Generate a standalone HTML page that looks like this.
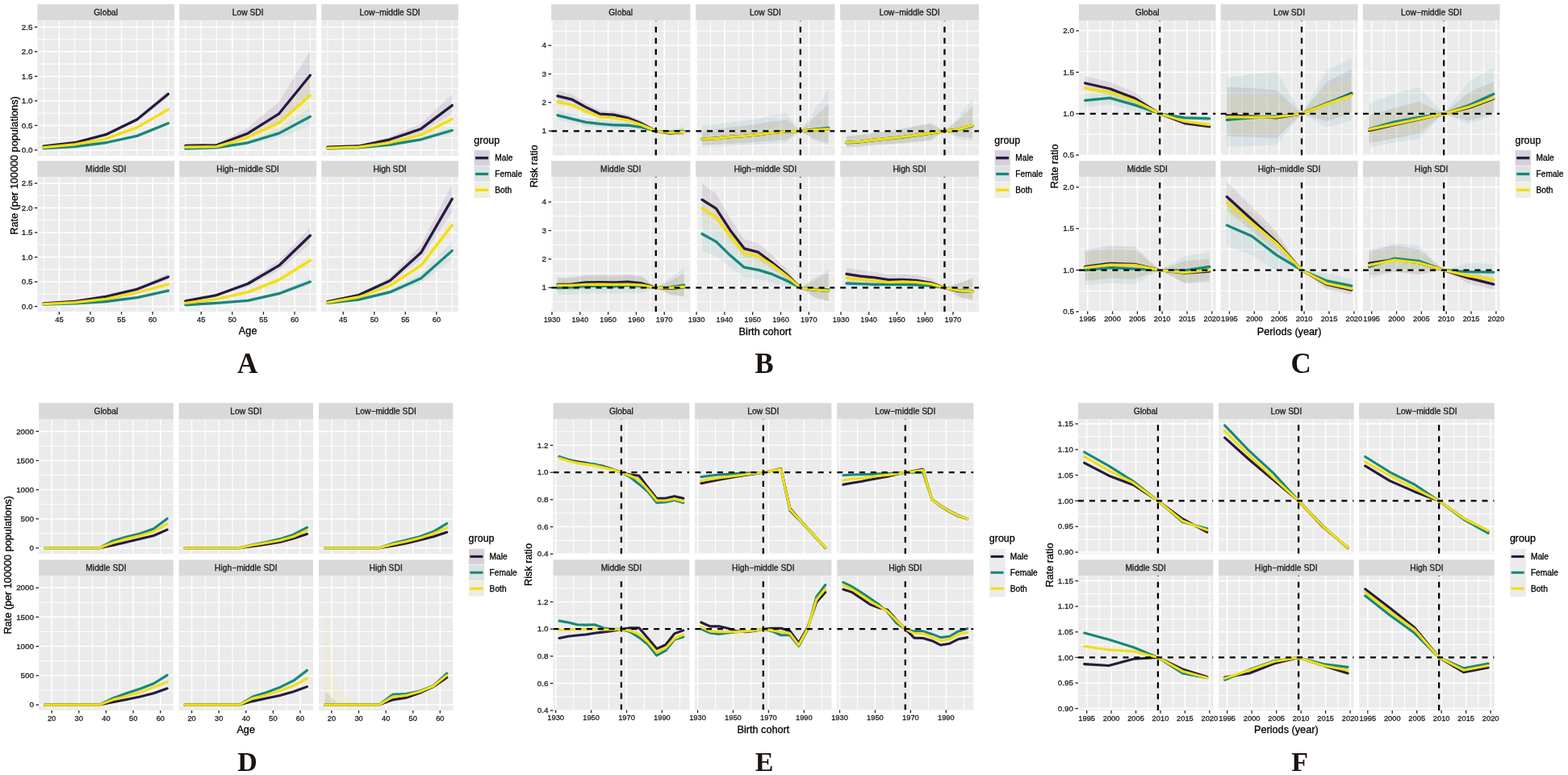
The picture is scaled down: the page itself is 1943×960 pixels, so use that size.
<!DOCTYPE html>
<html><head><meta charset="utf-8"><title>Age-period-cohort effects</title>
<style>html,body{margin:0;padding:0;background:#fff;}svg{display:block;}text{stroke-width:0.3px;}</style></head>
<body>
<svg width="1943" height="960" viewBox="0 0 1943 960" font-family="'Liberation Sans', Arial, Helvetica, sans-serif">
<rect width="1943" height="960" fill="#fff"/>
<rect x="46.4" y="5.2" width="169.7" height="20.3" fill="#d9d9d9"/>
<text x="131.25" y="19.15" font-size="10.3" fill="#1a1a1a" stroke="#1a1a1a" text-anchor="middle">Global</text>
<rect x="46.4" y="25.5" width="169.7" height="167.4" fill="#ebebeb"/>
<svg x="46.4" y="25.5" width="169.7" height="167.4" viewBox="46.4 25.5 169.7 167.4" overflow="hidden">
<line x1="46.4" x2="216.1" y1="170.66" y2="170.66" stroke="#fff" stroke-width="1.0"/>
<line x1="46.4" x2="216.1" y1="140.18" y2="140.18" stroke="#fff" stroke-width="1.0"/>
<line x1="46.4" x2="216.1" y1="109.7" y2="109.7" stroke="#fff" stroke-width="1.0"/>
<line x1="46.4" x2="216.1" y1="79.22" y2="79.22" stroke="#fff" stroke-width="1.0"/>
<line x1="46.4" x2="216.1" y1="48.74" y2="48.74" stroke="#fff" stroke-width="1.0"/>
<line x1="54.11" x2="54.11" y1="25.5" y2="192.9" stroke="#fff" stroke-width="1.0"/>
<line x1="92.68" x2="92.68" y1="25.5" y2="192.9" stroke="#fff" stroke-width="1.0"/>
<line x1="131.25" x2="131.25" y1="25.5" y2="192.9" stroke="#fff" stroke-width="1.0"/>
<line x1="169.82" x2="169.82" y1="25.5" y2="192.9" stroke="#fff" stroke-width="1.0"/>
<line x1="208.39" x2="208.39" y1="25.5" y2="192.9" stroke="#fff" stroke-width="1.0"/>
<line x1="46.4" x2="216.1" y1="185.9" y2="185.9" stroke="#fff" stroke-width="1.5"/>
<line x1="46.4" x2="216.1" y1="155.42" y2="155.42" stroke="#fff" stroke-width="1.5"/>
<line x1="46.4" x2="216.1" y1="124.94" y2="124.94" stroke="#fff" stroke-width="1.5"/>
<line x1="46.4" x2="216.1" y1="94.46" y2="94.46" stroke="#fff" stroke-width="1.5"/>
<line x1="46.4" x2="216.1" y1="63.98" y2="63.98" stroke="#fff" stroke-width="1.5"/>
<line x1="46.4" x2="216.1" y1="33.5" y2="33.5" stroke="#fff" stroke-width="1.5"/>
<line x1="73.4" x2="73.4" y1="25.5" y2="192.9" stroke="#fff" stroke-width="1.5"/>
<line x1="111.97" x2="111.97" y1="25.5" y2="192.9" stroke="#fff" stroke-width="1.5"/>
<line x1="150.53" x2="150.53" y1="25.5" y2="192.9" stroke="#fff" stroke-width="1.5"/>
<line x1="189.1" x2="189.1" y1="25.5" y2="192.9" stroke="#fff" stroke-width="1.5"/>
<polygon points="54.11,180.73 92.68,176.21 131.25,165.55 169.82,145.84 208.39,112.24 208.39,120.58 169.82,150.37 131.25,167.85 92.68,177.3 54.11,181.32" fill="#440154" fill-opacity="0.09"/>
<polygon points="54.11,183.64 92.68,181.38 131.25,176.21 169.82,167.35 208.39,150.68 208.39,154.67 169.82,169.45 131.25,177.3 92.68,181.89 54.11,183.89" fill="#21908c" fill-opacity="0.09"/>
<polygon points="54.11,182.41 92.68,178.47 131.25,171.04 169.82,156.18 208.39,132.59 208.39,138.63 169.82,159.54 131.25,172.72 92.68,179.31 54.11,182.81" fill="#fde725" fill-opacity="0.09"/>
<polyline points="54.11,181.02 92.68,176.76 131.25,166.7 169.82,148.1 208.39,116.41" fill="none" stroke="#251b40" stroke-width="3.3" stroke-linejoin="round" stroke-linecap="round"/>
<polyline points="54.11,183.77 92.68,181.63 131.25,176.76 169.82,168.4 208.39,152.68" fill="none" stroke="#17877b" stroke-width="3.3" stroke-linejoin="round" stroke-linecap="round"/>
<polyline points="54.11,182.61 92.68,178.89 131.25,171.88 169.82,157.86 208.39,135.61" fill="none" stroke="#f3de10" stroke-width="3.3" stroke-linejoin="round" stroke-linecap="round"/>
</svg>
<line x1="42.8" x2="46.4" y1="185.9" y2="185.9" stroke="#222" stroke-width="1.3"/>
<text transform="translate(40.4,189.07) scale(1,1)" font-size="9.9" fill="#1e1e1e" stroke="#1e1e1e" text-anchor="end">0.0</text>
<line x1="42.8" x2="46.4" y1="155.42" y2="155.42" stroke="#222" stroke-width="1.3"/>
<text transform="translate(40.4,158.59) scale(1,1)" font-size="9.9" fill="#1e1e1e" stroke="#1e1e1e" text-anchor="end">0.5</text>
<line x1="42.8" x2="46.4" y1="124.94" y2="124.94" stroke="#222" stroke-width="1.3"/>
<text transform="translate(40.4,128.11) scale(1,1)" font-size="9.9" fill="#1e1e1e" stroke="#1e1e1e" text-anchor="end">1.0</text>
<line x1="42.8" x2="46.4" y1="94.46" y2="94.46" stroke="#222" stroke-width="1.3"/>
<text transform="translate(40.4,97.63) scale(1,1)" font-size="9.9" fill="#1e1e1e" stroke="#1e1e1e" text-anchor="end">1.5</text>
<line x1="42.8" x2="46.4" y1="63.98" y2="63.98" stroke="#222" stroke-width="1.3"/>
<text transform="translate(40.4,67.15) scale(1,1)" font-size="9.9" fill="#1e1e1e" stroke="#1e1e1e" text-anchor="end">2.0</text>
<line x1="42.8" x2="46.4" y1="33.5" y2="33.5" stroke="#222" stroke-width="1.3"/>
<text transform="translate(40.4,36.67) scale(1,1)" font-size="9.9" fill="#1e1e1e" stroke="#1e1e1e" text-anchor="end">2.5</text>
<rect x="222.2" y="5.2" width="169.9" height="20.3" fill="#d9d9d9"/>
<text x="307.15" y="19.15" font-size="10.3" fill="#1a1a1a" stroke="#1a1a1a" text-anchor="middle">Low SDI</text>
<rect x="222.2" y="25.5" width="169.9" height="167.4" fill="#ebebeb"/>
<svg x="222.2" y="25.5" width="169.9" height="167.4" viewBox="222.2 25.5 169.9 167.4" overflow="hidden">
<line x1="222.2" x2="392.1" y1="170.66" y2="170.66" stroke="#fff" stroke-width="1.0"/>
<line x1="222.2" x2="392.1" y1="140.18" y2="140.18" stroke="#fff" stroke-width="1.0"/>
<line x1="222.2" x2="392.1" y1="109.7" y2="109.7" stroke="#fff" stroke-width="1.0"/>
<line x1="222.2" x2="392.1" y1="79.22" y2="79.22" stroke="#fff" stroke-width="1.0"/>
<line x1="222.2" x2="392.1" y1="48.74" y2="48.74" stroke="#fff" stroke-width="1.0"/>
<line x1="229.92" x2="229.92" y1="25.5" y2="192.9" stroke="#fff" stroke-width="1.0"/>
<line x1="268.54" x2="268.54" y1="25.5" y2="192.9" stroke="#fff" stroke-width="1.0"/>
<line x1="307.15" x2="307.15" y1="25.5" y2="192.9" stroke="#fff" stroke-width="1.0"/>
<line x1="345.76" x2="345.76" y1="25.5" y2="192.9" stroke="#fff" stroke-width="1.0"/>
<line x1="384.38" x2="384.38" y1="25.5" y2="192.9" stroke="#fff" stroke-width="1.0"/>
<line x1="222.2" x2="392.1" y1="185.9" y2="185.9" stroke="#fff" stroke-width="1.5"/>
<line x1="222.2" x2="392.1" y1="155.42" y2="155.42" stroke="#fff" stroke-width="1.5"/>
<line x1="222.2" x2="392.1" y1="124.94" y2="124.94" stroke="#fff" stroke-width="1.5"/>
<line x1="222.2" x2="392.1" y1="94.46" y2="94.46" stroke="#fff" stroke-width="1.5"/>
<line x1="222.2" x2="392.1" y1="63.98" y2="63.98" stroke="#fff" stroke-width="1.5"/>
<line x1="222.2" x2="392.1" y1="33.5" y2="33.5" stroke="#fff" stroke-width="1.5"/>
<line x1="249.23" x2="249.23" y1="25.5" y2="192.9" stroke="#fff" stroke-width="1.5"/>
<line x1="287.84" x2="287.84" y1="25.5" y2="192.9" stroke="#fff" stroke-width="1.5"/>
<line x1="326.46" x2="326.46" y1="25.5" y2="192.9" stroke="#fff" stroke-width="1.5"/>
<line x1="365.07" x2="365.07" y1="25.5" y2="192.9" stroke="#fff" stroke-width="1.5"/>
<polygon points="229.92,178.6 268.54,177.79 307.15,158.33 345.76,125.9 384.38,62.66 384.38,116.41 345.76,152.07 307.15,170.36 268.54,181.33 229.92,181.79" fill="#440154" fill-opacity="0.09"/>
<polygon points="229.92,183.56 268.54,182 307.15,174.2 345.76,159.37 384.38,132.84 384.38,156.05 345.76,170.98 307.15,179.32 268.54,183.71 229.92,184.58" fill="#21908c" fill-opacity="0.09"/>
<polygon points="229.92,181.18 268.54,180.4 307.15,165.45 345.76,142.65 384.38,98.61 384.38,135.83 345.76,161.09 307.15,174.17 268.54,182.74 229.92,183.19" fill="#fde725" fill-opacity="0.09"/>
<polyline points="229.92,180.41 268.54,179.8 307.15,165.17 345.76,140.79 384.38,93.24" fill="none" stroke="#251b40" stroke-width="3.3" stroke-linejoin="round" stroke-linecap="round"/>
<polyline points="229.92,184.07 268.54,182.85 307.15,176.76 345.76,165.17 384.38,144.45" fill="none" stroke="#17877b" stroke-width="3.3" stroke-linejoin="round" stroke-linecap="round"/>
<polyline points="229.92,182.24 268.54,181.63 307.15,170.05 345.76,152.37 384.38,118.23" fill="none" stroke="#f3de10" stroke-width="3.3" stroke-linejoin="round" stroke-linecap="round"/>
</svg>
<rect x="398.3" y="5.2" width="169.6" height="20.3" fill="#d9d9d9"/>
<text x="483.1" y="19.15" font-size="10.3" fill="#1a1a1a" stroke="#1a1a1a" text-anchor="middle">Low&#8722;middle SDI</text>
<rect x="398.3" y="25.5" width="169.6" height="167.4" fill="#ebebeb"/>
<svg x="398.3" y="25.5" width="169.6" height="167.4" viewBox="398.3 25.5 169.6 167.4" overflow="hidden">
<line x1="398.3" x2="567.9" y1="170.66" y2="170.66" stroke="#fff" stroke-width="1.0"/>
<line x1="398.3" x2="567.9" y1="140.18" y2="140.18" stroke="#fff" stroke-width="1.0"/>
<line x1="398.3" x2="567.9" y1="109.7" y2="109.7" stroke="#fff" stroke-width="1.0"/>
<line x1="398.3" x2="567.9" y1="79.22" y2="79.22" stroke="#fff" stroke-width="1.0"/>
<line x1="398.3" x2="567.9" y1="48.74" y2="48.74" stroke="#fff" stroke-width="1.0"/>
<line x1="406.01" x2="406.01" y1="25.5" y2="192.9" stroke="#fff" stroke-width="1.0"/>
<line x1="444.55" x2="444.55" y1="25.5" y2="192.9" stroke="#fff" stroke-width="1.0"/>
<line x1="483.1" x2="483.1" y1="25.5" y2="192.9" stroke="#fff" stroke-width="1.0"/>
<line x1="521.65" x2="521.65" y1="25.5" y2="192.9" stroke="#fff" stroke-width="1.0"/>
<line x1="560.19" x2="560.19" y1="25.5" y2="192.9" stroke="#fff" stroke-width="1.0"/>
<line x1="398.3" x2="567.9" y1="185.9" y2="185.9" stroke="#fff" stroke-width="1.5"/>
<line x1="398.3" x2="567.9" y1="155.42" y2="155.42" stroke="#fff" stroke-width="1.5"/>
<line x1="398.3" x2="567.9" y1="124.94" y2="124.94" stroke="#fff" stroke-width="1.5"/>
<line x1="398.3" x2="567.9" y1="94.46" y2="94.46" stroke="#fff" stroke-width="1.5"/>
<line x1="398.3" x2="567.9" y1="63.98" y2="63.98" stroke="#fff" stroke-width="1.5"/>
<line x1="398.3" x2="567.9" y1="33.5" y2="33.5" stroke="#fff" stroke-width="1.5"/>
<line x1="425.28" x2="425.28" y1="25.5" y2="192.9" stroke="#fff" stroke-width="1.5"/>
<line x1="463.83" x2="463.83" y1="25.5" y2="192.9" stroke="#fff" stroke-width="1.5"/>
<line x1="502.37" x2="502.37" y1="25.5" y2="192.9" stroke="#fff" stroke-width="1.5"/>
<line x1="540.92" x2="540.92" y1="25.5" y2="192.9" stroke="#fff" stroke-width="1.5"/>
<polygon points="406.01,181.33 444.55,179.8 483.1,169.52 521.65,153.13 560.19,116.79 560.19,140.56 521.65,164.41 483.1,175.15 444.55,181.9 406.01,182.9" fill="#440154" fill-opacity="0.09"/>
<polygon points="406.01,183.71 444.55,182.24 483.1,178.07 521.65,170.17 560.19,156.64 560.19,165.91 521.65,175.15 483.1,180.55 444.55,183.4 406.01,184.4" fill="#21908c" fill-opacity="0.09"/>
<polygon points="406.01,182.97 444.55,181.51 483.1,174.93 521.65,163.22 560.19,139.81 560.19,154.41 521.65,170.4 483.1,178.4 444.55,182.9 406.01,183.9" fill="#fde725" fill-opacity="0.09"/>
<polyline points="406.01,182.24 444.55,181.02 483.1,172.79 521.65,159.69 560.19,130.61" fill="none" stroke="#251b40" stroke-width="3.3" stroke-linejoin="round" stroke-linecap="round"/>
<polyline points="406.01,184.07 444.55,182.85 483.1,179.38 521.65,172.79 560.19,161.52" fill="none" stroke="#17877b" stroke-width="3.3" stroke-linejoin="round" stroke-linecap="round"/>
<polyline points="406.01,183.46 444.55,182.24 483.1,176.76 521.65,167 560.19,147.5" fill="none" stroke="#f3de10" stroke-width="3.3" stroke-linejoin="round" stroke-linecap="round"/>
</svg>
<rect x="46.4" y="199.2" width="169.7" height="20.1" fill="#d9d9d9"/>
<text x="131.25" y="213.05" font-size="10.3" fill="#1a1a1a" stroke="#1a1a1a" text-anchor="middle">Middle SDI</text>
<rect x="46.4" y="219.3" width="169.7" height="166.8" fill="#ebebeb"/>
<svg x="46.4" y="219.3" width="169.7" height="166.8" viewBox="46.4 219.3 169.7 166.8" overflow="hidden">
<line x1="46.4" x2="216.1" y1="364.34" y2="364.34" stroke="#fff" stroke-width="1.0"/>
<line x1="46.4" x2="216.1" y1="333.82" y2="333.82" stroke="#fff" stroke-width="1.0"/>
<line x1="46.4" x2="216.1" y1="303.3" y2="303.3" stroke="#fff" stroke-width="1.0"/>
<line x1="46.4" x2="216.1" y1="272.78" y2="272.78" stroke="#fff" stroke-width="1.0"/>
<line x1="46.4" x2="216.1" y1="242.26" y2="242.26" stroke="#fff" stroke-width="1.0"/>
<line x1="54.11" x2="54.11" y1="219.3" y2="386.1" stroke="#fff" stroke-width="1.0"/>
<line x1="92.68" x2="92.68" y1="219.3" y2="386.1" stroke="#fff" stroke-width="1.0"/>
<line x1="131.25" x2="131.25" y1="219.3" y2="386.1" stroke="#fff" stroke-width="1.0"/>
<line x1="169.82" x2="169.82" y1="219.3" y2="386.1" stroke="#fff" stroke-width="1.0"/>
<line x1="208.39" x2="208.39" y1="219.3" y2="386.1" stroke="#fff" stroke-width="1.0"/>
<line x1="46.4" x2="216.1" y1="379.6" y2="379.6" stroke="#fff" stroke-width="1.5"/>
<line x1="46.4" x2="216.1" y1="349.08" y2="349.08" stroke="#fff" stroke-width="1.5"/>
<line x1="46.4" x2="216.1" y1="318.56" y2="318.56" stroke="#fff" stroke-width="1.5"/>
<line x1="46.4" x2="216.1" y1="288.04" y2="288.04" stroke="#fff" stroke-width="1.5"/>
<line x1="46.4" x2="216.1" y1="257.52" y2="257.52" stroke="#fff" stroke-width="1.5"/>
<line x1="46.4" x2="216.1" y1="227" y2="227" stroke="#fff" stroke-width="1.5"/>
<line x1="73.4" x2="73.4" y1="219.3" y2="386.1" stroke="#fff" stroke-width="1.5"/>
<line x1="111.97" x2="111.97" y1="219.3" y2="386.1" stroke="#fff" stroke-width="1.5"/>
<line x1="150.53" x2="150.53" y1="219.3" y2="386.1" stroke="#fff" stroke-width="1.5"/>
<line x1="189.1" x2="189.1" y1="219.3" y2="386.1" stroke="#fff" stroke-width="1.5"/>
<polygon points="54.11,375.5 92.68,372.76 131.25,365.93 169.82,355.67 208.39,338.58 208.39,346.64 169.82,360.37 131.25,368.61 92.68,374.11 54.11,376.3" fill="#440154" fill-opacity="0.09"/>
<polygon points="54.11,376.91 92.68,375.57 131.25,372.89 169.82,367.51 208.39,358.11 208.39,362.02 169.82,369.71 131.25,374.11 92.68,376.3 54.11,377.4" fill="#21908c" fill-opacity="0.09"/>
<polygon points="54.11,376.24 92.68,374.23 131.25,369.53 169.82,360.8 208.39,349.39 208.39,354.88 169.82,364.22 131.25,371.36 92.68,375.21 54.11,376.85" fill="#fde725" fill-opacity="0.09"/>
<polyline points="54.11,375.94 92.68,373.5 131.25,367.39 169.82,358.24 208.39,342.98" fill="none" stroke="#251b40" stroke-width="3.3" stroke-linejoin="round" stroke-linecap="round"/>
<polyline points="54.11,377.16 92.68,375.94 131.25,373.5 169.82,368.61 208.39,360.07" fill="none" stroke="#17877b" stroke-width="3.3" stroke-linejoin="round" stroke-linecap="round"/>
<polyline points="54.11,376.55 92.68,374.72 131.25,370.44 169.82,362.51 208.39,352.13" fill="none" stroke="#f3de10" stroke-width="3.3" stroke-linejoin="round" stroke-linecap="round"/>
</svg>
<line x1="42.8" x2="46.4" y1="379.6" y2="379.6" stroke="#222" stroke-width="1.3"/>
<text transform="translate(40.4,382.77) scale(1,1)" font-size="9.9" fill="#1e1e1e" stroke="#1e1e1e" text-anchor="end">0.0</text>
<line x1="42.8" x2="46.4" y1="349.08" y2="349.08" stroke="#222" stroke-width="1.3"/>
<text transform="translate(40.4,352.25) scale(1,1)" font-size="9.9" fill="#1e1e1e" stroke="#1e1e1e" text-anchor="end">0.5</text>
<line x1="42.8" x2="46.4" y1="318.56" y2="318.56" stroke="#222" stroke-width="1.3"/>
<text transform="translate(40.4,321.73) scale(1,1)" font-size="9.9" fill="#1e1e1e" stroke="#1e1e1e" text-anchor="end">1.0</text>
<line x1="42.8" x2="46.4" y1="288.04" y2="288.04" stroke="#222" stroke-width="1.3"/>
<text transform="translate(40.4,291.21) scale(1,1)" font-size="9.9" fill="#1e1e1e" stroke="#1e1e1e" text-anchor="end">1.5</text>
<line x1="42.8" x2="46.4" y1="257.52" y2="257.52" stroke="#222" stroke-width="1.3"/>
<text transform="translate(40.4,260.69) scale(1,1)" font-size="9.9" fill="#1e1e1e" stroke="#1e1e1e" text-anchor="end">2.0</text>
<line x1="42.8" x2="46.4" y1="227" y2="227" stroke="#222" stroke-width="1.3"/>
<text transform="translate(40.4,230.17) scale(1,1)" font-size="9.9" fill="#1e1e1e" stroke="#1e1e1e" text-anchor="end">2.5</text>
<line x1="73.4" x2="73.4" y1="386.1" y2="389.7" stroke="#222" stroke-width="1.3"/>
<text transform="translate(73.4,398.9) scale(1,1)" font-size="9.3" fill="#1e1e1e" stroke="#1e1e1e" text-anchor="middle">45</text>
<line x1="111.97" x2="111.97" y1="386.1" y2="389.7" stroke="#222" stroke-width="1.3"/>
<text transform="translate(111.97,398.9) scale(1,1)" font-size="9.3" fill="#1e1e1e" stroke="#1e1e1e" text-anchor="middle">50</text>
<line x1="150.53" x2="150.53" y1="386.1" y2="389.7" stroke="#222" stroke-width="1.3"/>
<text transform="translate(150.53,398.9) scale(1,1)" font-size="9.3" fill="#1e1e1e" stroke="#1e1e1e" text-anchor="middle">55</text>
<line x1="189.1" x2="189.1" y1="386.1" y2="389.7" stroke="#222" stroke-width="1.3"/>
<text transform="translate(189.1,398.9) scale(1,1)" font-size="9.3" fill="#1e1e1e" stroke="#1e1e1e" text-anchor="middle">60</text>
<rect x="222.2" y="199.2" width="169.9" height="20.1" fill="#d9d9d9"/>
<text x="307.15" y="213.05" font-size="10.3" fill="#1a1a1a" stroke="#1a1a1a" text-anchor="middle">High&#8722;middle SDI</text>
<rect x="222.2" y="219.3" width="169.9" height="166.8" fill="#ebebeb"/>
<svg x="222.2" y="219.3" width="169.9" height="166.8" viewBox="222.2 219.3 169.9 166.8" overflow="hidden">
<line x1="222.2" x2="392.1" y1="364.34" y2="364.34" stroke="#fff" stroke-width="1.0"/>
<line x1="222.2" x2="392.1" y1="333.82" y2="333.82" stroke="#fff" stroke-width="1.0"/>
<line x1="222.2" x2="392.1" y1="303.3" y2="303.3" stroke="#fff" stroke-width="1.0"/>
<line x1="222.2" x2="392.1" y1="272.78" y2="272.78" stroke="#fff" stroke-width="1.0"/>
<line x1="222.2" x2="392.1" y1="242.26" y2="242.26" stroke="#fff" stroke-width="1.0"/>
<line x1="229.92" x2="229.92" y1="219.3" y2="386.1" stroke="#fff" stroke-width="1.0"/>
<line x1="268.54" x2="268.54" y1="219.3" y2="386.1" stroke="#fff" stroke-width="1.0"/>
<line x1="307.15" x2="307.15" y1="219.3" y2="386.1" stroke="#fff" stroke-width="1.0"/>
<line x1="345.76" x2="345.76" y1="219.3" y2="386.1" stroke="#fff" stroke-width="1.0"/>
<line x1="384.38" x2="384.38" y1="219.3" y2="386.1" stroke="#fff" stroke-width="1.0"/>
<line x1="222.2" x2="392.1" y1="379.6" y2="379.6" stroke="#fff" stroke-width="1.5"/>
<line x1="222.2" x2="392.1" y1="349.08" y2="349.08" stroke="#fff" stroke-width="1.5"/>
<line x1="222.2" x2="392.1" y1="318.56" y2="318.56" stroke="#fff" stroke-width="1.5"/>
<line x1="222.2" x2="392.1" y1="288.04" y2="288.04" stroke="#fff" stroke-width="1.5"/>
<line x1="222.2" x2="392.1" y1="257.52" y2="257.52" stroke="#fff" stroke-width="1.5"/>
<line x1="222.2" x2="392.1" y1="227" y2="227" stroke="#fff" stroke-width="1.5"/>
<line x1="249.23" x2="249.23" y1="219.3" y2="386.1" stroke="#fff" stroke-width="1.5"/>
<line x1="287.84" x2="287.84" y1="219.3" y2="386.1" stroke="#fff" stroke-width="1.5"/>
<line x1="326.46" x2="326.46" y1="219.3" y2="386.1" stroke="#fff" stroke-width="1.5"/>
<line x1="365.07" x2="365.07" y1="219.3" y2="386.1" stroke="#fff" stroke-width="1.5"/>
<polygon points="229.92,372.08 268.54,363.88 307.15,348.15 345.76,322.86 384.38,281.15 384.38,302.25 345.76,335.02 307.15,354.89 268.54,367.25 229.92,373.69" fill="#440154" fill-opacity="0.09"/>
<polygon points="229.92,377.49 268.54,374.69 307.15,371.18 345.76,361.35 384.38,344.5 384.38,352.74 345.76,365.63 307.15,373.15 268.54,375.84 229.92,377.99" fill="#21908c" fill-opacity="0.09"/>
<polygon points="229.92,374.9 268.54,369.53 307.15,360.13 345.76,343.34 384.38,316.82 384.38,328.23 345.76,349.93 307.15,363.67 268.54,371.36 229.92,375.75" fill="#fde725" fill-opacity="0.09"/>
<polyline points="229.92,372.89 268.54,365.56 307.15,351.52 345.76,328.94 384.38,291.7" fill="none" stroke="#251b40" stroke-width="3.3" stroke-linejoin="round" stroke-linecap="round"/>
<polyline points="229.92,377.77 268.54,375.33 307.15,372.28 345.76,363.73 384.38,349.08" fill="none" stroke="#17877b" stroke-width="3.3" stroke-linejoin="round" stroke-linecap="round"/>
<polyline points="229.92,375.33 268.54,370.44 307.15,361.9 345.76,346.64 384.38,322.53" fill="none" stroke="#f3de10" stroke-width="3.3" stroke-linejoin="round" stroke-linecap="round"/>
</svg>
<line x1="249.23" x2="249.23" y1="386.1" y2="389.7" stroke="#222" stroke-width="1.3"/>
<text transform="translate(249.23,398.9) scale(1,1)" font-size="9.3" fill="#1e1e1e" stroke="#1e1e1e" text-anchor="middle">45</text>
<line x1="287.84" x2="287.84" y1="386.1" y2="389.7" stroke="#222" stroke-width="1.3"/>
<text transform="translate(287.84,398.9) scale(1,1)" font-size="9.3" fill="#1e1e1e" stroke="#1e1e1e" text-anchor="middle">50</text>
<line x1="326.46" x2="326.46" y1="386.1" y2="389.7" stroke="#222" stroke-width="1.3"/>
<text transform="translate(326.46,398.9) scale(1,1)" font-size="9.3" fill="#1e1e1e" stroke="#1e1e1e" text-anchor="middle">55</text>
<line x1="365.07" x2="365.07" y1="386.1" y2="389.7" stroke="#222" stroke-width="1.3"/>
<text transform="translate(365.07,398.9) scale(1,1)" font-size="9.3" fill="#1e1e1e" stroke="#1e1e1e" text-anchor="middle">60</text>
<rect x="398.3" y="199.2" width="169.6" height="20.1" fill="#d9d9d9"/>
<text x="483.1" y="213.05" font-size="10.3" fill="#1a1a1a" stroke="#1a1a1a" text-anchor="middle">High SDI</text>
<rect x="398.3" y="219.3" width="169.6" height="166.8" fill="#ebebeb"/>
<svg x="398.3" y="219.3" width="169.6" height="166.8" viewBox="398.3 219.3 169.6 166.8" overflow="hidden">
<line x1="398.3" x2="567.9" y1="364.34" y2="364.34" stroke="#fff" stroke-width="1.0"/>
<line x1="398.3" x2="567.9" y1="333.82" y2="333.82" stroke="#fff" stroke-width="1.0"/>
<line x1="398.3" x2="567.9" y1="303.3" y2="303.3" stroke="#fff" stroke-width="1.0"/>
<line x1="398.3" x2="567.9" y1="272.78" y2="272.78" stroke="#fff" stroke-width="1.0"/>
<line x1="398.3" x2="567.9" y1="242.26" y2="242.26" stroke="#fff" stroke-width="1.0"/>
<line x1="406.01" x2="406.01" y1="219.3" y2="386.1" stroke="#fff" stroke-width="1.0"/>
<line x1="444.55" x2="444.55" y1="219.3" y2="386.1" stroke="#fff" stroke-width="1.0"/>
<line x1="483.1" x2="483.1" y1="219.3" y2="386.1" stroke="#fff" stroke-width="1.0"/>
<line x1="521.65" x2="521.65" y1="219.3" y2="386.1" stroke="#fff" stroke-width="1.0"/>
<line x1="560.19" x2="560.19" y1="219.3" y2="386.1" stroke="#fff" stroke-width="1.0"/>
<line x1="398.3" x2="567.9" y1="379.6" y2="379.6" stroke="#fff" stroke-width="1.5"/>
<line x1="398.3" x2="567.9" y1="349.08" y2="349.08" stroke="#fff" stroke-width="1.5"/>
<line x1="398.3" x2="567.9" y1="318.56" y2="318.56" stroke="#fff" stroke-width="1.5"/>
<line x1="398.3" x2="567.9" y1="288.04" y2="288.04" stroke="#fff" stroke-width="1.5"/>
<line x1="398.3" x2="567.9" y1="257.52" y2="257.52" stroke="#fff" stroke-width="1.5"/>
<line x1="398.3" x2="567.9" y1="227" y2="227" stroke="#fff" stroke-width="1.5"/>
<line x1="425.28" x2="425.28" y1="219.3" y2="386.1" stroke="#fff" stroke-width="1.5"/>
<line x1="463.83" x2="463.83" y1="219.3" y2="386.1" stroke="#fff" stroke-width="1.5"/>
<line x1="502.37" x2="502.37" y1="219.3" y2="386.1" stroke="#fff" stroke-width="1.5"/>
<line x1="540.92" x2="540.92" y1="219.3" y2="386.1" stroke="#fff" stroke-width="1.5"/>
<polygon points="406.01,372.64 444.55,363.6 483.1,343.42 521.65,303.75 560.19,227.9 560.19,262.5 521.65,321.05 483.1,351.67 444.55,367.25 406.01,374.23" fill="#440154" fill-opacity="0.09"/>
<polygon points="406.01,374.6 444.55,369.6 483.1,358.89 521.65,338.89 560.19,298.9 560.19,321.66 521.65,350.37 483.1,364.73 444.55,372.42 406.01,376.01" fill="#21908c" fill-opacity="0.09"/>
<polygon points="406.01,374.23 444.55,366.84 483.1,351.4 521.65,323.87 560.19,268.81 560.19,288.96 521.65,334 483.1,356.53 444.55,369.16 406.01,375.21" fill="#fde725" fill-opacity="0.09"/>
<polyline points="406.01,373.5 444.55,365.56 483.1,347.86 521.65,313.07 560.19,246.53" fill="none" stroke="#251b40" stroke-width="3.3" stroke-linejoin="round" stroke-linecap="round"/>
<polyline points="406.01,375.33 444.55,371.05 483.1,361.9 521.65,344.81 560.19,310.62" fill="none" stroke="#17877b" stroke-width="3.3" stroke-linejoin="round" stroke-linecap="round"/>
<polyline points="406.01,374.72 444.55,368 483.1,353.96 521.65,328.94 560.19,278.88" fill="none" stroke="#f3de10" stroke-width="3.3" stroke-linejoin="round" stroke-linecap="round"/>
</svg>
<line x1="425.28" x2="425.28" y1="386.1" y2="389.7" stroke="#222" stroke-width="1.3"/>
<text transform="translate(425.28,398.9) scale(1,1)" font-size="9.3" fill="#1e1e1e" stroke="#1e1e1e" text-anchor="middle">45</text>
<line x1="463.83" x2="463.83" y1="386.1" y2="389.7" stroke="#222" stroke-width="1.3"/>
<text transform="translate(463.83,398.9) scale(1,1)" font-size="9.3" fill="#1e1e1e" stroke="#1e1e1e" text-anchor="middle">50</text>
<line x1="502.37" x2="502.37" y1="386.1" y2="389.7" stroke="#222" stroke-width="1.3"/>
<text transform="translate(502.37,398.9) scale(1,1)" font-size="9.3" fill="#1e1e1e" stroke="#1e1e1e" text-anchor="middle">55</text>
<line x1="540.92" x2="540.92" y1="386.1" y2="389.7" stroke="#222" stroke-width="1.3"/>
<text transform="translate(540.92,398.9) scale(1,1)" font-size="9.3" fill="#1e1e1e" stroke="#1e1e1e" text-anchor="middle">60</text>
<text x="307.15" y="414.4" font-size="12.7" fill="#000" stroke="#000" text-anchor="middle">Age</text>
<text transform="translate(21.8,205) rotate(-90)" font-size="12.7" fill="#000" stroke="#000" text-anchor="middle">Rate (per 100000 populations)</text>
<text x="587.3" y="177.5" font-size="12.5" fill="#000" stroke="#000">group</text>
<rect x="587.6" y="186.1" width="19.2" height="19.2" fill="#d6d0d8"/>
<line x1="589.1" x2="605.1" y1="195.7" y2="195.7" stroke="#251b40" stroke-width="3.3"/>
<text x="613.3" y="199.4" font-size="10.2" fill="#000" stroke="#000">Male</text>
<rect x="587.6" y="205.95" width="19.2" height="19.2" fill="#dce2e2"/>
<line x1="589.1" x2="605.1" y1="215.55" y2="215.55" stroke="#17877b" stroke-width="3.3"/>
<text x="613.3" y="219.25" font-size="10.2" fill="#000" stroke="#000">Female</text>
<rect x="587.6" y="225.8" width="19.2" height="19.2" fill="#efeddf"/>
<line x1="589.1" x2="605.1" y1="235.4" y2="235.4" stroke="#f3de10" stroke-width="3.3"/>
<text x="613.3" y="239.1" font-size="10.2" fill="#000" stroke="#000">Both</text>
<text x="306.6" y="462.2" font-size="35" font-weight="bold" fill="#1a1410" stroke="#1a1410" style="stroke:none" text-anchor="middle" font-family="'Liberation Serif', 'Times New Roman', serif">A</text>
<rect x="683.1" y="5.2" width="172.3" height="20.2" fill="#d9d9d9"/>
<text x="769.25" y="19.1" font-size="10.3" fill="#1a1a1a" stroke="#1a1a1a" text-anchor="middle">Global</text>
<rect x="683.1" y="25.4" width="172.3" height="167.1" fill="#ebebeb"/>
<svg x="683.1" y="25.4" width="172.3" height="167.1" viewBox="683.1 25.4 172.3 167.1" overflow="hidden">
<line x1="683.1" x2="855.4" y1="179.98" y2="179.98" stroke="#fff" stroke-width="1.0"/>
<line x1="683.1" x2="855.4" y1="144.62" y2="144.62" stroke="#fff" stroke-width="1.0"/>
<line x1="683.1" x2="855.4" y1="109.28" y2="109.28" stroke="#fff" stroke-width="1.0"/>
<line x1="683.1" x2="855.4" y1="73.92" y2="73.92" stroke="#fff" stroke-width="1.0"/>
<line x1="683.1" x2="855.4" y1="38.57" y2="38.57" stroke="#fff" stroke-width="1.0"/>
<line x1="701.37" x2="701.37" y1="25.4" y2="192.5" stroke="#fff" stroke-width="1.0"/>
<line x1="736.18" x2="736.18" y1="25.4" y2="192.5" stroke="#fff" stroke-width="1.0"/>
<line x1="770.99" x2="770.99" y1="25.4" y2="192.5" stroke="#fff" stroke-width="1.0"/>
<line x1="805.8" x2="805.8" y1="25.4" y2="192.5" stroke="#fff" stroke-width="1.0"/>
<line x1="840.61" x2="840.61" y1="25.4" y2="192.5" stroke="#fff" stroke-width="1.0"/>
<line x1="683.1" x2="855.4" y1="162.3" y2="162.3" stroke="#fff" stroke-width="1.5"/>
<line x1="683.1" x2="855.4" y1="126.95" y2="126.95" stroke="#fff" stroke-width="1.5"/>
<line x1="683.1" x2="855.4" y1="91.6" y2="91.6" stroke="#fff" stroke-width="1.5"/>
<line x1="683.1" x2="855.4" y1="56.25" y2="56.25" stroke="#fff" stroke-width="1.5"/>
<line x1="683.97" x2="683.97" y1="25.4" y2="192.5" stroke="#fff" stroke-width="1.5"/>
<line x1="718.78" x2="718.78" y1="25.4" y2="192.5" stroke="#fff" stroke-width="1.5"/>
<line x1="753.59" x2="753.59" y1="25.4" y2="192.5" stroke="#fff" stroke-width="1.5"/>
<line x1="788.39" x2="788.39" y1="25.4" y2="192.5" stroke="#fff" stroke-width="1.5"/>
<line x1="823.2" x2="823.2" y1="25.4" y2="192.5" stroke="#fff" stroke-width="1.5"/>
<polygon points="690.93,112.25 708.34,116.85 725.74,127.19 743.14,136.38 760.55,137.53 777.95,141.74 795.36,149.4 812.76,162.3 830.16,162.7 847.57,158.99 847.57,167.24 830.16,167.39 812.76,162.3 795.36,156.53 777.95,150.01 760.55,146.42 743.14,145.44 725.74,137.61 708.34,128.8 690.93,124.88" fill="#440154" fill-opacity="0.09"/>
<polygon points="690.93,136.49 708.34,141.22 725.74,145.96 743.14,148.32 760.55,149.9 777.95,150.3 795.36,153.06 812.76,162.3 830.16,160.13 847.57,156.99 847.57,167.53 830.16,166.31 812.76,162.3 795.36,161.87 777.95,159.65 760.55,159.33 743.14,158.07 725.74,156.17 708.34,152.37 690.93,148.57" fill="#21908c" fill-opacity="0.09"/>
<polygon points="690.93,121.44 708.34,124.86 725.74,133.58 743.14,140.78 760.55,142.3 777.95,145.33 795.36,151.78 812.76,162.3 830.16,161.94 847.57,158.99 847.57,167.24 830.16,166.73 812.76,162.3 795.36,157.77 777.95,152.17 760.55,149.53 743.14,148.21 725.74,141.95 708.34,134.37 690.93,131.4" fill="#fde725" fill-opacity="0.09"/>
<polyline points="690.93,118.82 708.34,123.06 725.74,132.61 743.14,141.09 760.55,142.15 777.95,146.04 795.36,153.11 812.76,162.3 830.16,165.13 847.57,163.36" fill="none" stroke="#251b40" stroke-width="3.3" stroke-linejoin="round" stroke-linecap="round"/>
<polyline points="690.93,142.86 708.34,147.1 725.74,151.34 743.14,153.46 760.55,154.88 777.95,155.23 795.36,157.7 812.76,162.3 830.16,163.36 847.57,162.65" fill="none" stroke="#17877b" stroke-width="3.3" stroke-linejoin="round" stroke-linecap="round"/>
<polyline points="690.93,126.6 708.34,129.78 725.74,137.91 743.14,144.62 760.55,146.04 777.95,148.87 795.36,154.88 812.76,162.3 830.16,164.42 847.57,163.36" fill="none" stroke="#f3de10" stroke-width="3.3" stroke-linejoin="round" stroke-linecap="round"/>
<line x1="683.1" x2="855.4" y1="162.3" y2="162.3" stroke="#000" stroke-width="2.3" stroke-dasharray="7.1 6.75"/>
<line x1="812.76" x2="812.76" y1="192.5" y2="25.4" stroke="#000" stroke-width="2.3" stroke-dasharray="7.1 6.75"/>
</svg>
<line x1="679.5" x2="683.1" y1="162.3" y2="162.3" stroke="#222" stroke-width="1.3"/>
<text transform="translate(677.1,165.47) scale(1,1)" font-size="9.9" fill="#1e1e1e" stroke="#1e1e1e" text-anchor="end">1</text>
<line x1="679.5" x2="683.1" y1="126.95" y2="126.95" stroke="#222" stroke-width="1.3"/>
<text transform="translate(677.1,130.12) scale(1,1)" font-size="9.9" fill="#1e1e1e" stroke="#1e1e1e" text-anchor="end">2</text>
<line x1="679.5" x2="683.1" y1="91.6" y2="91.6" stroke="#222" stroke-width="1.3"/>
<text transform="translate(677.1,94.77) scale(1,1)" font-size="9.9" fill="#1e1e1e" stroke="#1e1e1e" text-anchor="end">3</text>
<line x1="679.5" x2="683.1" y1="56.25" y2="56.25" stroke="#222" stroke-width="1.3"/>
<text transform="translate(677.1,59.42) scale(1,1)" font-size="9.9" fill="#1e1e1e" stroke="#1e1e1e" text-anchor="end">4</text>
<rect x="862.2" y="5.2" width="172.3" height="20.2" fill="#d9d9d9"/>
<text x="948.35" y="19.1" font-size="10.3" fill="#1a1a1a" stroke="#1a1a1a" text-anchor="middle">Low SDI</text>
<rect x="862.2" y="25.4" width="172.3" height="167.1" fill="#ebebeb"/>
<svg x="862.2" y="25.4" width="172.3" height="167.1" viewBox="862.2 25.4 172.3 167.1" overflow="hidden">
<line x1="862.2" x2="1034.5" y1="179.98" y2="179.98" stroke="#fff" stroke-width="1.0"/>
<line x1="862.2" x2="1034.5" y1="144.62" y2="144.62" stroke="#fff" stroke-width="1.0"/>
<line x1="862.2" x2="1034.5" y1="109.28" y2="109.28" stroke="#fff" stroke-width="1.0"/>
<line x1="862.2" x2="1034.5" y1="73.92" y2="73.92" stroke="#fff" stroke-width="1.0"/>
<line x1="862.2" x2="1034.5" y1="38.57" y2="38.57" stroke="#fff" stroke-width="1.0"/>
<line x1="880.47" x2="880.47" y1="25.4" y2="192.5" stroke="#fff" stroke-width="1.0"/>
<line x1="915.28" x2="915.28" y1="25.4" y2="192.5" stroke="#fff" stroke-width="1.0"/>
<line x1="950.09" x2="950.09" y1="25.4" y2="192.5" stroke="#fff" stroke-width="1.0"/>
<line x1="984.9" x2="984.9" y1="25.4" y2="192.5" stroke="#fff" stroke-width="1.0"/>
<line x1="1019.71" x2="1019.71" y1="25.4" y2="192.5" stroke="#fff" stroke-width="1.0"/>
<line x1="862.2" x2="1034.5" y1="162.3" y2="162.3" stroke="#fff" stroke-width="1.5"/>
<line x1="862.2" x2="1034.5" y1="126.95" y2="126.95" stroke="#fff" stroke-width="1.5"/>
<line x1="862.2" x2="1034.5" y1="91.6" y2="91.6" stroke="#fff" stroke-width="1.5"/>
<line x1="862.2" x2="1034.5" y1="56.25" y2="56.25" stroke="#fff" stroke-width="1.5"/>
<line x1="863.07" x2="863.07" y1="25.4" y2="192.5" stroke="#fff" stroke-width="1.5"/>
<line x1="897.88" x2="897.88" y1="25.4" y2="192.5" stroke="#fff" stroke-width="1.5"/>
<line x1="932.69" x2="932.69" y1="25.4" y2="192.5" stroke="#fff" stroke-width="1.5"/>
<line x1="967.49" x2="967.49" y1="25.4" y2="192.5" stroke="#fff" stroke-width="1.5"/>
<line x1="1002.3" x2="1002.3" y1="25.4" y2="192.5" stroke="#fff" stroke-width="1.5"/>
<polygon points="870.03,161.53 887.44,160.03 904.84,157.52 922.24,156.01 939.65,153.51 957.05,150.5 974.46,147.99 991.86,162.3 1009.26,144.96 1026.67,129.37 1026.67,177.09 1009.26,172 991.86,162.3 974.46,172.99 957.05,174.23 939.65,175.73 922.24,176.97 904.84,177.72 887.44,178.97 870.03,179.71" fill="#440154" fill-opacity="0.09"/>
<polygon points="870.03,156.27 887.44,154.52 904.84,151.61 922.24,149.28 939.65,146.94 957.05,142.86 974.46,139.95 991.86,162.3 1009.26,137.09 1026.67,110.32 1026.67,180.02 1009.26,174.46 991.86,162.3 974.46,176.42 957.05,177.5 939.65,179 922.24,179.85 904.84,180.71 887.44,181.78 870.03,182.43" fill="#21908c" fill-opacity="0.09"/>
<polygon points="870.03,163.29 887.44,162.34 904.84,159.48 922.24,158.04 939.65,155.66 957.05,152.8 974.46,150.41 991.86,162.3 1009.26,148.02 1026.67,135.29 1026.67,174.71 1009.26,170.41 991.86,162.3 974.46,171.72 957.05,173.03 939.65,174.6 922.24,175.91 904.84,176.7 887.44,178.27 870.03,178.79" fill="#fde725" fill-opacity="0.09"/>
<polyline points="870.03,172.2 887.44,171.14 904.84,169.37 922.24,168.31 939.65,166.54 957.05,164.42 974.46,162.65 991.86,162.3 1009.26,160.89 1026.67,160.18" fill="none" stroke="#251b40" stroke-width="3.3" stroke-linejoin="round" stroke-linecap="round"/>
<polyline points="870.03,172.55 887.44,171.49 904.84,169.72 922.24,168.31 939.65,166.9 957.05,164.42 974.46,162.65 991.86,162.3 1009.26,160.18 1026.67,158.41" fill="none" stroke="#17877b" stroke-width="3.3" stroke-linejoin="round" stroke-linecap="round"/>
<polyline points="870.03,172.2 887.44,171.49 904.84,169.37 922.24,168.31 939.65,166.54 957.05,164.42 974.46,162.65 991.86,162.3 1009.26,160.89 1026.67,159.83" fill="none" stroke="#f3de10" stroke-width="3.3" stroke-linejoin="round" stroke-linecap="round"/>
<line x1="862.2" x2="1034.5" y1="162.3" y2="162.3" stroke="#000" stroke-width="2.3" stroke-dasharray="7.1 6.75"/>
<line x1="991.86" x2="991.86" y1="192.5" y2="25.4" stroke="#000" stroke-width="2.3" stroke-dasharray="7.1 6.75"/>
</svg>
<rect x="1041.1" y="5.2" width="171.9" height="20.2" fill="#d9d9d9"/>
<text x="1127.05" y="19.1" font-size="10.3" fill="#1a1a1a" stroke="#1a1a1a" text-anchor="middle">Low&#8722;middle SDI</text>
<rect x="1041.1" y="25.4" width="171.9" height="167.1" fill="#ebebeb"/>
<svg x="1041.1" y="25.4" width="171.9" height="167.1" viewBox="1041.1 25.4 171.9 167.1" overflow="hidden">
<line x1="1041.1" x2="1213" y1="179.98" y2="179.98" stroke="#fff" stroke-width="1.0"/>
<line x1="1041.1" x2="1213" y1="144.62" y2="144.62" stroke="#fff" stroke-width="1.0"/>
<line x1="1041.1" x2="1213" y1="109.28" y2="109.28" stroke="#fff" stroke-width="1.0"/>
<line x1="1041.1" x2="1213" y1="73.92" y2="73.92" stroke="#fff" stroke-width="1.0"/>
<line x1="1041.1" x2="1213" y1="38.57" y2="38.57" stroke="#fff" stroke-width="1.0"/>
<line x1="1059.33" x2="1059.33" y1="25.4" y2="192.5" stroke="#fff" stroke-width="1.0"/>
<line x1="1094.06" x2="1094.06" y1="25.4" y2="192.5" stroke="#fff" stroke-width="1.0"/>
<line x1="1128.79" x2="1128.79" y1="25.4" y2="192.5" stroke="#fff" stroke-width="1.0"/>
<line x1="1163.51" x2="1163.51" y1="25.4" y2="192.5" stroke="#fff" stroke-width="1.0"/>
<line x1="1198.24" x2="1198.24" y1="25.4" y2="192.5" stroke="#fff" stroke-width="1.0"/>
<line x1="1041.1" x2="1213" y1="162.3" y2="162.3" stroke="#fff" stroke-width="1.5"/>
<line x1="1041.1" x2="1213" y1="126.95" y2="126.95" stroke="#fff" stroke-width="1.5"/>
<line x1="1041.1" x2="1213" y1="91.6" y2="91.6" stroke="#fff" stroke-width="1.5"/>
<line x1="1041.1" x2="1213" y1="56.25" y2="56.25" stroke="#fff" stroke-width="1.5"/>
<line x1="1041.97" x2="1041.97" y1="25.4" y2="192.5" stroke="#fff" stroke-width="1.5"/>
<line x1="1076.7" x2="1076.7" y1="25.4" y2="192.5" stroke="#fff" stroke-width="1.5"/>
<line x1="1111.42" x2="1111.42" y1="25.4" y2="192.5" stroke="#fff" stroke-width="1.5"/>
<line x1="1146.15" x2="1146.15" y1="25.4" y2="192.5" stroke="#fff" stroke-width="1.5"/>
<line x1="1180.88" x2="1180.88" y1="25.4" y2="192.5" stroke="#fff" stroke-width="1.5"/>
<polygon points="1048.91,169.02 1066.28,167.59 1083.64,164.72 1101,162.34 1118.37,159.95 1135.73,156.61 1153.1,153.27 1170.46,162.3 1187.82,148.56 1205.19,131.68 1205.19,170.83 1187.82,169.05 1170.46,162.3 1153.1,173.3 1135.73,175.13 1118.37,176.96 1101,178.27 1083.64,179.58 1066.28,181.15 1048.91,181.94" fill="#440154" fill-opacity="0.09"/>
<polygon points="1048.91,168.35 1066.28,166.86 1083.64,163.88 1101,161.39 1118.37,158.91 1135.73,155.43 1153.1,151.96 1170.46,162.3 1187.82,144.45 1205.19,121.64 1205.19,174.76 1187.82,171.75 1170.46,162.3 1153.1,174.5 1135.73,176.26 1118.37,178.02 1101,179.28 1083.64,180.54 1066.28,182.05 1048.91,182.8" fill="#21908c" fill-opacity="0.09"/>
<polygon points="1048.91,169.59 1066.28,168.18 1083.64,165.38 1101,163.04 1118.37,160.7 1135.73,157.43 1153.1,154.15 1170.46,162.3 1187.82,149.44 1205.19,133.09 1205.19,169.78 1187.82,168.53 1170.46,162.3 1153.1,172.8 1135.73,174.67 1118.37,176.54 1101,177.88 1083.64,179.22 1066.28,180.82 1048.91,181.62" fill="#fde725" fill-opacity="0.09"/>
<polyline points="1048.91,176.44 1066.28,175.38 1083.64,173.26 1101,171.49 1118.37,169.72 1135.73,167.25 1153.1,164.77 1170.46,162.3 1187.82,160.18 1205.19,155.58" fill="none" stroke="#251b40" stroke-width="3.3" stroke-linejoin="round" stroke-linecap="round"/>
<polyline points="1048.91,176.79 1066.28,175.73 1083.64,173.61 1101,171.84 1118.37,170.08 1135.73,167.6 1153.1,165.13 1170.46,162.3 1187.82,160.53 1205.19,155.94" fill="none" stroke="#17877b" stroke-width="3.3" stroke-linejoin="round" stroke-linecap="round"/>
<polyline points="1048.91,176.44 1066.28,175.38 1083.64,173.26 1101,171.49 1118.37,169.72 1135.73,167.25 1153.1,164.77 1170.46,162.3 1187.82,160.18 1205.19,155.23" fill="none" stroke="#f3de10" stroke-width="3.3" stroke-linejoin="round" stroke-linecap="round"/>
<line x1="1041.1" x2="1213" y1="162.3" y2="162.3" stroke="#000" stroke-width="2.3" stroke-dasharray="7.1 6.75"/>
<line x1="1170.46" x2="1170.46" y1="192.5" y2="25.4" stroke="#000" stroke-width="2.3" stroke-dasharray="7.1 6.75"/>
</svg>
<rect x="683.1" y="199.2" width="172.3" height="20.1" fill="#d9d9d9"/>
<text x="769.25" y="213.05" font-size="10.3" fill="#1a1a1a" stroke="#1a1a1a" text-anchor="middle">Middle SDI</text>
<rect x="683.1" y="219.3" width="172.3" height="167" fill="#ebebeb"/>
<svg x="683.1" y="219.3" width="172.3" height="167" viewBox="683.1 219.3 172.3 167" overflow="hidden">
<line x1="683.1" x2="855.4" y1="373.98" y2="373.98" stroke="#fff" stroke-width="1.0"/>
<line x1="683.1" x2="855.4" y1="338.62" y2="338.62" stroke="#fff" stroke-width="1.0"/>
<line x1="683.1" x2="855.4" y1="303.25" y2="303.25" stroke="#fff" stroke-width="1.0"/>
<line x1="683.1" x2="855.4" y1="267.88" y2="267.88" stroke="#fff" stroke-width="1.0"/>
<line x1="683.1" x2="855.4" y1="232.52" y2="232.52" stroke="#fff" stroke-width="1.0"/>
<line x1="701.37" x2="701.37" y1="219.3" y2="386.3" stroke="#fff" stroke-width="1.0"/>
<line x1="736.18" x2="736.18" y1="219.3" y2="386.3" stroke="#fff" stroke-width="1.0"/>
<line x1="770.99" x2="770.99" y1="219.3" y2="386.3" stroke="#fff" stroke-width="1.0"/>
<line x1="805.8" x2="805.8" y1="219.3" y2="386.3" stroke="#fff" stroke-width="1.0"/>
<line x1="840.61" x2="840.61" y1="219.3" y2="386.3" stroke="#fff" stroke-width="1.0"/>
<line x1="683.1" x2="855.4" y1="356.3" y2="356.3" stroke="#fff" stroke-width="1.5"/>
<line x1="683.1" x2="855.4" y1="320.93" y2="320.93" stroke="#fff" stroke-width="1.5"/>
<line x1="683.1" x2="855.4" y1="285.57" y2="285.57" stroke="#fff" stroke-width="1.5"/>
<line x1="683.1" x2="855.4" y1="250.2" y2="250.2" stroke="#fff" stroke-width="1.5"/>
<line x1="683.97" x2="683.97" y1="219.3" y2="386.3" stroke="#fff" stroke-width="1.5"/>
<line x1="718.78" x2="718.78" y1="219.3" y2="386.3" stroke="#fff" stroke-width="1.5"/>
<line x1="753.59" x2="753.59" y1="219.3" y2="386.3" stroke="#fff" stroke-width="1.5"/>
<line x1="788.39" x2="788.39" y1="219.3" y2="386.3" stroke="#fff" stroke-width="1.5"/>
<line x1="823.2" x2="823.2" y1="219.3" y2="386.3" stroke="#fff" stroke-width="1.5"/>
<polygon points="690.93,343.72 708.34,343.29 725.74,340.69 743.14,340.26 760.55,340.69 777.95,339.83 795.36,341.99 812.76,356.3 830.16,348.06 847.57,338.38 847.57,367.72 830.16,364.68 812.76,356.3 795.36,358.37 777.95,356.92 760.55,357.5 743.14,357.21 725.74,357.5 708.34,359.24 690.93,359.53" fill="#440154" fill-opacity="0.09"/>
<polygon points="690.93,345.34 708.34,344.4 725.74,342.53 743.14,342.06 760.55,343 777.95,341.13 795.36,342.53 812.76,356.3 830.16,344.87 847.57,331.21 847.57,367.09 830.16,364.4 812.76,356.3 795.36,363.6 777.95,362.8 760.55,363.87 743.14,363.33 725.74,363.6 708.34,364.67 690.93,365.2" fill="#21908c" fill-opacity="0.09"/>
<polygon points="690.93,345.01 708.34,345.01 725.74,343.72 743.14,343.29 760.55,343.72 777.95,343.29 795.36,344.58 812.76,356.3 830.16,347.69 847.57,338.4 847.57,366.76 830.16,363.79 812.76,356.3 795.36,360.1 777.95,359.24 760.55,359.53 743.14,359.24 725.74,359.53 708.34,360.39 690.93,360.39" fill="#fde725" fill-opacity="0.09"/>
<polyline points="690.93,352.41 708.34,352.06 725.74,349.93 743.14,349.58 760.55,349.93 777.95,349.23 795.36,351 812.76,356.3 830.16,357.36 847.57,355.95" fill="none" stroke="#251b40" stroke-width="3.3" stroke-linejoin="round" stroke-linecap="round"/>
<polyline points="690.93,356.65 708.34,355.95 725.74,354.53 743.14,354.18 760.55,354.89 777.95,353.47 795.36,354.53 812.76,356.3 830.16,355.95 847.57,353.12" fill="none" stroke="#17877b" stroke-width="3.3" stroke-linejoin="round" stroke-linecap="round"/>
<polyline points="690.93,353.47 708.34,353.47 725.74,352.41 743.14,352.06 760.55,352.41 777.95,352.06 795.36,353.12 812.76,356.3 830.16,356.65 847.57,355.24" fill="none" stroke="#f3de10" stroke-width="3.3" stroke-linejoin="round" stroke-linecap="round"/>
<line x1="683.1" x2="855.4" y1="356.3" y2="356.3" stroke="#000" stroke-width="2.3" stroke-dasharray="7.1 6.75"/>
<line x1="812.76" x2="812.76" y1="386.3" y2="219.3" stroke="#000" stroke-width="2.3" stroke-dasharray="7.1 6.75"/>
</svg>
<line x1="679.5" x2="683.1" y1="356.3" y2="356.3" stroke="#222" stroke-width="1.3"/>
<text transform="translate(677.1,359.47) scale(1,1)" font-size="9.9" fill="#1e1e1e" stroke="#1e1e1e" text-anchor="end">1</text>
<line x1="679.5" x2="683.1" y1="320.93" y2="320.93" stroke="#222" stroke-width="1.3"/>
<text transform="translate(677.1,324.1) scale(1,1)" font-size="9.9" fill="#1e1e1e" stroke="#1e1e1e" text-anchor="end">2</text>
<line x1="679.5" x2="683.1" y1="285.57" y2="285.57" stroke="#222" stroke-width="1.3"/>
<text transform="translate(677.1,288.73) scale(1,1)" font-size="9.9" fill="#1e1e1e" stroke="#1e1e1e" text-anchor="end">3</text>
<line x1="679.5" x2="683.1" y1="250.2" y2="250.2" stroke="#222" stroke-width="1.3"/>
<text transform="translate(677.1,253.37) scale(1,1)" font-size="9.9" fill="#1e1e1e" stroke="#1e1e1e" text-anchor="end">4</text>
<line x1="683.97" x2="683.97" y1="386.3" y2="389.9" stroke="#222" stroke-width="1.3"/>
<text transform="translate(683.97,399.1) scale(1,1)" font-size="9.3" fill="#1e1e1e" stroke="#1e1e1e" text-anchor="middle">1930</text>
<line x1="718.78" x2="718.78" y1="386.3" y2="389.9" stroke="#222" stroke-width="1.3"/>
<text transform="translate(718.78,399.1) scale(1,1)" font-size="9.3" fill="#1e1e1e" stroke="#1e1e1e" text-anchor="middle">1940</text>
<line x1="753.59" x2="753.59" y1="386.3" y2="389.9" stroke="#222" stroke-width="1.3"/>
<text transform="translate(753.59,399.1) scale(1,1)" font-size="9.3" fill="#1e1e1e" stroke="#1e1e1e" text-anchor="middle">1950</text>
<line x1="788.39" x2="788.39" y1="386.3" y2="389.9" stroke="#222" stroke-width="1.3"/>
<text transform="translate(788.39,399.1) scale(1,1)" font-size="9.3" fill="#1e1e1e" stroke="#1e1e1e" text-anchor="middle">1960</text>
<line x1="823.2" x2="823.2" y1="386.3" y2="389.9" stroke="#222" stroke-width="1.3"/>
<text transform="translate(823.2,399.1) scale(1,1)" font-size="9.3" fill="#1e1e1e" stroke="#1e1e1e" text-anchor="middle">1970</text>
<rect x="862.2" y="199.2" width="172.3" height="20.1" fill="#d9d9d9"/>
<text x="948.35" y="213.05" font-size="10.3" fill="#1a1a1a" stroke="#1a1a1a" text-anchor="middle">High&#8722;middle SDI</text>
<rect x="862.2" y="219.3" width="172.3" height="167" fill="#ebebeb"/>
<svg x="862.2" y="219.3" width="172.3" height="167" viewBox="862.2 219.3 172.3 167" overflow="hidden">
<line x1="862.2" x2="1034.5" y1="373.98" y2="373.98" stroke="#fff" stroke-width="1.0"/>
<line x1="862.2" x2="1034.5" y1="338.62" y2="338.62" stroke="#fff" stroke-width="1.0"/>
<line x1="862.2" x2="1034.5" y1="303.25" y2="303.25" stroke="#fff" stroke-width="1.0"/>
<line x1="862.2" x2="1034.5" y1="267.88" y2="267.88" stroke="#fff" stroke-width="1.0"/>
<line x1="862.2" x2="1034.5" y1="232.52" y2="232.52" stroke="#fff" stroke-width="1.0"/>
<line x1="880.47" x2="880.47" y1="219.3" y2="386.3" stroke="#fff" stroke-width="1.0"/>
<line x1="915.28" x2="915.28" y1="219.3" y2="386.3" stroke="#fff" stroke-width="1.0"/>
<line x1="950.09" x2="950.09" y1="219.3" y2="386.3" stroke="#fff" stroke-width="1.0"/>
<line x1="984.9" x2="984.9" y1="219.3" y2="386.3" stroke="#fff" stroke-width="1.0"/>
<line x1="1019.71" x2="1019.71" y1="219.3" y2="386.3" stroke="#fff" stroke-width="1.0"/>
<line x1="862.2" x2="1034.5" y1="356.3" y2="356.3" stroke="#fff" stroke-width="1.5"/>
<line x1="862.2" x2="1034.5" y1="320.93" y2="320.93" stroke="#fff" stroke-width="1.5"/>
<line x1="862.2" x2="1034.5" y1="285.57" y2="285.57" stroke="#fff" stroke-width="1.5"/>
<line x1="862.2" x2="1034.5" y1="250.2" y2="250.2" stroke="#fff" stroke-width="1.5"/>
<line x1="863.07" x2="863.07" y1="219.3" y2="386.3" stroke="#fff" stroke-width="1.5"/>
<line x1="897.88" x2="897.88" y1="219.3" y2="386.3" stroke="#fff" stroke-width="1.5"/>
<line x1="932.69" x2="932.69" y1="219.3" y2="386.3" stroke="#fff" stroke-width="1.5"/>
<line x1="967.49" x2="967.49" y1="219.3" y2="386.3" stroke="#fff" stroke-width="1.5"/>
<line x1="1002.3" x2="1002.3" y1="219.3" y2="386.3" stroke="#fff" stroke-width="1.5"/>
<polygon points="870.03,227.34 887.44,239.82 904.84,270.43 922.24,296.21 939.65,301.45 957.05,316.35 974.46,332.46 991.86,356.3 1009.26,346.41 1026.67,337.11 1026.67,373.51 1009.26,368.27 991.86,356.3 974.46,346.02 957.05,333.59 939.65,322.1 922.24,318.07 904.84,298.19 887.44,274.59 870.03,264.96" fill="#440154" fill-opacity="0.09"/>
<polygon points="870.03,264.75 887.44,276.65 904.84,297.8 922.24,316.31 939.65,320.27 957.05,326.88 974.46,336.58 991.86,356.3 1009.26,344.37 1026.67,333.51 1026.67,373.07 1009.26,367.8 991.86,356.3 974.46,356.19 957.05,349.94 939.65,345.69 922.24,343.13 904.84,331.21 887.44,317.59 870.03,309.93" fill="#21908c" fill-opacity="0.09"/>
<polygon points="870.03,241.33 887.44,252.9 904.84,279.22 922.24,303.54 939.65,307.53 957.05,320.29 974.46,335.04 991.86,356.3 1009.26,347.27 1026.67,339.77 1026.67,372.58 1009.26,367.3 991.86,356.3 974.46,347.12 957.05,335.52 939.65,325.48 922.24,322.34 904.84,303.21 887.44,282.51 870.03,273.41" fill="#fde725" fill-opacity="0.09"/>
<polyline points="870.03,247.37 887.44,258.33 904.84,285.21 922.24,307.85 939.65,312.45 957.05,325.53 974.46,339.68 991.86,356.3 1009.26,359.13 1026.67,360.19" fill="none" stroke="#251b40" stroke-width="3.3" stroke-linejoin="round" stroke-linecap="round"/>
<polyline points="870.03,289.81 887.44,299.36 904.84,316.34 922.24,331.19 939.65,334.37 957.05,339.68 974.46,347.46 991.86,356.3 1009.26,358.07 1026.67,358.78" fill="none" stroke="#17877b" stroke-width="3.3" stroke-linejoin="round" stroke-linecap="round"/>
<polyline points="870.03,258.33 887.44,268.59 904.84,291.93 922.24,313.51 939.65,317.04 957.05,328.36 974.46,341.45 991.86,356.3 1009.26,358.78 1026.67,360.19" fill="none" stroke="#f3de10" stroke-width="3.3" stroke-linejoin="round" stroke-linecap="round"/>
<line x1="862.2" x2="1034.5" y1="356.3" y2="356.3" stroke="#000" stroke-width="2.3" stroke-dasharray="7.1 6.75"/>
<line x1="991.86" x2="991.86" y1="386.3" y2="219.3" stroke="#000" stroke-width="2.3" stroke-dasharray="7.1 6.75"/>
</svg>
<line x1="863.07" x2="863.07" y1="386.3" y2="389.9" stroke="#222" stroke-width="1.3"/>
<text transform="translate(863.07,399.1) scale(1,1)" font-size="9.3" fill="#1e1e1e" stroke="#1e1e1e" text-anchor="middle">1930</text>
<line x1="897.88" x2="897.88" y1="386.3" y2="389.9" stroke="#222" stroke-width="1.3"/>
<text transform="translate(897.88,399.1) scale(1,1)" font-size="9.3" fill="#1e1e1e" stroke="#1e1e1e" text-anchor="middle">1940</text>
<line x1="932.69" x2="932.69" y1="386.3" y2="389.9" stroke="#222" stroke-width="1.3"/>
<text transform="translate(932.69,399.1) scale(1,1)" font-size="9.3" fill="#1e1e1e" stroke="#1e1e1e" text-anchor="middle">1950</text>
<line x1="967.49" x2="967.49" y1="386.3" y2="389.9" stroke="#222" stroke-width="1.3"/>
<text transform="translate(967.49,399.1) scale(1,1)" font-size="9.3" fill="#1e1e1e" stroke="#1e1e1e" text-anchor="middle">1960</text>
<line x1="1002.3" x2="1002.3" y1="386.3" y2="389.9" stroke="#222" stroke-width="1.3"/>
<text transform="translate(1002.3,399.1) scale(1,1)" font-size="9.3" fill="#1e1e1e" stroke="#1e1e1e" text-anchor="middle">1970</text>
<rect x="1041.1" y="199.2" width="171.9" height="20.1" fill="#d9d9d9"/>
<text x="1127.05" y="213.05" font-size="10.3" fill="#1a1a1a" stroke="#1a1a1a" text-anchor="middle">High SDI</text>
<rect x="1041.1" y="219.3" width="171.9" height="167" fill="#ebebeb"/>
<svg x="1041.1" y="219.3" width="171.9" height="167" viewBox="1041.1 219.3 171.9 167" overflow="hidden">
<line x1="1041.1" x2="1213" y1="373.98" y2="373.98" stroke="#fff" stroke-width="1.0"/>
<line x1="1041.1" x2="1213" y1="338.62" y2="338.62" stroke="#fff" stroke-width="1.0"/>
<line x1="1041.1" x2="1213" y1="303.25" y2="303.25" stroke="#fff" stroke-width="1.0"/>
<line x1="1041.1" x2="1213" y1="267.88" y2="267.88" stroke="#fff" stroke-width="1.0"/>
<line x1="1041.1" x2="1213" y1="232.52" y2="232.52" stroke="#fff" stroke-width="1.0"/>
<line x1="1059.33" x2="1059.33" y1="219.3" y2="386.3" stroke="#fff" stroke-width="1.0"/>
<line x1="1094.06" x2="1094.06" y1="219.3" y2="386.3" stroke="#fff" stroke-width="1.0"/>
<line x1="1128.79" x2="1128.79" y1="219.3" y2="386.3" stroke="#fff" stroke-width="1.0"/>
<line x1="1163.51" x2="1163.51" y1="219.3" y2="386.3" stroke="#fff" stroke-width="1.0"/>
<line x1="1198.24" x2="1198.24" y1="219.3" y2="386.3" stroke="#fff" stroke-width="1.0"/>
<line x1="1041.1" x2="1213" y1="356.3" y2="356.3" stroke="#fff" stroke-width="1.5"/>
<line x1="1041.1" x2="1213" y1="320.93" y2="320.93" stroke="#fff" stroke-width="1.5"/>
<line x1="1041.1" x2="1213" y1="285.57" y2="285.57" stroke="#fff" stroke-width="1.5"/>
<line x1="1041.1" x2="1213" y1="250.2" y2="250.2" stroke="#fff" stroke-width="1.5"/>
<line x1="1041.97" x2="1041.97" y1="219.3" y2="386.3" stroke="#fff" stroke-width="1.5"/>
<line x1="1076.7" x2="1076.7" y1="219.3" y2="386.3" stroke="#fff" stroke-width="1.5"/>
<line x1="1111.42" x2="1111.42" y1="219.3" y2="386.3" stroke="#fff" stroke-width="1.5"/>
<line x1="1146.15" x2="1146.15" y1="219.3" y2="386.3" stroke="#fff" stroke-width="1.5"/>
<line x1="1180.88" x2="1180.88" y1="219.3" y2="386.3" stroke="#fff" stroke-width="1.5"/>
<polygon points="1048.91,331.46 1066.28,334.71 1083.64,336.75 1101,340 1118.37,339.59 1135.73,340.81 1153.1,344.07 1170.46,356.3 1187.82,351.14 1205.19,344.44 1205.19,372.08 1187.82,367.77 1170.46,356.3 1153.1,355.69 1135.73,353.23 1118.37,352.31 1101,352.62 1083.64,350.16 1066.28,348.62 1048.91,346.16" fill="#440154" fill-opacity="0.09"/>
<polygon points="1048.91,346.72 1066.28,347.5 1083.64,348.28 1101,348.28 1118.37,348.28 1135.73,348.67 1153.1,350.24 1170.46,356.3 1187.82,350.51 1205.19,345.3 1205.19,371.25 1187.82,366.5 1170.46,356.3 1153.1,357.75 1135.73,356.47 1118.37,356.15 1101,356.15 1083.64,356.15 1066.28,355.51 1048.91,354.87" fill="#21908c" fill-opacity="0.09"/>
<polygon points="1048.91,339.29 1066.28,341.64 1083.64,342.42 1101,345.15 1118.37,344.37 1135.73,345.15 1153.1,347.5 1170.46,356.3 1187.82,351.2 1205.19,346.29 1205.19,371.28 1187.82,366.63 1170.46,356.3 1153.1,355.51 1135.73,353.59 1118.37,352.95 1101,353.59 1083.64,351.35 1066.28,350.71 1048.91,348.79" fill="#fde725" fill-opacity="0.09"/>
<polyline points="1048.91,339.32 1066.28,342.15 1083.64,343.92 1101,346.75 1118.37,346.4 1135.73,347.46 1153.1,350.29 1170.46,356.3 1187.82,360.54 1205.19,361.25" fill="none" stroke="#251b40" stroke-width="3.3" stroke-linejoin="round" stroke-linecap="round"/>
<polyline points="1048.91,351 1066.28,351.7 1083.64,352.41 1101,352.41 1118.37,352.41 1135.73,352.76 1153.1,354.18 1170.46,356.3 1187.82,359.48 1205.19,360.9" fill="none" stroke="#17877b" stroke-width="3.3" stroke-linejoin="round" stroke-linecap="round"/>
<polyline points="1048.91,344.28 1066.28,346.4 1083.64,347.1 1101,349.58 1118.37,348.87 1135.73,349.58 1153.1,351.7 1170.46,356.3 1187.82,359.84 1205.19,361.25" fill="none" stroke="#f3de10" stroke-width="3.3" stroke-linejoin="round" stroke-linecap="round"/>
<line x1="1041.1" x2="1213" y1="356.3" y2="356.3" stroke="#000" stroke-width="2.3" stroke-dasharray="7.1 6.75"/>
<line x1="1170.46" x2="1170.46" y1="386.3" y2="219.3" stroke="#000" stroke-width="2.3" stroke-dasharray="7.1 6.75"/>
</svg>
<line x1="1041.97" x2="1041.97" y1="386.3" y2="389.9" stroke="#222" stroke-width="1.3"/>
<text transform="translate(1041.97,399.1) scale(1,1)" font-size="9.3" fill="#1e1e1e" stroke="#1e1e1e" text-anchor="middle">1930</text>
<line x1="1076.7" x2="1076.7" y1="386.3" y2="389.9" stroke="#222" stroke-width="1.3"/>
<text transform="translate(1076.7,399.1) scale(1,1)" font-size="9.3" fill="#1e1e1e" stroke="#1e1e1e" text-anchor="middle">1940</text>
<line x1="1111.42" x2="1111.42" y1="386.3" y2="389.9" stroke="#222" stroke-width="1.3"/>
<text transform="translate(1111.42,399.1) scale(1,1)" font-size="9.3" fill="#1e1e1e" stroke="#1e1e1e" text-anchor="middle">1950</text>
<line x1="1146.15" x2="1146.15" y1="386.3" y2="389.9" stroke="#222" stroke-width="1.3"/>
<text transform="translate(1146.15,399.1) scale(1,1)" font-size="9.3" fill="#1e1e1e" stroke="#1e1e1e" text-anchor="middle">1960</text>
<line x1="1180.88" x2="1180.88" y1="386.3" y2="389.9" stroke="#222" stroke-width="1.3"/>
<text transform="translate(1180.88,399.1) scale(1,1)" font-size="9.3" fill="#1e1e1e" stroke="#1e1e1e" text-anchor="middle">1970</text>
<text x="948.05" y="414.6" font-size="12.7" fill="#000" stroke="#000" text-anchor="middle">Birth cohort</text>
<text transform="translate(665.6,205.9) rotate(-90)" font-size="12.7" fill="#000" stroke="#000" text-anchor="middle">Risk ratio</text>
<text x="1232.3" y="177.5" font-size="12.5" fill="#000" stroke="#000">group</text>
<rect x="1232.6" y="186.1" width="19.2" height="19.2" fill="#d6d0d8"/>
<line x1="1234.1" x2="1250.1" y1="195.7" y2="195.7" stroke="#251b40" stroke-width="3.3"/>
<text x="1258.3" y="199.4" font-size="10.2" fill="#000" stroke="#000">Male</text>
<rect x="1232.6" y="205.95" width="19.2" height="19.2" fill="#dce2e2"/>
<line x1="1234.1" x2="1250.1" y1="215.55" y2="215.55" stroke="#17877b" stroke-width="3.3"/>
<text x="1258.3" y="219.25" font-size="10.2" fill="#000" stroke="#000">Female</text>
<rect x="1232.6" y="225.8" width="19.2" height="19.2" fill="#efeddf"/>
<line x1="1234.1" x2="1250.1" y1="235.4" y2="235.4" stroke="#f3de10" stroke-width="3.3"/>
<text x="1258.3" y="239.1" font-size="10.2" fill="#000" stroke="#000">Both</text>
<text x="947" y="462.2" font-size="35" font-weight="bold" fill="#1a1410" stroke="#1a1410" style="stroke:none" text-anchor="middle" font-family="'Liberation Serif', 'Times New Roman', serif">B</text>
<rect x="1336.9" y="5.2" width="169.6" height="20.4" fill="#d9d9d9"/>
<text x="1421.7" y="19.2" font-size="10.3" fill="#1a1a1a" stroke="#1a1a1a" text-anchor="middle">Global</text>
<rect x="1336.9" y="25.6" width="169.6" height="166.9" fill="#ebebeb"/>
<svg x="1336.9" y="25.6" width="169.6" height="166.9" viewBox="1336.9 25.6 169.6 166.9" overflow="hidden">
<line x1="1336.9" x2="1506.5" y1="166.48" y2="166.48" stroke="#fff" stroke-width="1.0"/>
<line x1="1336.9" x2="1506.5" y1="115.12" y2="115.12" stroke="#fff" stroke-width="1.0"/>
<line x1="1336.9" x2="1506.5" y1="63.78" y2="63.78" stroke="#fff" stroke-width="1.0"/>
<line x1="1363.11" x2="1363.11" y1="25.6" y2="192.5" stroke="#fff" stroke-width="1.0"/>
<line x1="1393.95" x2="1393.95" y1="25.6" y2="192.5" stroke="#fff" stroke-width="1.0"/>
<line x1="1424.78" x2="1424.78" y1="25.6" y2="192.5" stroke="#fff" stroke-width="1.0"/>
<line x1="1455.62" x2="1455.62" y1="25.6" y2="192.5" stroke="#fff" stroke-width="1.0"/>
<line x1="1486.46" x2="1486.46" y1="25.6" y2="192.5" stroke="#fff" stroke-width="1.0"/>
<line x1="1336.9" x2="1506.5" y1="192.15" y2="192.15" stroke="#fff" stroke-width="1.5"/>
<line x1="1336.9" x2="1506.5" y1="140.8" y2="140.8" stroke="#fff" stroke-width="1.5"/>
<line x1="1336.9" x2="1506.5" y1="89.45" y2="89.45" stroke="#fff" stroke-width="1.5"/>
<line x1="1336.9" x2="1506.5" y1="38.1" y2="38.1" stroke="#fff" stroke-width="1.5"/>
<line x1="1347.69" x2="1347.69" y1="25.6" y2="192.5" stroke="#fff" stroke-width="1.5"/>
<line x1="1378.53" x2="1378.53" y1="25.6" y2="192.5" stroke="#fff" stroke-width="1.5"/>
<line x1="1409.37" x2="1409.37" y1="25.6" y2="192.5" stroke="#fff" stroke-width="1.5"/>
<line x1="1440.2" x2="1440.2" y1="25.6" y2="192.5" stroke="#fff" stroke-width="1.5"/>
<line x1="1471.04" x2="1471.04" y1="25.6" y2="192.5" stroke="#fff" stroke-width="1.5"/>
<line x1="1501.87" x2="1501.87" y1="25.6" y2="192.5" stroke="#fff" stroke-width="1.5"/>
<polygon points="1344.61,94.32 1375.45,101.73 1406.28,114.28 1437.12,140.8 1467.95,149.74 1498.79,154.08 1498.79,159.28 1467.95,155.2 1437.12,140.8 1406.28,128.89 1375.45,117.77 1344.61,111.19" fill="#440154" fill-opacity="0.09"/>
<polygon points="1344.61,115.73 1375.45,112.43 1406.28,121.9 1437.12,140.8 1467.95,142.96 1498.79,144.02 1498.79,149.82 1467.95,148.82 1437.12,140.8 1406.28,137.78 1375.45,129.55 1344.61,132.42" fill="#21908c" fill-opacity="0.09"/>
<polygon points="1344.61,102.39 1375.45,107.46 1406.28,118.91 1437.12,140.8 1467.95,147.62 1498.79,151.96 1498.79,157.29 1467.95,153.2 1437.12,140.8 1406.28,130.76 1375.45,120.41 1344.61,115.82" fill="#fde725" fill-opacity="0.09"/>
<polyline points="1344.61,103.01 1375.45,109.99 1406.28,121.8 1437.12,140.8 1467.95,152.51 1498.79,156.72" fill="none" stroke="#251b40" stroke-width="3.3" stroke-linejoin="round" stroke-linecap="round"/>
<polyline points="1344.61,124.37 1375.45,121.29 1406.28,130.12 1437.12,140.8 1467.95,145.94 1498.79,146.96" fill="none" stroke="#17877b" stroke-width="3.3" stroke-linejoin="round" stroke-linecap="round"/>
<polyline points="1344.61,109.27 1375.45,114.1 1406.28,124.98 1437.12,140.8 1467.95,150.45 1498.79,154.66" fill="none" stroke="#f3de10" stroke-width="3.3" stroke-linejoin="round" stroke-linecap="round"/>
<line x1="1336.9" x2="1506.5" y1="140.8" y2="140.8" stroke="#000" stroke-width="2.3" stroke-dasharray="7.1 6.75"/>
<line x1="1437.12" x2="1437.12" y1="192.5" y2="25.6" stroke="#000" stroke-width="2.3" stroke-dasharray="7.1 6.75"/>
</svg>
<line x1="1333.3" x2="1336.9" y1="192.15" y2="192.15" stroke="#222" stroke-width="1.3"/>
<text transform="translate(1330.9,195.32) scale(1,1)" font-size="9.9" fill="#1e1e1e" stroke="#1e1e1e" text-anchor="end">0.5</text>
<line x1="1333.3" x2="1336.9" y1="140.8" y2="140.8" stroke="#222" stroke-width="1.3"/>
<text transform="translate(1330.9,143.97) scale(1,1)" font-size="9.9" fill="#1e1e1e" stroke="#1e1e1e" text-anchor="end">1.0</text>
<line x1="1333.3" x2="1336.9" y1="89.45" y2="89.45" stroke="#222" stroke-width="1.3"/>
<text transform="translate(1330.9,92.62) scale(1,1)" font-size="9.9" fill="#1e1e1e" stroke="#1e1e1e" text-anchor="end">1.5</text>
<line x1="1333.3" x2="1336.9" y1="38.1" y2="38.1" stroke="#222" stroke-width="1.3"/>
<text transform="translate(1330.9,41.27) scale(1,1)" font-size="9.9" fill="#1e1e1e" stroke="#1e1e1e" text-anchor="end">2.0</text>
<rect x="1512.6" y="5.2" width="169.9" height="20.4" fill="#d9d9d9"/>
<text x="1597.55" y="19.2" font-size="10.3" fill="#1a1a1a" stroke="#1a1a1a" text-anchor="middle">Low SDI</text>
<rect x="1512.6" y="25.6" width="169.9" height="166.9" fill="#ebebeb"/>
<svg x="1512.6" y="25.6" width="169.9" height="166.9" viewBox="1512.6 25.6 169.9 166.9" overflow="hidden">
<line x1="1512.6" x2="1682.5" y1="166.48" y2="166.48" stroke="#fff" stroke-width="1.0"/>
<line x1="1512.6" x2="1682.5" y1="115.12" y2="115.12" stroke="#fff" stroke-width="1.0"/>
<line x1="1512.6" x2="1682.5" y1="63.78" y2="63.78" stroke="#fff" stroke-width="1.0"/>
<line x1="1538.86" x2="1538.86" y1="25.6" y2="192.5" stroke="#fff" stroke-width="1.0"/>
<line x1="1569.75" x2="1569.75" y1="25.6" y2="192.5" stroke="#fff" stroke-width="1.0"/>
<line x1="1600.64" x2="1600.64" y1="25.6" y2="192.5" stroke="#fff" stroke-width="1.0"/>
<line x1="1631.53" x2="1631.53" y1="25.6" y2="192.5" stroke="#fff" stroke-width="1.0"/>
<line x1="1662.42" x2="1662.42" y1="25.6" y2="192.5" stroke="#fff" stroke-width="1.0"/>
<line x1="1512.6" x2="1682.5" y1="192.15" y2="192.15" stroke="#fff" stroke-width="1.5"/>
<line x1="1512.6" x2="1682.5" y1="140.8" y2="140.8" stroke="#fff" stroke-width="1.5"/>
<line x1="1512.6" x2="1682.5" y1="89.45" y2="89.45" stroke="#fff" stroke-width="1.5"/>
<line x1="1512.6" x2="1682.5" y1="38.1" y2="38.1" stroke="#fff" stroke-width="1.5"/>
<line x1="1523.41" x2="1523.41" y1="25.6" y2="192.5" stroke="#fff" stroke-width="1.5"/>
<line x1="1554.3" x2="1554.3" y1="25.6" y2="192.5" stroke="#fff" stroke-width="1.5"/>
<line x1="1585.19" x2="1585.19" y1="25.6" y2="192.5" stroke="#fff" stroke-width="1.5"/>
<line x1="1616.08" x2="1616.08" y1="25.6" y2="192.5" stroke="#fff" stroke-width="1.5"/>
<line x1="1646.98" x2="1646.98" y1="25.6" y2="192.5" stroke="#fff" stroke-width="1.5"/>
<line x1="1677.87" x2="1677.87" y1="25.6" y2="192.5" stroke="#fff" stroke-width="1.5"/>
<polygon points="1520.32,107.64 1551.21,109.31 1582.1,111.8 1613,140.8 1643.89,101.6 1674.78,85.63 1674.78,139.77 1643.89,150.26 1613,140.8 1582.1,171.22 1551.21,169.85 1520.32,168.94" fill="#440154" fill-opacity="0.09"/>
<polygon points="1520.32,96 1551.21,92.01 1582.1,88.82 1613,140.8 1643.89,87.26 1674.78,72.15 1674.78,149.46 1643.89,157.76 1613,140.8 1582.1,179.34 1551.21,180.66 1520.32,182.32" fill="#21908c" fill-opacity="0.09"/>
<polygon points="1520.32,116.91 1551.21,117.17 1582.1,116.91 1613,140.8 1643.89,107.77 1674.78,94.99 1674.78,137.79 1643.89,146.89 1613,140.8 1582.1,166.72 1551.21,166.88 1520.32,166.72" fill="#fde725" fill-opacity="0.09"/>
<polyline points="1520.32,142.85 1551.21,144.09 1582.1,145.94 1613,140.8 1643.89,128.48 1674.78,115.54" fill="none" stroke="#251b40" stroke-width="3.3" stroke-linejoin="round" stroke-linecap="round"/>
<polyline points="1520.32,148.5 1551.21,145.94 1582.1,143.88 1613,140.8 1643.89,127.76 1674.78,116.56" fill="none" stroke="#17877b" stroke-width="3.3" stroke-linejoin="round" stroke-linecap="round"/>
<polyline points="1520.32,144.91 1551.21,145.11 1582.1,144.91 1613,140.8 1643.89,128.99 1674.78,118.21" fill="none" stroke="#f3de10" stroke-width="3.3" stroke-linejoin="round" stroke-linecap="round"/>
<line x1="1512.6" x2="1682.5" y1="140.8" y2="140.8" stroke="#000" stroke-width="2.3" stroke-dasharray="7.1 6.75"/>
<line x1="1613" x2="1613" y1="192.5" y2="25.6" stroke="#000" stroke-width="2.3" stroke-dasharray="7.1 6.75"/>
</svg>
<rect x="1688.9" y="5.2" width="169.6" height="20.4" fill="#d9d9d9"/>
<text x="1773.7" y="19.2" font-size="10.3" fill="#1a1a1a" stroke="#1a1a1a" text-anchor="middle">Low&#8722;middle SDI</text>
<rect x="1688.9" y="25.6" width="169.6" height="166.9" fill="#ebebeb"/>
<svg x="1688.9" y="25.6" width="169.6" height="166.9" viewBox="1688.9 25.6 169.6 166.9" overflow="hidden">
<line x1="1688.9" x2="1858.5" y1="166.48" y2="166.48" stroke="#fff" stroke-width="1.0"/>
<line x1="1688.9" x2="1858.5" y1="115.12" y2="115.12" stroke="#fff" stroke-width="1.0"/>
<line x1="1688.9" x2="1858.5" y1="63.78" y2="63.78" stroke="#fff" stroke-width="1.0"/>
<line x1="1715.11" x2="1715.11" y1="25.6" y2="192.5" stroke="#fff" stroke-width="1.0"/>
<line x1="1745.95" x2="1745.95" y1="25.6" y2="192.5" stroke="#fff" stroke-width="1.0"/>
<line x1="1776.78" x2="1776.78" y1="25.6" y2="192.5" stroke="#fff" stroke-width="1.0"/>
<line x1="1807.62" x2="1807.62" y1="25.6" y2="192.5" stroke="#fff" stroke-width="1.0"/>
<line x1="1838.46" x2="1838.46" y1="25.6" y2="192.5" stroke="#fff" stroke-width="1.0"/>
<line x1="1688.9" x2="1858.5" y1="192.15" y2="192.15" stroke="#fff" stroke-width="1.5"/>
<line x1="1688.9" x2="1858.5" y1="140.8" y2="140.8" stroke="#fff" stroke-width="1.5"/>
<line x1="1688.9" x2="1858.5" y1="89.45" y2="89.45" stroke="#fff" stroke-width="1.5"/>
<line x1="1688.9" x2="1858.5" y1="38.1" y2="38.1" stroke="#fff" stroke-width="1.5"/>
<line x1="1699.69" x2="1699.69" y1="25.6" y2="192.5" stroke="#fff" stroke-width="1.5"/>
<line x1="1730.53" x2="1730.53" y1="25.6" y2="192.5" stroke="#fff" stroke-width="1.5"/>
<line x1="1761.37" x2="1761.37" y1="25.6" y2="192.5" stroke="#fff" stroke-width="1.5"/>
<line x1="1792.2" x2="1792.2" y1="25.6" y2="192.5" stroke="#fff" stroke-width="1.5"/>
<line x1="1823.04" x2="1823.04" y1="25.6" y2="192.5" stroke="#fff" stroke-width="1.5"/>
<line x1="1853.87" x2="1853.87" y1="25.6" y2="192.5" stroke="#fff" stroke-width="1.5"/>
<polygon points="1696.61,142.52 1727.45,133.91 1758.28,125.67 1789.12,140.8 1819.95,114.54 1850.79,101.29 1850.79,140.23 1819.95,149.86 1789.12,140.8 1758.28,166.08 1727.45,171.49 1696.61,177.15" fill="#440154" fill-opacity="0.09"/>
<polygon points="1696.61,128.23 1727.45,116.21 1758.28,108.29 1789.12,140.8 1819.95,101.32 1850.79,83.74 1850.79,142.64 1819.95,153.74 1789.12,140.8 1758.28,172.21 1727.45,176.38 1696.61,182.72" fill="#21908c" fill-opacity="0.09"/>
<polygon points="1696.61,142.91 1727.45,135.21 1758.28,127.26 1789.12,140.8 1819.95,117.19 1850.79,104.32 1850.79,136.19 1819.95,146.11 1789.12,140.8 1758.28,164.01 1727.45,169.44 1696.61,174.71" fill="#fde725" fill-opacity="0.09"/>
<polyline points="1696.61,161.65 1727.45,154.66 1758.28,147.99 1789.12,140.8 1819.95,133.61 1850.79,122.31" fill="none" stroke="#251b40" stroke-width="3.3" stroke-linejoin="round" stroke-linecap="round"/>
<polyline points="1696.61,159.8 1727.45,151.07 1758.28,145.32 1789.12,140.8 1819.95,130.53 1850.79,116.56" fill="none" stroke="#17877b" stroke-width="3.3" stroke-linejoin="round" stroke-linecap="round"/>
<polyline points="1696.61,160.31 1727.45,153.95 1758.28,147.37 1789.12,140.8 1819.95,132.58 1850.79,121.29" fill="none" stroke="#f3de10" stroke-width="3.3" stroke-linejoin="round" stroke-linecap="round"/>
<line x1="1688.9" x2="1858.5" y1="140.8" y2="140.8" stroke="#000" stroke-width="2.3" stroke-dasharray="7.1 6.75"/>
<line x1="1789.12" x2="1789.12" y1="192.5" y2="25.6" stroke="#000" stroke-width="2.3" stroke-dasharray="7.1 6.75"/>
</svg>
<rect x="1336.9" y="199.2" width="169.6" height="20.1" fill="#d9d9d9"/>
<text x="1421.7" y="213.05" font-size="10.3" fill="#1a1a1a" stroke="#1a1a1a" text-anchor="middle">Middle SDI</text>
<rect x="1336.9" y="219.3" width="169.6" height="166.2" fill="#ebebeb"/>
<svg x="1336.9" y="219.3" width="169.6" height="166.2" viewBox="1336.9 219.3 169.6 166.2" overflow="hidden">
<line x1="1336.9" x2="1506.5" y1="360.3" y2="360.3" stroke="#fff" stroke-width="1.0"/>
<line x1="1336.9" x2="1506.5" y1="308.9" y2="308.9" stroke="#fff" stroke-width="1.0"/>
<line x1="1336.9" x2="1506.5" y1="257.5" y2="257.5" stroke="#fff" stroke-width="1.0"/>
<line x1="1363.11" x2="1363.11" y1="219.3" y2="385.5" stroke="#fff" stroke-width="1.0"/>
<line x1="1393.95" x2="1393.95" y1="219.3" y2="385.5" stroke="#fff" stroke-width="1.0"/>
<line x1="1424.78" x2="1424.78" y1="219.3" y2="385.5" stroke="#fff" stroke-width="1.0"/>
<line x1="1455.62" x2="1455.62" y1="219.3" y2="385.5" stroke="#fff" stroke-width="1.0"/>
<line x1="1486.46" x2="1486.46" y1="219.3" y2="385.5" stroke="#fff" stroke-width="1.0"/>
<line x1="1336.9" x2="1506.5" y1="386" y2="386" stroke="#fff" stroke-width="1.5"/>
<line x1="1336.9" x2="1506.5" y1="334.6" y2="334.6" stroke="#fff" stroke-width="1.5"/>
<line x1="1336.9" x2="1506.5" y1="283.2" y2="283.2" stroke="#fff" stroke-width="1.5"/>
<line x1="1336.9" x2="1506.5" y1="231.8" y2="231.8" stroke="#fff" stroke-width="1.5"/>
<line x1="1347.69" x2="1347.69" y1="219.3" y2="385.5" stroke="#fff" stroke-width="1.5"/>
<line x1="1378.53" x2="1378.53" y1="219.3" y2="385.5" stroke="#fff" stroke-width="1.5"/>
<line x1="1409.37" x2="1409.37" y1="219.3" y2="385.5" stroke="#fff" stroke-width="1.5"/>
<line x1="1440.2" x2="1440.2" y1="219.3" y2="385.5" stroke="#fff" stroke-width="1.5"/>
<line x1="1471.04" x2="1471.04" y1="219.3" y2="385.5" stroke="#fff" stroke-width="1.5"/>
<line x1="1501.87" x2="1501.87" y1="219.3" y2="385.5" stroke="#fff" stroke-width="1.5"/>
<polygon points="1344.61,309.4 1375.45,304.48 1406.28,305.71 1437.12,334.6 1467.95,323.17 1498.79,320.93 1498.79,349.37 1467.95,351.07 1437.12,334.6 1406.28,345.52 1375.45,344.66 1344.61,348.1" fill="#440154" fill-opacity="0.09"/>
<polygon points="1344.61,311.84 1375.45,308.07 1406.28,309.96 1437.12,334.6 1467.95,317.37 1498.79,311.94 1498.79,346.3 1467.95,350.24 1437.12,334.6 1406.28,351.97 1375.45,350.71 1344.61,353.23" fill="#21908c" fill-opacity="0.09"/>
<polygon points="1344.61,313.14 1375.45,308.92 1406.28,309.52 1437.12,334.6 1467.95,324.97 1498.79,321.49 1498.79,346.22 1467.95,348.96 1437.12,334.6 1406.28,344.54 1375.45,344.11 1344.61,347.17" fill="#fde725" fill-opacity="0.09"/>
<polyline points="1344.61,330.49 1375.45,326.38 1406.28,327.4 1437.12,334.6 1467.95,338.1 1498.79,336.14" fill="none" stroke="#251b40" stroke-width="3.3" stroke-linejoin="round" stroke-linecap="round"/>
<polyline points="1344.61,334.6 1375.45,331.52 1406.28,333.06 1437.12,334.6 1467.95,335.11 1498.79,330.49" fill="none" stroke="#17877b" stroke-width="3.3" stroke-linejoin="round" stroke-linecap="round"/>
<polyline points="1344.61,331.52 1375.45,327.92 1406.28,328.43 1437.12,334.6 1467.95,337.68 1498.79,334.6" fill="none" stroke="#f3de10" stroke-width="3.3" stroke-linejoin="round" stroke-linecap="round"/>
<line x1="1336.9" x2="1506.5" y1="334.6" y2="334.6" stroke="#000" stroke-width="2.3" stroke-dasharray="7.1 6.75"/>
<line x1="1437.12" x2="1437.12" y1="385.5" y2="219.3" stroke="#000" stroke-width="2.3" stroke-dasharray="7.1 6.75"/>
</svg>
<line x1="1333.3" x2="1336.9" y1="386" y2="386" stroke="#222" stroke-width="1.3"/>
<text transform="translate(1330.9,389.17) scale(1,1)" font-size="9.9" fill="#1e1e1e" stroke="#1e1e1e" text-anchor="end">0.5</text>
<line x1="1333.3" x2="1336.9" y1="334.6" y2="334.6" stroke="#222" stroke-width="1.3"/>
<text transform="translate(1330.9,337.77) scale(1,1)" font-size="9.9" fill="#1e1e1e" stroke="#1e1e1e" text-anchor="end">1.0</text>
<line x1="1333.3" x2="1336.9" y1="283.2" y2="283.2" stroke="#222" stroke-width="1.3"/>
<text transform="translate(1330.9,286.37) scale(1,1)" font-size="9.9" fill="#1e1e1e" stroke="#1e1e1e" text-anchor="end">1.5</text>
<line x1="1333.3" x2="1336.9" y1="231.8" y2="231.8" stroke="#222" stroke-width="1.3"/>
<text transform="translate(1330.9,234.97) scale(1,1)" font-size="9.9" fill="#1e1e1e" stroke="#1e1e1e" text-anchor="end">2.0</text>
<line x1="1347.69" x2="1347.69" y1="385.5" y2="389.1" stroke="#222" stroke-width="1.3"/>
<text transform="translate(1347.69,398.3) scale(1,1)" font-size="9.3" fill="#1e1e1e" stroke="#1e1e1e" text-anchor="middle">1995</text>
<line x1="1378.53" x2="1378.53" y1="385.5" y2="389.1" stroke="#222" stroke-width="1.3"/>
<text transform="translate(1378.53,398.3) scale(1,1)" font-size="9.3" fill="#1e1e1e" stroke="#1e1e1e" text-anchor="middle">2000</text>
<line x1="1409.37" x2="1409.37" y1="385.5" y2="389.1" stroke="#222" stroke-width="1.3"/>
<text transform="translate(1409.37,398.3) scale(1,1)" font-size="9.3" fill="#1e1e1e" stroke="#1e1e1e" text-anchor="middle">2005</text>
<line x1="1440.2" x2="1440.2" y1="385.5" y2="389.1" stroke="#222" stroke-width="1.3"/>
<text transform="translate(1440.2,398.3) scale(1,1)" font-size="9.3" fill="#1e1e1e" stroke="#1e1e1e" text-anchor="middle">2010</text>
<line x1="1471.04" x2="1471.04" y1="385.5" y2="389.1" stroke="#222" stroke-width="1.3"/>
<text transform="translate(1471.04,398.3) scale(1,1)" font-size="9.3" fill="#1e1e1e" stroke="#1e1e1e" text-anchor="middle">2015</text>
<line x1="1501.87" x2="1501.87" y1="385.5" y2="389.1" stroke="#222" stroke-width="1.3"/>
<text transform="translate(1501.87,398.3) scale(1,1)" font-size="9.3" fill="#1e1e1e" stroke="#1e1e1e" text-anchor="middle">2020</text>
<rect x="1512.6" y="199.2" width="169.9" height="20.1" fill="#d9d9d9"/>
<text x="1597.55" y="213.05" font-size="10.3" fill="#1a1a1a" stroke="#1a1a1a" text-anchor="middle">High&#8722;middle SDI</text>
<rect x="1512.6" y="219.3" width="169.9" height="166.2" fill="#ebebeb"/>
<svg x="1512.6" y="219.3" width="169.9" height="166.2" viewBox="1512.6 219.3 169.9 166.2" overflow="hidden">
<line x1="1512.6" x2="1682.5" y1="360.3" y2="360.3" stroke="#fff" stroke-width="1.0"/>
<line x1="1512.6" x2="1682.5" y1="308.9" y2="308.9" stroke="#fff" stroke-width="1.0"/>
<line x1="1512.6" x2="1682.5" y1="257.5" y2="257.5" stroke="#fff" stroke-width="1.0"/>
<line x1="1538.86" x2="1538.86" y1="219.3" y2="385.5" stroke="#fff" stroke-width="1.0"/>
<line x1="1569.75" x2="1569.75" y1="219.3" y2="385.5" stroke="#fff" stroke-width="1.0"/>
<line x1="1600.64" x2="1600.64" y1="219.3" y2="385.5" stroke="#fff" stroke-width="1.0"/>
<line x1="1631.53" x2="1631.53" y1="219.3" y2="385.5" stroke="#fff" stroke-width="1.0"/>
<line x1="1662.42" x2="1662.42" y1="219.3" y2="385.5" stroke="#fff" stroke-width="1.0"/>
<line x1="1512.6" x2="1682.5" y1="386" y2="386" stroke="#fff" stroke-width="1.5"/>
<line x1="1512.6" x2="1682.5" y1="334.6" y2="334.6" stroke="#fff" stroke-width="1.5"/>
<line x1="1512.6" x2="1682.5" y1="283.2" y2="283.2" stroke="#fff" stroke-width="1.5"/>
<line x1="1512.6" x2="1682.5" y1="231.8" y2="231.8" stroke="#fff" stroke-width="1.5"/>
<line x1="1523.41" x2="1523.41" y1="219.3" y2="385.5" stroke="#fff" stroke-width="1.5"/>
<line x1="1554.3" x2="1554.3" y1="219.3" y2="385.5" stroke="#fff" stroke-width="1.5"/>
<line x1="1585.19" x2="1585.19" y1="219.3" y2="385.5" stroke="#fff" stroke-width="1.5"/>
<line x1="1616.08" x2="1616.08" y1="219.3" y2="385.5" stroke="#fff" stroke-width="1.5"/>
<line x1="1646.98" x2="1646.98" y1="219.3" y2="385.5" stroke="#fff" stroke-width="1.5"/>
<line x1="1677.87" x2="1677.87" y1="219.3" y2="385.5" stroke="#fff" stroke-width="1.5"/>
<polygon points="1520.32,225.49 1551.21,256.31 1582.1,287.01 1613,334.6 1643.89,344.97 1674.78,352.54 1674.78,365.09 1643.89,358.64 1613,334.6 1582.1,311.79 1551.21,286.14 1520.32,260.39" fill="#440154" fill-opacity="0.09"/>
<polygon points="1520.32,247.87 1551.21,263.87 1582.1,292.17 1613,334.6 1643.89,338.56 1674.78,345.37 1674.78,362.06 1643.89,356.47 1613,334.6 1582.1,336.08 1551.21,316.33 1520.32,305.17" fill="#21908c" fill-opacity="0.09"/>
<polygon points="1520.32,235.83 1551.21,262.56 1582.1,290.4 1613,334.6 1643.89,344.79 1674.78,351.95 1674.78,363.12 1643.89,356.89 1613,334.6 1582.1,312.14 1551.21,288.41 1520.32,265.64" fill="#fde725" fill-opacity="0.09"/>
<polyline points="1520.32,243.72 1551.21,271.89 1582.1,299.96 1613,334.6 1643.89,352.08 1674.78,359.07" fill="none" stroke="#251b40" stroke-width="3.3" stroke-linejoin="round" stroke-linecap="round"/>
<polyline points="1520.32,279.09 1551.21,292.45 1582.1,316.1 1613,334.6 1643.89,347.96 1674.78,354.13" fill="none" stroke="#17877b" stroke-width="3.3" stroke-linejoin="round" stroke-linecap="round"/>
<polyline points="1520.32,251.33 1551.21,276 1582.1,301.7 1613,334.6 1643.89,351.05 1674.78,357.73" fill="none" stroke="#f3de10" stroke-width="3.3" stroke-linejoin="round" stroke-linecap="round"/>
<line x1="1512.6" x2="1682.5" y1="334.6" y2="334.6" stroke="#000" stroke-width="2.3" stroke-dasharray="7.1 6.75"/>
<line x1="1613" x2="1613" y1="385.5" y2="219.3" stroke="#000" stroke-width="2.3" stroke-dasharray="7.1 6.75"/>
</svg>
<line x1="1523.41" x2="1523.41" y1="385.5" y2="389.1" stroke="#222" stroke-width="1.3"/>
<text transform="translate(1523.41,398.3) scale(1,1)" font-size="9.3" fill="#1e1e1e" stroke="#1e1e1e" text-anchor="middle">1995</text>
<line x1="1554.3" x2="1554.3" y1="385.5" y2="389.1" stroke="#222" stroke-width="1.3"/>
<text transform="translate(1554.3,398.3) scale(1,1)" font-size="9.3" fill="#1e1e1e" stroke="#1e1e1e" text-anchor="middle">2000</text>
<line x1="1585.19" x2="1585.19" y1="385.5" y2="389.1" stroke="#222" stroke-width="1.3"/>
<text transform="translate(1585.19,398.3) scale(1,1)" font-size="9.3" fill="#1e1e1e" stroke="#1e1e1e" text-anchor="middle">2005</text>
<line x1="1616.08" x2="1616.08" y1="385.5" y2="389.1" stroke="#222" stroke-width="1.3"/>
<text transform="translate(1616.08,398.3) scale(1,1)" font-size="9.3" fill="#1e1e1e" stroke="#1e1e1e" text-anchor="middle">2010</text>
<line x1="1646.98" x2="1646.98" y1="385.5" y2="389.1" stroke="#222" stroke-width="1.3"/>
<text transform="translate(1646.98,398.3) scale(1,1)" font-size="9.3" fill="#1e1e1e" stroke="#1e1e1e" text-anchor="middle">2015</text>
<line x1="1677.87" x2="1677.87" y1="385.5" y2="389.1" stroke="#222" stroke-width="1.3"/>
<text transform="translate(1677.87,398.3) scale(1,1)" font-size="9.3" fill="#1e1e1e" stroke="#1e1e1e" text-anchor="middle">2020</text>
<rect x="1688.9" y="199.2" width="169.6" height="20.1" fill="#d9d9d9"/>
<text x="1773.7" y="213.05" font-size="10.3" fill="#1a1a1a" stroke="#1a1a1a" text-anchor="middle">High SDI</text>
<rect x="1688.9" y="219.3" width="169.6" height="166.2" fill="#ebebeb"/>
<svg x="1688.9" y="219.3" width="169.6" height="166.2" viewBox="1688.9 219.3 169.6 166.2" overflow="hidden">
<line x1="1688.9" x2="1858.5" y1="360.3" y2="360.3" stroke="#fff" stroke-width="1.0"/>
<line x1="1688.9" x2="1858.5" y1="308.9" y2="308.9" stroke="#fff" stroke-width="1.0"/>
<line x1="1688.9" x2="1858.5" y1="257.5" y2="257.5" stroke="#fff" stroke-width="1.0"/>
<line x1="1715.11" x2="1715.11" y1="219.3" y2="385.5" stroke="#fff" stroke-width="1.0"/>
<line x1="1745.95" x2="1745.95" y1="219.3" y2="385.5" stroke="#fff" stroke-width="1.0"/>
<line x1="1776.78" x2="1776.78" y1="219.3" y2="385.5" stroke="#fff" stroke-width="1.0"/>
<line x1="1807.62" x2="1807.62" y1="219.3" y2="385.5" stroke="#fff" stroke-width="1.0"/>
<line x1="1838.46" x2="1838.46" y1="219.3" y2="385.5" stroke="#fff" stroke-width="1.0"/>
<line x1="1688.9" x2="1858.5" y1="386" y2="386" stroke="#fff" stroke-width="1.5"/>
<line x1="1688.9" x2="1858.5" y1="334.6" y2="334.6" stroke="#fff" stroke-width="1.5"/>
<line x1="1688.9" x2="1858.5" y1="283.2" y2="283.2" stroke="#fff" stroke-width="1.5"/>
<line x1="1688.9" x2="1858.5" y1="231.8" y2="231.8" stroke="#fff" stroke-width="1.5"/>
<line x1="1699.69" x2="1699.69" y1="219.3" y2="385.5" stroke="#fff" stroke-width="1.5"/>
<line x1="1730.53" x2="1730.53" y1="219.3" y2="385.5" stroke="#fff" stroke-width="1.5"/>
<line x1="1761.37" x2="1761.37" y1="219.3" y2="385.5" stroke="#fff" stroke-width="1.5"/>
<line x1="1792.2" x2="1792.2" y1="219.3" y2="385.5" stroke="#fff" stroke-width="1.5"/>
<line x1="1823.04" x2="1823.04" y1="219.3" y2="385.5" stroke="#fff" stroke-width="1.5"/>
<line x1="1853.87" x2="1853.87" y1="219.3" y2="385.5" stroke="#fff" stroke-width="1.5"/>
<polygon points="1696.61,309.34 1727.45,304.25 1758.28,308.75 1789.12,334.6 1819.95,336.62 1850.79,344.97 1850.79,358.64 1819.95,351.52 1789.12,334.6 1758.28,340.17 1727.45,336.77 1696.61,340.61" fill="#440154" fill-opacity="0.09"/>
<polygon points="1696.61,313.19 1727.45,301.24 1758.28,304.83 1789.12,334.6 1819.95,326.06 1850.79,326.63 1850.79,346.71 1819.95,346.24 1789.12,334.6 1758.28,339.19 1727.45,336.53 1696.61,345.38" fill="#21908c" fill-opacity="0.09"/>
<polygon points="1696.61,314.54 1727.45,307.58 1758.28,311.29 1789.12,334.6 1819.95,334.86 1850.79,339.72 1850.79,352.48 1819.95,348.26 1789.12,334.6 1758.28,338.2 1727.45,335.28 1696.61,340.75" fill="#fde725" fill-opacity="0.09"/>
<polyline points="1696.61,326.07 1727.45,321.65 1758.28,325.55 1789.12,334.6 1819.95,344.37 1850.79,352.08" fill="none" stroke="#251b40" stroke-width="3.3" stroke-linejoin="round" stroke-linecap="round"/>
<polyline points="1696.61,330.49 1727.45,320.21 1758.28,323.29 1789.12,334.6 1819.95,336.66 1850.79,337.17" fill="none" stroke="#17877b" stroke-width="3.3" stroke-linejoin="round" stroke-linecap="round"/>
<polyline points="1696.61,328.43 1727.45,322.26 1758.28,325.55 1789.12,334.6 1819.95,341.8 1850.79,346.32" fill="none" stroke="#f3de10" stroke-width="3.3" stroke-linejoin="round" stroke-linecap="round"/>
<line x1="1688.9" x2="1858.5" y1="334.6" y2="334.6" stroke="#000" stroke-width="2.3" stroke-dasharray="7.1 6.75"/>
<line x1="1789.12" x2="1789.12" y1="385.5" y2="219.3" stroke="#000" stroke-width="2.3" stroke-dasharray="7.1 6.75"/>
</svg>
<line x1="1699.69" x2="1699.69" y1="385.5" y2="389.1" stroke="#222" stroke-width="1.3"/>
<text transform="translate(1699.69,398.3) scale(1,1)" font-size="9.3" fill="#1e1e1e" stroke="#1e1e1e" text-anchor="middle">1995</text>
<line x1="1730.53" x2="1730.53" y1="385.5" y2="389.1" stroke="#222" stroke-width="1.3"/>
<text transform="translate(1730.53,398.3) scale(1,1)" font-size="9.3" fill="#1e1e1e" stroke="#1e1e1e" text-anchor="middle">2000</text>
<line x1="1761.37" x2="1761.37" y1="385.5" y2="389.1" stroke="#222" stroke-width="1.3"/>
<text transform="translate(1761.37,398.3) scale(1,1)" font-size="9.3" fill="#1e1e1e" stroke="#1e1e1e" text-anchor="middle">2005</text>
<line x1="1792.2" x2="1792.2" y1="385.5" y2="389.1" stroke="#222" stroke-width="1.3"/>
<text transform="translate(1792.2,398.3) scale(1,1)" font-size="9.3" fill="#1e1e1e" stroke="#1e1e1e" text-anchor="middle">2010</text>
<line x1="1823.04" x2="1823.04" y1="385.5" y2="389.1" stroke="#222" stroke-width="1.3"/>
<text transform="translate(1823.04,398.3) scale(1,1)" font-size="9.3" fill="#1e1e1e" stroke="#1e1e1e" text-anchor="middle">2015</text>
<line x1="1853.87" x2="1853.87" y1="385.5" y2="389.1" stroke="#222" stroke-width="1.3"/>
<text transform="translate(1853.87,398.3) scale(1,1)" font-size="9.3" fill="#1e1e1e" stroke="#1e1e1e" text-anchor="middle">2020</text>
<text x="1597.7" y="414.6" font-size="12.7" fill="#000" stroke="#000" text-anchor="middle">Periods (year)</text>
<text transform="translate(1311.2,205.9) rotate(-90)" font-size="12.7" fill="#000" stroke="#000" text-anchor="middle">Rate ratio</text>
<text x="1877.5" y="177.5" font-size="12.5" fill="#000" stroke="#000">group</text>
<rect x="1877.8" y="186.1" width="19.2" height="19.2" fill="#d6d0d8"/>
<line x1="1879.3" x2="1895.3" y1="195.7" y2="195.7" stroke="#251b40" stroke-width="3.3"/>
<text x="1903.5" y="199.4" font-size="10.2" fill="#000" stroke="#000">Male</text>
<rect x="1877.8" y="205.95" width="19.2" height="19.2" fill="#dce2e2"/>
<line x1="1879.3" x2="1895.3" y1="215.55" y2="215.55" stroke="#17877b" stroke-width="3.3"/>
<text x="1903.5" y="219.25" font-size="10.2" fill="#000" stroke="#000">Female</text>
<rect x="1877.8" y="225.8" width="19.2" height="19.2" fill="#efeddf"/>
<line x1="1879.3" x2="1895.3" y1="235.4" y2="235.4" stroke="#f3de10" stroke-width="3.3"/>
<text x="1903.5" y="239.1" font-size="10.2" fill="#000" stroke="#000">Both</text>
<text x="1612.1" y="462.2" font-size="35" font-weight="bold" fill="#1a1410" stroke="#1a1410" style="stroke:none" text-anchor="middle" font-family="'Liberation Serif', 'Times New Roman', serif">C</text>
<rect x="48.1" y="499.2" width="166.7" height="20.2" fill="#d9d9d9"/>
<text x="131.45" y="513.1" font-size="10.3" fill="#1a1a1a" stroke="#1a1a1a" text-anchor="middle">Global</text>
<rect x="48.1" y="519.4" width="166.7" height="166.8" fill="#ebebeb"/>
<svg x="48.1" y="519.4" width="166.7" height="166.8" viewBox="48.1 519.4 166.7 166.8" overflow="hidden">
<line x1="48.1" x2="214.8" y1="660.75" y2="660.75" stroke="#fff" stroke-width="1.0"/>
<line x1="48.1" x2="214.8" y1="624.65" y2="624.65" stroke="#fff" stroke-width="1.0"/>
<line x1="48.1" x2="214.8" y1="588.55" y2="588.55" stroke="#fff" stroke-width="1.0"/>
<line x1="48.1" x2="214.8" y1="552.45" y2="552.45" stroke="#fff" stroke-width="1.0"/>
<line x1="80.93" x2="80.93" y1="519.4" y2="686.2" stroke="#fff" stroke-width="1.0"/>
<line x1="114.61" x2="114.61" y1="519.4" y2="686.2" stroke="#fff" stroke-width="1.0"/>
<line x1="148.29" x2="148.29" y1="519.4" y2="686.2" stroke="#fff" stroke-width="1.0"/>
<line x1="181.97" x2="181.97" y1="519.4" y2="686.2" stroke="#fff" stroke-width="1.0"/>
<line x1="48.1" x2="214.8" y1="678.8" y2="678.8" stroke="#fff" stroke-width="1.5"/>
<line x1="48.1" x2="214.8" y1="642.7" y2="642.7" stroke="#fff" stroke-width="1.5"/>
<line x1="48.1" x2="214.8" y1="606.6" y2="606.6" stroke="#fff" stroke-width="1.5"/>
<line x1="48.1" x2="214.8" y1="570.5" y2="570.5" stroke="#fff" stroke-width="1.5"/>
<line x1="48.1" x2="214.8" y1="534.4" y2="534.4" stroke="#fff" stroke-width="1.5"/>
<line x1="64.1" x2="64.1" y1="519.4" y2="686.2" stroke="#fff" stroke-width="1.5"/>
<line x1="97.77" x2="97.77" y1="519.4" y2="686.2" stroke="#fff" stroke-width="1.5"/>
<line x1="131.45" x2="131.45" y1="519.4" y2="686.2" stroke="#fff" stroke-width="1.5"/>
<line x1="165.13" x2="165.13" y1="519.4" y2="686.2" stroke="#fff" stroke-width="1.5"/>
<line x1="198.8" x2="198.8" y1="519.4" y2="686.2" stroke="#fff" stroke-width="1.5"/>
<polygon points="55.68,678.8 72.52,678.8 89.35,678.8 106.19,678.8 123.03,678.8 139.87,675.21 156.71,670.85 173.55,666.71 190.38,662.27 207.22,654.39 207.22,658.01 190.38,664.72 173.55,668.5 156.71,672.02 139.87,675.74 123.03,678.8 106.19,678.8 89.35,678.8 72.52,678.8 55.68,678.8" fill="#440154" fill-opacity="0.09"/>
<polygon points="55.68,678.8 72.52,678.8 89.35,678.8 106.19,678.8 123.03,678.8 139.87,669.29 156.71,663.98 173.55,659.62 190.38,653.07 207.22,639.5 207.22,645.32 190.38,656.88 173.55,662.46 156.71,666.18 139.87,670.7 123.03,678.8 106.19,678.8 89.35,678.8 72.52,678.8 55.68,678.8" fill="#21908c" fill-opacity="0.09"/>
<polygon points="55.68,678.8 72.52,678.8 89.35,678.8 106.19,678.8 123.03,678.8 139.87,671.86 156.71,666.71 173.55,662.27 190.38,656.97 207.22,646.52 207.22,651.3 190.38,660.2 173.55,664.72 156.71,668.5 139.87,672.89 123.03,678.8 106.19,678.8 89.35,678.8 72.52,678.8 55.68,678.8" fill="#fde725" fill-opacity="0.09"/>
<polyline points="55.68,678.8 72.52,678.8 89.35,678.8 106.19,678.8 123.03,678.8 139.87,675.48 156.71,671.44 173.55,667.61 190.38,663.49 207.22,656.2" fill="none" stroke="#251b40" stroke-width="3.1" stroke-linejoin="round" stroke-linecap="round"/>
<polyline points="55.68,678.8 72.52,678.8 89.35,678.8 106.19,678.8 123.03,678.8 139.87,669.99 156.71,665.08 173.55,661.04 190.38,654.97 207.22,642.41" fill="none" stroke="#17877b" stroke-width="3.1" stroke-linejoin="round" stroke-linecap="round"/>
<polyline points="55.68,678.8 72.52,678.8 89.35,678.8 106.19,678.8 123.03,678.8 139.87,672.37 156.71,667.61 173.55,663.49 190.38,658.58 207.22,648.91" fill="none" stroke="#f3de10" stroke-width="3.1" stroke-linejoin="round" stroke-linecap="round"/>
</svg>
<line x1="44.5" x2="48.1" y1="678.8" y2="678.8" stroke="#222" stroke-width="1.3"/>
<text transform="translate(42.1,681.97) scale(1,1)" font-size="9.9" fill="#1e1e1e" stroke="#1e1e1e" text-anchor="end">0</text>
<line x1="44.5" x2="48.1" y1="642.7" y2="642.7" stroke="#222" stroke-width="1.3"/>
<text transform="translate(42.1,645.87) scale(1,1)" font-size="9.9" fill="#1e1e1e" stroke="#1e1e1e" text-anchor="end">500</text>
<line x1="44.5" x2="48.1" y1="606.6" y2="606.6" stroke="#222" stroke-width="1.3"/>
<text transform="translate(42.1,609.77) scale(1,1)" font-size="9.9" fill="#1e1e1e" stroke="#1e1e1e" text-anchor="end">1000</text>
<line x1="44.5" x2="48.1" y1="570.5" y2="570.5" stroke="#222" stroke-width="1.3"/>
<text transform="translate(42.1,573.67) scale(1,1)" font-size="9.9" fill="#1e1e1e" stroke="#1e1e1e" text-anchor="end">1500</text>
<line x1="44.5" x2="48.1" y1="534.4" y2="534.4" stroke="#222" stroke-width="1.3"/>
<text transform="translate(42.1,537.57) scale(1,1)" font-size="9.9" fill="#1e1e1e" stroke="#1e1e1e" text-anchor="end">2000</text>
<rect x="221.6" y="499.2" width="166.4" height="20.2" fill="#d9d9d9"/>
<text x="304.8" y="513.1" font-size="10.3" fill="#1a1a1a" stroke="#1a1a1a" text-anchor="middle">Low SDI</text>
<rect x="221.6" y="519.4" width="166.4" height="166.8" fill="#ebebeb"/>
<svg x="221.6" y="519.4" width="166.4" height="166.8" viewBox="221.6 519.4 166.4 166.8" overflow="hidden">
<line x1="221.6" x2="388" y1="660.75" y2="660.75" stroke="#fff" stroke-width="1.0"/>
<line x1="221.6" x2="388" y1="624.65" y2="624.65" stroke="#fff" stroke-width="1.0"/>
<line x1="221.6" x2="388" y1="588.55" y2="588.55" stroke="#fff" stroke-width="1.0"/>
<line x1="221.6" x2="388" y1="552.45" y2="552.45" stroke="#fff" stroke-width="1.0"/>
<line x1="254.38" x2="254.38" y1="519.4" y2="686.2" stroke="#fff" stroke-width="1.0"/>
<line x1="287.99" x2="287.99" y1="519.4" y2="686.2" stroke="#fff" stroke-width="1.0"/>
<line x1="321.61" x2="321.61" y1="519.4" y2="686.2" stroke="#fff" stroke-width="1.0"/>
<line x1="355.22" x2="355.22" y1="519.4" y2="686.2" stroke="#fff" stroke-width="1.0"/>
<line x1="221.6" x2="388" y1="678.8" y2="678.8" stroke="#fff" stroke-width="1.5"/>
<line x1="221.6" x2="388" y1="642.7" y2="642.7" stroke="#fff" stroke-width="1.5"/>
<line x1="221.6" x2="388" y1="606.6" y2="606.6" stroke="#fff" stroke-width="1.5"/>
<line x1="221.6" x2="388" y1="570.5" y2="570.5" stroke="#fff" stroke-width="1.5"/>
<line x1="221.6" x2="388" y1="534.4" y2="534.4" stroke="#fff" stroke-width="1.5"/>
<line x1="237.57" x2="237.57" y1="519.4" y2="686.2" stroke="#fff" stroke-width="1.5"/>
<line x1="271.18" x2="271.18" y1="519.4" y2="686.2" stroke="#fff" stroke-width="1.5"/>
<line x1="304.8" x2="304.8" y1="519.4" y2="686.2" stroke="#fff" stroke-width="1.5"/>
<line x1="338.42" x2="338.42" y1="519.4" y2="686.2" stroke="#fff" stroke-width="1.5"/>
<line x1="372.03" x2="372.03" y1="519.4" y2="686.2" stroke="#fff" stroke-width="1.5"/>
<polygon points="229.16,678.8 245.97,678.8 262.78,678.8 279.59,678.8 296.4,678.8 313.2,676.62 330.01,673.97 346.82,670.85 363.63,666.17 380.44,660.09 380.44,662.86 363.63,668.04 346.82,672.02 330.01,674.68 313.2,676.94 296.4,678.8 279.59,678.8 262.78,678.8 245.97,678.8 229.16,678.8" fill="#440154" fill-opacity="0.09"/>
<polygon points="229.16,678.8 245.97,678.8 262.78,678.8 279.59,678.8 296.4,678.8 313.2,674.51 330.01,670.85 346.82,666.71 363.63,660.87 380.44,651.27 380.44,655.35 363.63,663.52 346.82,668.5 330.01,672.02 313.2,675.15 296.4,678.8 279.59,678.8 262.78,678.8 245.97,678.8 229.16,678.8" fill="#21908c" fill-opacity="0.09"/>
<polygon points="229.16,678.8 245.97,678.8 262.78,678.8 279.59,678.8 296.4,678.8 313.2,675.06 330.01,672.09 346.82,668.74 363.63,663.59 380.44,655.17 380.44,658.67 363.63,665.85 346.82,670.23 330.01,673.09 313.2,675.61 296.4,678.8 279.59,678.8 262.78,678.8 245.97,678.8 229.16,678.8" fill="#fde725" fill-opacity="0.09"/>
<polyline points="229.16,678.8 245.97,678.8 262.78,678.8 279.59,678.8 296.4,678.8 313.2,676.78 330.01,674.32 346.82,671.44 363.63,667.1 380.44,661.47" fill="none" stroke="#251b40" stroke-width="3.1" stroke-linejoin="round" stroke-linecap="round"/>
<polyline points="229.16,678.8 245.97,678.8 262.78,678.8 279.59,678.8 296.4,678.8 313.2,674.83 330.01,671.44 346.82,667.61 363.63,662.19 380.44,653.31" fill="none" stroke="#17877b" stroke-width="3.1" stroke-linejoin="round" stroke-linecap="round"/>
<polyline points="229.16,678.8 245.97,678.8 262.78,678.8 279.59,678.8 296.4,678.8 313.2,675.33 330.01,672.59 346.82,669.49 363.63,664.72 380.44,656.92" fill="none" stroke="#f3de10" stroke-width="3.1" stroke-linejoin="round" stroke-linecap="round"/>
</svg>
<rect x="395" y="499.2" width="166.3" height="20.2" fill="#d9d9d9"/>
<text x="478.15" y="513.1" font-size="10.3" fill="#1a1a1a" stroke="#1a1a1a" text-anchor="middle">Low&#8722;middle SDI</text>
<rect x="395" y="519.4" width="166.3" height="166.8" fill="#ebebeb"/>
<svg x="395" y="519.4" width="166.3" height="166.8" viewBox="395 519.4 166.3 166.8" overflow="hidden">
<line x1="395" x2="561.3" y1="660.75" y2="660.75" stroke="#fff" stroke-width="1.0"/>
<line x1="395" x2="561.3" y1="624.65" y2="624.65" stroke="#fff" stroke-width="1.0"/>
<line x1="395" x2="561.3" y1="588.55" y2="588.55" stroke="#fff" stroke-width="1.0"/>
<line x1="395" x2="561.3" y1="552.45" y2="552.45" stroke="#fff" stroke-width="1.0"/>
<line x1="427.76" x2="427.76" y1="519.4" y2="686.2" stroke="#fff" stroke-width="1.0"/>
<line x1="461.35" x2="461.35" y1="519.4" y2="686.2" stroke="#fff" stroke-width="1.0"/>
<line x1="494.95" x2="494.95" y1="519.4" y2="686.2" stroke="#fff" stroke-width="1.0"/>
<line x1="528.54" x2="528.54" y1="519.4" y2="686.2" stroke="#fff" stroke-width="1.0"/>
<line x1="395" x2="561.3" y1="678.8" y2="678.8" stroke="#fff" stroke-width="1.5"/>
<line x1="395" x2="561.3" y1="642.7" y2="642.7" stroke="#fff" stroke-width="1.5"/>
<line x1="395" x2="561.3" y1="606.6" y2="606.6" stroke="#fff" stroke-width="1.5"/>
<line x1="395" x2="561.3" y1="570.5" y2="570.5" stroke="#fff" stroke-width="1.5"/>
<line x1="395" x2="561.3" y1="534.4" y2="534.4" stroke="#fff" stroke-width="1.5"/>
<line x1="410.96" x2="410.96" y1="519.4" y2="686.2" stroke="#fff" stroke-width="1.5"/>
<line x1="444.55" x2="444.55" y1="519.4" y2="686.2" stroke="#fff" stroke-width="1.5"/>
<line x1="478.15" x2="478.15" y1="519.4" y2="686.2" stroke="#fff" stroke-width="1.5"/>
<line x1="511.75" x2="511.75" y1="519.4" y2="686.2" stroke="#fff" stroke-width="1.5"/>
<line x1="545.34" x2="545.34" y1="519.4" y2="686.2" stroke="#fff" stroke-width="1.5"/>
<polygon points="402.56,678.8 419.36,678.8 436.16,678.8 452.95,678.8 469.75,678.8 486.55,676.07 503.35,672.64 520.14,668.2 536.94,663.59 553.74,657.75 553.74,660.87 536.94,665.85 520.14,669.77 503.35,673.55 486.55,676.48 469.75,678.8 452.95,678.8 436.16,678.8 419.36,678.8 402.56,678.8" fill="#440154" fill-opacity="0.09"/>
<polygon points="402.56,678.8 419.36,678.8 436.16,678.8 452.95,678.8 469.75,678.8 486.55,672.64 503.35,668.2 520.14,663.59 536.94,656.97 553.74,646.05 553.74,650.9 536.94,660.2 520.14,665.85 503.35,669.77 486.55,673.55 469.75,678.8 452.95,678.8 436.16,678.8 419.36,678.8 402.56,678.8" fill="#21908c" fill-opacity="0.09"/>
<polygon points="402.56,678.8 419.36,678.8 436.16,678.8 452.95,678.8 469.75,678.8 486.55,673.97 503.35,670.07 520.14,665.62 536.94,659.62 553.74,651.82 553.74,655.82 536.94,662.46 520.14,667.57 503.35,671.36 486.55,674.68 469.75,678.8 452.95,678.8 436.16,678.8 419.36,678.8 402.56,678.8" fill="#fde725" fill-opacity="0.09"/>
<polyline points="402.56,678.8 419.36,678.8 436.16,678.8 452.95,678.8 469.75,678.8 486.55,676.27 503.35,673.1 520.14,668.98 536.94,664.72 553.74,659.31" fill="none" stroke="#251b40" stroke-width="3.1" stroke-linejoin="round" stroke-linecap="round"/>
<polyline points="402.56,678.8 419.36,678.8 436.16,678.8 452.95,678.8 469.75,678.8 486.55,673.1 503.35,668.98 520.14,664.72 536.94,658.58 553.74,648.48" fill="none" stroke="#17877b" stroke-width="3.1" stroke-linejoin="round" stroke-linecap="round"/>
<polyline points="402.56,678.8 419.36,678.8 436.16,678.8 452.95,678.8 469.75,678.8 486.55,674.32 503.35,670.71 520.14,666.6 536.94,661.04 553.74,653.82" fill="none" stroke="#f3de10" stroke-width="3.1" stroke-linejoin="round" stroke-linecap="round"/>
</svg>
<rect x="48.1" y="693.5" width="166.7" height="20" fill="#d9d9d9"/>
<text x="131.45" y="707.3" font-size="10.3" fill="#1a1a1a" stroke="#1a1a1a" text-anchor="middle">Middle SDI</text>
<rect x="48.1" y="713.5" width="166.7" height="166.5" fill="#ebebeb"/>
<svg x="48.1" y="713.5" width="166.7" height="166.5" viewBox="48.1 713.5 166.7 166.5" overflow="hidden">
<line x1="48.1" x2="214.8" y1="854.98" y2="854.98" stroke="#fff" stroke-width="1.0"/>
<line x1="48.1" x2="214.8" y1="818.73" y2="818.73" stroke="#fff" stroke-width="1.0"/>
<line x1="48.1" x2="214.8" y1="782.48" y2="782.48" stroke="#fff" stroke-width="1.0"/>
<line x1="48.1" x2="214.8" y1="746.23" y2="746.23" stroke="#fff" stroke-width="1.0"/>
<line x1="80.93" x2="80.93" y1="713.5" y2="880" stroke="#fff" stroke-width="1.0"/>
<line x1="114.61" x2="114.61" y1="713.5" y2="880" stroke="#fff" stroke-width="1.0"/>
<line x1="148.29" x2="148.29" y1="713.5" y2="880" stroke="#fff" stroke-width="1.0"/>
<line x1="181.97" x2="181.97" y1="713.5" y2="880" stroke="#fff" stroke-width="1.0"/>
<line x1="48.1" x2="214.8" y1="873.1" y2="873.1" stroke="#fff" stroke-width="1.5"/>
<line x1="48.1" x2="214.8" y1="836.85" y2="836.85" stroke="#fff" stroke-width="1.5"/>
<line x1="48.1" x2="214.8" y1="800.6" y2="800.6" stroke="#fff" stroke-width="1.5"/>
<line x1="48.1" x2="214.8" y1="764.35" y2="764.35" stroke="#fff" stroke-width="1.5"/>
<line x1="48.1" x2="214.8" y1="728.1" y2="728.1" stroke="#fff" stroke-width="1.5"/>
<line x1="64.1" x2="64.1" y1="713.5" y2="880" stroke="#fff" stroke-width="1.5"/>
<line x1="97.77" x2="97.77" y1="713.5" y2="880" stroke="#fff" stroke-width="1.5"/>
<line x1="131.45" x2="131.45" y1="713.5" y2="880" stroke="#fff" stroke-width="1.5"/>
<line x1="165.13" x2="165.13" y1="713.5" y2="880" stroke="#fff" stroke-width="1.5"/>
<line x1="198.8" x2="198.8" y1="713.5" y2="880" stroke="#fff" stroke-width="1.5"/>
<polygon points="55.68,873.1 72.52,873.1 89.35,873.1 106.19,873.1 123.03,873.1 139.87,869.42 156.71,865.9 173.55,862.29 190.38,857.67 207.22,851.18 207.22,854.42 190.38,859.96 173.55,863.9 156.71,866.96 139.87,869.97 123.03,873.1 106.19,873.1 89.35,873.1 72.52,873.1 55.68,873.1" fill="#440154" fill-opacity="0.09"/>
<polygon points="55.68,873.1 72.52,873.1 89.35,873.1 106.19,873.1 123.03,873.1 139.87,864.33 156.71,857.67 173.55,851.72 190.38,844.68 207.22,833.48 207.22,839.35 190.38,848.89 173.55,854.89 156.71,859.96 139.87,865.63 123.03,873.1 106.19,873.1 89.35,873.1 72.52,873.1 55.68,873.1" fill="#21908c" fill-opacity="0.09"/>
<polygon points="55.68,873.1 72.52,873.1 89.35,873.1 106.19,873.1 123.03,873.1 139.87,866.37 156.71,861.43 173.55,856.5 190.38,849.69 207.22,842.33 207.22,846.89 190.38,853.16 173.55,858.96 156.71,863.16 139.87,867.36 123.03,873.1 106.19,873.1 89.35,873.1 72.52,873.1 55.68,873.1" fill="#fde725" fill-opacity="0.09"/>
<polyline points="55.68,873.1 72.52,873.1 89.35,873.1 106.19,873.1 123.03,873.1 139.87,869.69 156.71,866.43 173.55,863.1 190.38,858.82 207.22,852.8" fill="none" stroke="#251b40" stroke-width="3.1" stroke-linejoin="round" stroke-linecap="round"/>
<polyline points="55.68,873.1 72.52,873.1 89.35,873.1 106.19,873.1 123.03,873.1 139.87,864.98 156.71,858.82 173.55,853.31 190.38,846.78 207.22,836.41" fill="none" stroke="#17877b" stroke-width="3.1" stroke-linejoin="round" stroke-linecap="round"/>
<polyline points="55.68,873.1 72.52,873.1 89.35,873.1 106.19,873.1 123.03,873.1 139.87,866.87 156.71,862.3 173.55,857.73 190.38,851.42 207.22,844.61" fill="none" stroke="#f3de10" stroke-width="3.1" stroke-linejoin="round" stroke-linecap="round"/>
</svg>
<line x1="44.5" x2="48.1" y1="873.1" y2="873.1" stroke="#222" stroke-width="1.3"/>
<text transform="translate(42.1,876.27) scale(1,1)" font-size="9.9" fill="#1e1e1e" stroke="#1e1e1e" text-anchor="end">0</text>
<line x1="44.5" x2="48.1" y1="836.85" y2="836.85" stroke="#222" stroke-width="1.3"/>
<text transform="translate(42.1,840.02) scale(1,1)" font-size="9.9" fill="#1e1e1e" stroke="#1e1e1e" text-anchor="end">500</text>
<line x1="44.5" x2="48.1" y1="800.6" y2="800.6" stroke="#222" stroke-width="1.3"/>
<text transform="translate(42.1,803.77) scale(1,1)" font-size="9.9" fill="#1e1e1e" stroke="#1e1e1e" text-anchor="end">1000</text>
<line x1="44.5" x2="48.1" y1="764.35" y2="764.35" stroke="#222" stroke-width="1.3"/>
<text transform="translate(42.1,767.52) scale(1,1)" font-size="9.9" fill="#1e1e1e" stroke="#1e1e1e" text-anchor="end">1500</text>
<line x1="44.5" x2="48.1" y1="728.1" y2="728.1" stroke="#222" stroke-width="1.3"/>
<text transform="translate(42.1,731.27) scale(1,1)" font-size="9.9" fill="#1e1e1e" stroke="#1e1e1e" text-anchor="end">2000</text>
<line x1="64.1" x2="64.1" y1="880" y2="883.6" stroke="#222" stroke-width="1.3"/>
<text transform="translate(64.1,892.8) scale(1,1)" font-size="9.3" fill="#1e1e1e" stroke="#1e1e1e" text-anchor="middle">20</text>
<line x1="97.77" x2="97.77" y1="880" y2="883.6" stroke="#222" stroke-width="1.3"/>
<text transform="translate(97.77,892.8) scale(1,1)" font-size="9.3" fill="#1e1e1e" stroke="#1e1e1e" text-anchor="middle">30</text>
<line x1="131.45" x2="131.45" y1="880" y2="883.6" stroke="#222" stroke-width="1.3"/>
<text transform="translate(131.45,892.8) scale(1,1)" font-size="9.3" fill="#1e1e1e" stroke="#1e1e1e" text-anchor="middle">40</text>
<line x1="165.13" x2="165.13" y1="880" y2="883.6" stroke="#222" stroke-width="1.3"/>
<text transform="translate(165.13,892.8) scale(1,1)" font-size="9.3" fill="#1e1e1e" stroke="#1e1e1e" text-anchor="middle">50</text>
<line x1="198.8" x2="198.8" y1="880" y2="883.6" stroke="#222" stroke-width="1.3"/>
<text transform="translate(198.8,892.8) scale(1,1)" font-size="9.3" fill="#1e1e1e" stroke="#1e1e1e" text-anchor="middle">60</text>
<rect x="221.6" y="693.5" width="166.4" height="20" fill="#d9d9d9"/>
<text x="304.8" y="707.3" font-size="10.3" fill="#1a1a1a" stroke="#1a1a1a" text-anchor="middle">High&#8722;middle SDI</text>
<rect x="221.6" y="713.5" width="166.4" height="166.5" fill="#ebebeb"/>
<svg x="221.6" y="713.5" width="166.4" height="166.5" viewBox="221.6 713.5 166.4 166.5" overflow="hidden">
<line x1="221.6" x2="388" y1="854.98" y2="854.98" stroke="#fff" stroke-width="1.0"/>
<line x1="221.6" x2="388" y1="818.73" y2="818.73" stroke="#fff" stroke-width="1.0"/>
<line x1="221.6" x2="388" y1="782.48" y2="782.48" stroke="#fff" stroke-width="1.0"/>
<line x1="221.6" x2="388" y1="746.23" y2="746.23" stroke="#fff" stroke-width="1.0"/>
<line x1="254.38" x2="254.38" y1="713.5" y2="880" stroke="#fff" stroke-width="1.0"/>
<line x1="287.99" x2="287.99" y1="713.5" y2="880" stroke="#fff" stroke-width="1.0"/>
<line x1="321.61" x2="321.61" y1="713.5" y2="880" stroke="#fff" stroke-width="1.0"/>
<line x1="355.22" x2="355.22" y1="713.5" y2="880" stroke="#fff" stroke-width="1.0"/>
<line x1="221.6" x2="388" y1="873.1" y2="873.1" stroke="#fff" stroke-width="1.5"/>
<line x1="221.6" x2="388" y1="836.85" y2="836.85" stroke="#fff" stroke-width="1.5"/>
<line x1="221.6" x2="388" y1="800.6" y2="800.6" stroke="#fff" stroke-width="1.5"/>
<line x1="221.6" x2="388" y1="764.35" y2="764.35" stroke="#fff" stroke-width="1.5"/>
<line x1="221.6" x2="388" y1="728.1" y2="728.1" stroke="#fff" stroke-width="1.5"/>
<line x1="237.57" x2="237.57" y1="713.5" y2="880" stroke="#fff" stroke-width="1.5"/>
<line x1="271.18" x2="271.18" y1="713.5" y2="880" stroke="#fff" stroke-width="1.5"/>
<line x1="304.8" x2="304.8" y1="713.5" y2="880" stroke="#fff" stroke-width="1.5"/>
<line x1="338.42" x2="338.42" y1="713.5" y2="880" stroke="#fff" stroke-width="1.5"/>
<line x1="372.03" x2="372.03" y1="713.5" y2="880" stroke="#fff" stroke-width="1.5"/>
<polygon points="229.16,873.1 245.97,873.1 262.78,873.1 279.59,873.1 296.4,873.1 313.2,868.25 330.01,864.33 346.82,860.57 363.63,855.48 380.44,848.83 380.44,852.42 363.63,858.09 346.82,862.43 330.01,865.63 313.2,868.96 296.4,873.1 279.59,873.1 262.78,873.1 245.97,873.1 229.16,873.1" fill="#440154" fill-opacity="0.09"/>
<polygon points="229.16,873.1 245.97,873.1 262.78,873.1 279.59,873.1 296.4,873.1 313.2,862.29 330.01,856.5 346.82,849.69 363.63,840.84 380.44,826.98 380.44,833.81 363.63,845.62 346.82,853.16 330.01,858.96 313.2,863.9 296.4,873.1 279.59,873.1 262.78,873.1 245.97,873.1 229.16,873.1" fill="#21908c" fill-opacity="0.09"/>
<polygon points="229.16,873.1 245.97,873.1 262.78,873.1 279.59,873.1 296.4,873.1 313.2,864.33 330.01,860.02 346.82,854.07 363.63,847.65 380.44,837.87 380.44,843.09 363.63,851.42 346.82,856.89 330.01,861.96 313.2,865.63 296.4,873.1 279.59,873.1 262.78,873.1 245.97,873.1 229.16,873.1" fill="#fde725" fill-opacity="0.09"/>
<polyline points="229.16,873.1 245.97,873.1 262.78,873.1 279.59,873.1 296.4,873.1 313.2,868.61 330.01,864.98 346.82,861.5 363.63,856.79 380.44,850.62" fill="none" stroke="#251b40" stroke-width="3.1" stroke-linejoin="round" stroke-linecap="round"/>
<polyline points="229.16,873.1 245.97,873.1 262.78,873.1 279.59,873.1 296.4,873.1 313.2,863.1 330.01,857.73 346.82,851.42 363.63,843.23 380.44,830.4" fill="none" stroke="#17877b" stroke-width="3.1" stroke-linejoin="round" stroke-linecap="round"/>
<polyline points="229.16,873.1 245.97,873.1 262.78,873.1 279.59,873.1 296.4,873.1 313.2,864.98 330.01,860.99 346.82,855.48 363.63,849.54 380.44,840.48" fill="none" stroke="#f3de10" stroke-width="3.1" stroke-linejoin="round" stroke-linecap="round"/>
</svg>
<line x1="237.57" x2="237.57" y1="880" y2="883.6" stroke="#222" stroke-width="1.3"/>
<text transform="translate(237.57,892.8) scale(1,1)" font-size="9.3" fill="#1e1e1e" stroke="#1e1e1e" text-anchor="middle">20</text>
<line x1="271.18" x2="271.18" y1="880" y2="883.6" stroke="#222" stroke-width="1.3"/>
<text transform="translate(271.18,892.8) scale(1,1)" font-size="9.3" fill="#1e1e1e" stroke="#1e1e1e" text-anchor="middle">30</text>
<line x1="304.8" x2="304.8" y1="880" y2="883.6" stroke="#222" stroke-width="1.3"/>
<text transform="translate(304.8,892.8) scale(1,1)" font-size="9.3" fill="#1e1e1e" stroke="#1e1e1e" text-anchor="middle">40</text>
<line x1="338.42" x2="338.42" y1="880" y2="883.6" stroke="#222" stroke-width="1.3"/>
<text transform="translate(338.42,892.8) scale(1,1)" font-size="9.3" fill="#1e1e1e" stroke="#1e1e1e" text-anchor="middle">50</text>
<line x1="372.03" x2="372.03" y1="880" y2="883.6" stroke="#222" stroke-width="1.3"/>
<text transform="translate(372.03,892.8) scale(1,1)" font-size="9.3" fill="#1e1e1e" stroke="#1e1e1e" text-anchor="middle">60</text>
<rect x="395" y="693.5" width="166.3" height="20" fill="#d9d9d9"/>
<text x="478.15" y="707.3" font-size="10.3" fill="#1a1a1a" stroke="#1a1a1a" text-anchor="middle">High SDI</text>
<rect x="395" y="713.5" width="166.3" height="166.5" fill="#ebebeb"/>
<svg x="395" y="713.5" width="166.3" height="166.5" viewBox="395 713.5 166.3 166.5" overflow="hidden">
<line x1="395" x2="561.3" y1="854.98" y2="854.98" stroke="#fff" stroke-width="1.0"/>
<line x1="395" x2="561.3" y1="818.73" y2="818.73" stroke="#fff" stroke-width="1.0"/>
<line x1="395" x2="561.3" y1="782.48" y2="782.48" stroke="#fff" stroke-width="1.0"/>
<line x1="395" x2="561.3" y1="746.23" y2="746.23" stroke="#fff" stroke-width="1.0"/>
<line x1="427.76" x2="427.76" y1="713.5" y2="880" stroke="#fff" stroke-width="1.0"/>
<line x1="461.35" x2="461.35" y1="713.5" y2="880" stroke="#fff" stroke-width="1.0"/>
<line x1="494.95" x2="494.95" y1="713.5" y2="880" stroke="#fff" stroke-width="1.0"/>
<line x1="528.54" x2="528.54" y1="713.5" y2="880" stroke="#fff" stroke-width="1.0"/>
<line x1="395" x2="561.3" y1="873.1" y2="873.1" stroke="#fff" stroke-width="1.5"/>
<line x1="395" x2="561.3" y1="836.85" y2="836.85" stroke="#fff" stroke-width="1.5"/>
<line x1="395" x2="561.3" y1="800.6" y2="800.6" stroke="#fff" stroke-width="1.5"/>
<line x1="395" x2="561.3" y1="764.35" y2="764.35" stroke="#fff" stroke-width="1.5"/>
<line x1="395" x2="561.3" y1="728.1" y2="728.1" stroke="#fff" stroke-width="1.5"/>
<line x1="410.96" x2="410.96" y1="713.5" y2="880" stroke="#fff" stroke-width="1.5"/>
<line x1="444.55" x2="444.55" y1="713.5" y2="880" stroke="#fff" stroke-width="1.5"/>
<line x1="478.15" x2="478.15" y1="713.5" y2="880" stroke="#fff" stroke-width="1.5"/>
<line x1="511.75" x2="511.75" y1="713.5" y2="880" stroke="#fff" stroke-width="1.5"/>
<line x1="545.34" x2="545.34" y1="713.5" y2="880" stroke="#fff" stroke-width="1.5"/>
<polygon points="402.56,855.99 419.36,872.01 436.16,873.1 469.75,873.1 486.55,866.37 503.35,863.47 520.14,857.05 536.94,848.83 553.74,836.38 553.74,841.82 536.94,852.42 520.14,859.43 503.35,864.9 486.55,867.36 469.75,873.1 436.16,873.1 419.36,873.1 402.56,873.1" fill="#440154" fill-opacity="0.09"/>
<polygon points="402.56,873.1 419.36,873.1 436.16,873.1 452.95,873.1 469.75,873.1 486.55,859.4 503.35,858.54 520.14,854.62 536.94,847.65 553.74,831.13 553.74,837.35 536.94,851.42 520.14,857.36 503.35,860.69 486.55,861.43 469.75,873.1 452.95,873.1 436.16,873.1 419.36,873.1 402.56,873.1" fill="#21908c" fill-opacity="0.09"/>
<polygon points="402.56,720.85 407.6,793.35 412.64,826.7 419.36,849.18 427.76,862.23 436.16,869.48 452.95,872.74 469.75,873.1 486.55,862.29 503.35,860.57 520.14,855.48 536.94,848.2 553.74,833.48 553.74,839.35 536.94,851.89 520.14,858.09 503.35,862.43 486.55,863.9 469.75,873.1 452.95,873.1 436.16,873.1 427.76,873.1 419.36,873.1 412.64,873.1 407.6,873.1 402.56,873.1" fill="#fde725" fill-opacity="0.09"/>
<polyline points="402.56,873.1 419.36,873.1 436.16,873.1 452.95,873.1 469.75,873.1 486.55,866.87 503.35,864.18 520.14,858.24 536.94,850.62 553.74,839.1" fill="none" stroke="#251b40" stroke-width="3.1" stroke-linejoin="round" stroke-linecap="round"/>
<polyline points="402.56,873.1 419.36,873.1 436.16,873.1 452.95,873.1 469.75,873.1 486.55,860.41 503.35,859.62 520.14,855.99 536.94,849.54 553.74,834.24" fill="none" stroke="#17877b" stroke-width="3.1" stroke-linejoin="round" stroke-linecap="round"/>
<polyline points="402.56,873.1 419.36,873.1 436.16,873.1 452.95,873.1 469.75,873.1 486.55,863.1 503.35,861.5 520.14,856.79 536.94,850.05 553.74,836.41" fill="none" stroke="#f3de10" stroke-width="3.1" stroke-linejoin="round" stroke-linecap="round"/>
</svg>
<line x1="410.96" x2="410.96" y1="880" y2="883.6" stroke="#222" stroke-width="1.3"/>
<text transform="translate(410.96,892.8) scale(1,1)" font-size="9.3" fill="#1e1e1e" stroke="#1e1e1e" text-anchor="middle">20</text>
<line x1="444.55" x2="444.55" y1="880" y2="883.6" stroke="#222" stroke-width="1.3"/>
<text transform="translate(444.55,892.8) scale(1,1)" font-size="9.3" fill="#1e1e1e" stroke="#1e1e1e" text-anchor="middle">30</text>
<line x1="478.15" x2="478.15" y1="880" y2="883.6" stroke="#222" stroke-width="1.3"/>
<text transform="translate(478.15,892.8) scale(1,1)" font-size="9.3" fill="#1e1e1e" stroke="#1e1e1e" text-anchor="middle">40</text>
<line x1="511.75" x2="511.75" y1="880" y2="883.6" stroke="#222" stroke-width="1.3"/>
<text transform="translate(511.75,892.8) scale(1,1)" font-size="9.3" fill="#1e1e1e" stroke="#1e1e1e" text-anchor="middle">50</text>
<line x1="545.34" x2="545.34" y1="880" y2="883.6" stroke="#222" stroke-width="1.3"/>
<text transform="translate(545.34,892.8) scale(1,1)" font-size="9.3" fill="#1e1e1e" stroke="#1e1e1e" text-anchor="middle">60</text>
<text x="304.7" y="908.3" font-size="12.7" fill="#000" stroke="#000" text-anchor="middle">Age</text>
<text transform="translate(14.4,699.9) rotate(-90)" font-size="12.7" fill="#000" stroke="#000" text-anchor="middle">Rate (per 100000 populations)</text>
<text x="580.6" y="671.2" font-size="12.5" fill="#000" stroke="#000">group</text>
<rect x="580.9" y="679.8" width="19.2" height="19.2" fill="#d6d0d8"/>
<line x1="582.4" x2="598.4" y1="689.4" y2="689.4" stroke="#251b40" stroke-width="3.1"/>
<text x="606.6" y="693.1" font-size="10.2" fill="#000" stroke="#000">Male</text>
<rect x="580.9" y="699.65" width="19.2" height="19.2" fill="#dce2e2"/>
<line x1="582.4" x2="598.4" y1="709.25" y2="709.25" stroke="#17877b" stroke-width="3.1"/>
<text x="606.6" y="712.95" font-size="10.2" fill="#000" stroke="#000">Female</text>
<rect x="580.9" y="719.5" width="19.2" height="19.2" fill="#efeddf"/>
<line x1="582.4" x2="598.4" y1="729.1" y2="729.1" stroke="#f3de10" stroke-width="3.1"/>
<text x="606.6" y="732.8" font-size="10.2" fill="#000" stroke="#000">Both</text>
<text x="306.5" y="954.6" font-size="34" font-weight="bold" fill="#1a1410" stroke="#1a1410" style="stroke:none" text-anchor="middle" font-family="'Liberation Serif', 'Times New Roman', serif">D</text>
<rect x="685.4" y="499.2" width="169" height="20" fill="#d9d9d9"/>
<text x="769.9" y="513" font-size="10.3" fill="#1a1a1a" stroke="#1a1a1a" text-anchor="middle">Global</text>
<rect x="685.4" y="519.2" width="169" height="166.8" fill="#ebebeb"/>
<svg x="685.4" y="519.2" width="169" height="166.8" viewBox="685.4 519.2 169 166.8" overflow="hidden">
<line x1="685.4" x2="854.4" y1="669.37" y2="669.37" stroke="#fff" stroke-width="1.0"/>
<line x1="685.4" x2="854.4" y1="635.7" y2="635.7" stroke="#fff" stroke-width="1.0"/>
<line x1="685.4" x2="854.4" y1="602.03" y2="602.03" stroke="#fff" stroke-width="1.0"/>
<line x1="685.4" x2="854.4" y1="568.37" y2="568.37" stroke="#fff" stroke-width="1.0"/>
<line x1="685.4" x2="854.4" y1="534.7" y2="534.7" stroke="#fff" stroke-width="1.0"/>
<line x1="710.64" x2="710.64" y1="519.2" y2="686" stroke="#fff" stroke-width="1.0"/>
<line x1="754.54" x2="754.54" y1="519.2" y2="686" stroke="#fff" stroke-width="1.0"/>
<line x1="798.43" x2="798.43" y1="519.2" y2="686" stroke="#fff" stroke-width="1.0"/>
<line x1="842.33" x2="842.33" y1="519.2" y2="686" stroke="#fff" stroke-width="1.0"/>
<line x1="685.4" x2="854.4" y1="686.2" y2="686.2" stroke="#fff" stroke-width="1.5"/>
<line x1="685.4" x2="854.4" y1="652.53" y2="652.53" stroke="#fff" stroke-width="1.5"/>
<line x1="685.4" x2="854.4" y1="618.87" y2="618.87" stroke="#fff" stroke-width="1.5"/>
<line x1="685.4" x2="854.4" y1="585.2" y2="585.2" stroke="#fff" stroke-width="1.5"/>
<line x1="685.4" x2="854.4" y1="551.53" y2="551.53" stroke="#fff" stroke-width="1.5"/>
<line x1="688.69" x2="688.69" y1="519.2" y2="686" stroke="#fff" stroke-width="1.5"/>
<line x1="732.59" x2="732.59" y1="519.2" y2="686" stroke="#fff" stroke-width="1.5"/>
<line x1="776.48" x2="776.48" y1="519.2" y2="686" stroke="#fff" stroke-width="1.5"/>
<line x1="820.38" x2="820.38" y1="519.2" y2="686" stroke="#fff" stroke-width="1.5"/>
<polyline points="693.08,566.35 704.06,569.55 715.03,571.73 726,573.59 736.98,575.61 747.95,577.62 758.93,581.33 769.9,585.2 780.87,588.06 791.85,589.24 802.82,603.72 813.8,617.35 824.77,617.35 835.74,614.66 846.72,617.35" fill="none" stroke="#251b40" stroke-width="3.1" stroke-linejoin="round" stroke-linecap="round"/>
<polyline points="693.08,565.5 704.06,569.55 715.03,572.74 726,574.43 736.98,575.1 747.95,578.47 758.93,581.83 769.9,585.2 780.87,590.92 791.85,599.68 802.82,609.1 813.8,622.74 824.77,621.9 835.74,619.54 846.72,622.74" fill="none" stroke="#17877b" stroke-width="3.1" stroke-linejoin="round" stroke-linecap="round"/>
<polyline points="693.08,567.53 704.06,570.89 715.03,573.59 726,575.1 736.98,576.78 747.95,579.31 758.93,581.83 769.9,585.2 780.87,589.24 791.85,594.12 802.82,606.41 813.8,620.05 824.77,620.05 835.74,618.03 846.72,620.89" fill="none" stroke="#f3de10" stroke-width="3.1" stroke-linejoin="round" stroke-linecap="round"/>
<line x1="685.4" x2="854.4" y1="585.2" y2="585.2" stroke="#000" stroke-width="2.3" stroke-dasharray="7.1 6.75"/>
<line x1="769.9" x2="769.9" y1="686" y2="519.2" stroke="#000" stroke-width="2.3" stroke-dasharray="7.1 6.75"/>
</svg>
<line x1="681.8" x2="685.4" y1="686.2" y2="686.2" stroke="#222" stroke-width="1.3"/>
<text transform="translate(679.4,689.37) scale(1,1)" font-size="9.9" fill="#1e1e1e" stroke="#1e1e1e" text-anchor="end">0.4</text>
<line x1="681.8" x2="685.4" y1="652.53" y2="652.53" stroke="#222" stroke-width="1.3"/>
<text transform="translate(679.4,655.7) scale(1,1)" font-size="9.9" fill="#1e1e1e" stroke="#1e1e1e" text-anchor="end">0.6</text>
<line x1="681.8" x2="685.4" y1="618.87" y2="618.87" stroke="#222" stroke-width="1.3"/>
<text transform="translate(679.4,622.03) scale(1,1)" font-size="9.9" fill="#1e1e1e" stroke="#1e1e1e" text-anchor="end">0.8</text>
<line x1="681.8" x2="685.4" y1="585.2" y2="585.2" stroke="#222" stroke-width="1.3"/>
<text transform="translate(679.4,588.37) scale(1,1)" font-size="9.9" fill="#1e1e1e" stroke="#1e1e1e" text-anchor="end">1.0</text>
<line x1="681.8" x2="685.4" y1="551.53" y2="551.53" stroke="#222" stroke-width="1.3"/>
<text transform="translate(679.4,554.7) scale(1,1)" font-size="9.9" fill="#1e1e1e" stroke="#1e1e1e" text-anchor="end">1.2</text>
<rect x="861.2" y="499.2" width="169.2" height="20" fill="#d9d9d9"/>
<text x="945.8" y="513" font-size="10.3" fill="#1a1a1a" stroke="#1a1a1a" text-anchor="middle">Low SDI</text>
<rect x="861.2" y="519.2" width="169.2" height="166.8" fill="#ebebeb"/>
<svg x="861.2" y="519.2" width="169.2" height="166.8" viewBox="861.2 519.2 169.2 166.8" overflow="hidden">
<line x1="861.2" x2="1030.4" y1="669.37" y2="669.37" stroke="#fff" stroke-width="1.0"/>
<line x1="861.2" x2="1030.4" y1="635.7" y2="635.7" stroke="#fff" stroke-width="1.0"/>
<line x1="861.2" x2="1030.4" y1="602.03" y2="602.03" stroke="#fff" stroke-width="1.0"/>
<line x1="861.2" x2="1030.4" y1="568.37" y2="568.37" stroke="#fff" stroke-width="1.0"/>
<line x1="861.2" x2="1030.4" y1="534.7" y2="534.7" stroke="#fff" stroke-width="1.0"/>
<line x1="886.47" x2="886.47" y1="519.2" y2="686" stroke="#fff" stroke-width="1.0"/>
<line x1="930.42" x2="930.42" y1="519.2" y2="686" stroke="#fff" stroke-width="1.0"/>
<line x1="974.37" x2="974.37" y1="519.2" y2="686" stroke="#fff" stroke-width="1.0"/>
<line x1="1018.31" x2="1018.31" y1="519.2" y2="686" stroke="#fff" stroke-width="1.0"/>
<line x1="861.2" x2="1030.4" y1="686.2" y2="686.2" stroke="#fff" stroke-width="1.5"/>
<line x1="861.2" x2="1030.4" y1="652.53" y2="652.53" stroke="#fff" stroke-width="1.5"/>
<line x1="861.2" x2="1030.4" y1="618.87" y2="618.87" stroke="#fff" stroke-width="1.5"/>
<line x1="861.2" x2="1030.4" y1="585.2" y2="585.2" stroke="#fff" stroke-width="1.5"/>
<line x1="861.2" x2="1030.4" y1="551.53" y2="551.53" stroke="#fff" stroke-width="1.5"/>
<line x1="864.5" x2="864.5" y1="519.2" y2="686" stroke="#fff" stroke-width="1.5"/>
<line x1="908.44" x2="908.44" y1="519.2" y2="686" stroke="#fff" stroke-width="1.5"/>
<line x1="952.39" x2="952.39" y1="519.2" y2="686" stroke="#fff" stroke-width="1.5"/>
<line x1="996.34" x2="996.34" y1="519.2" y2="686" stroke="#fff" stroke-width="1.5"/>
<polyline points="868.89,598.67 879.88,596.48 890.86,594.29 901.85,592.27 912.84,590.25 923.83,588.4 934.81,586.88 945.8,585.2 956.79,583.18 967.77,580.49 978.76,629.64 989.75,641.93 1000.74,654.22 1011.72,666.51 1022.71,678.29" fill="none" stroke="#251b40" stroke-width="3.1" stroke-linejoin="round" stroke-linecap="round"/>
<polyline points="868.89,590.75 879.88,589.24 890.86,588.06 901.85,587.39 912.84,586.55 923.83,586.04 934.81,585.54 945.8,585.2 956.79,583.18 967.77,580.99 978.76,632.33 989.75,643.28 1000.74,655.06 1011.72,666.84 1022.71,678.96" fill="none" stroke="#17877b" stroke-width="3.1" stroke-linejoin="round" stroke-linecap="round"/>
<polyline points="868.89,595.47 879.88,593.62 890.86,591.93 901.85,590.59 912.84,589.24 923.83,587.73 934.81,586.38 945.8,585.2 956.79,583.18 967.77,580.99 978.76,630.65 989.75,642.43 1000.74,654.55 1011.72,666.51 1022.71,678.29" fill="none" stroke="#f3de10" stroke-width="3.1" stroke-linejoin="round" stroke-linecap="round"/>
<line x1="861.2" x2="1030.4" y1="585.2" y2="585.2" stroke="#000" stroke-width="2.3" stroke-dasharray="7.1 6.75"/>
<line x1="945.8" x2="945.8" y1="686" y2="519.2" stroke="#000" stroke-width="2.3" stroke-dasharray="7.1 6.75"/>
</svg>
<rect x="1037.2" y="499.2" width="169.2" height="20" fill="#d9d9d9"/>
<text x="1121.8" y="513" font-size="10.3" fill="#1a1a1a" stroke="#1a1a1a" text-anchor="middle">Low&#8722;middle SDI</text>
<rect x="1037.2" y="519.2" width="169.2" height="166.8" fill="#ebebeb"/>
<svg x="1037.2" y="519.2" width="169.2" height="166.8" viewBox="1037.2 519.2 169.2 166.8" overflow="hidden">
<line x1="1037.2" x2="1206.4" y1="669.37" y2="669.37" stroke="#fff" stroke-width="1.0"/>
<line x1="1037.2" x2="1206.4" y1="635.7" y2="635.7" stroke="#fff" stroke-width="1.0"/>
<line x1="1037.2" x2="1206.4" y1="602.03" y2="602.03" stroke="#fff" stroke-width="1.0"/>
<line x1="1037.2" x2="1206.4" y1="568.37" y2="568.37" stroke="#fff" stroke-width="1.0"/>
<line x1="1037.2" x2="1206.4" y1="534.7" y2="534.7" stroke="#fff" stroke-width="1.0"/>
<line x1="1062.47" x2="1062.47" y1="519.2" y2="686" stroke="#fff" stroke-width="1.0"/>
<line x1="1106.42" x2="1106.42" y1="519.2" y2="686" stroke="#fff" stroke-width="1.0"/>
<line x1="1150.37" x2="1150.37" y1="519.2" y2="686" stroke="#fff" stroke-width="1.0"/>
<line x1="1194.31" x2="1194.31" y1="519.2" y2="686" stroke="#fff" stroke-width="1.0"/>
<line x1="1037.2" x2="1206.4" y1="686.2" y2="686.2" stroke="#fff" stroke-width="1.5"/>
<line x1="1037.2" x2="1206.4" y1="652.53" y2="652.53" stroke="#fff" stroke-width="1.5"/>
<line x1="1037.2" x2="1206.4" y1="618.87" y2="618.87" stroke="#fff" stroke-width="1.5"/>
<line x1="1037.2" x2="1206.4" y1="585.2" y2="585.2" stroke="#fff" stroke-width="1.5"/>
<line x1="1037.2" x2="1206.4" y1="551.53" y2="551.53" stroke="#fff" stroke-width="1.5"/>
<line x1="1040.5" x2="1040.5" y1="519.2" y2="686" stroke="#fff" stroke-width="1.5"/>
<line x1="1084.44" x2="1084.44" y1="519.2" y2="686" stroke="#fff" stroke-width="1.5"/>
<line x1="1128.39" x2="1128.39" y1="519.2" y2="686" stroke="#fff" stroke-width="1.5"/>
<line x1="1172.34" x2="1172.34" y1="519.2" y2="686" stroke="#fff" stroke-width="1.5"/>
<polyline points="1044.89,600.35 1055.88,598.33 1066.86,596.48 1077.85,594.29 1088.84,592.27 1099.83,590.25 1110.81,587.39 1121.8,585.2 1132.79,583.18 1143.77,581.33 1154.76,618.87 1165.75,627.28 1176.74,633.85 1187.72,639.24 1198.71,642.77" fill="none" stroke="#251b40" stroke-width="3.1" stroke-linejoin="round" stroke-linecap="round"/>
<polyline points="1044.89,588.74 1055.88,588.06 1066.86,587.73 1077.85,587.39 1088.84,586.88 1099.83,586.55 1110.81,586.04 1121.8,585.2 1132.79,585.2 1143.77,585.2 1154.76,618.36 1165.75,626.44 1176.74,633.01 1187.72,638.39 1198.71,642.77" fill="none" stroke="#17877b" stroke-width="3.1" stroke-linejoin="round" stroke-linecap="round"/>
<polyline points="1044.89,594.96 1055.88,593.28 1066.86,592.27 1077.85,590.92 1088.84,589.41 1099.83,588.4 1110.81,586.88 1121.8,585.2 1132.79,583.85 1143.77,582.17 1154.76,618.87 1165.75,626.95 1176.74,633.51 1187.72,638.9 1198.71,642.77" fill="none" stroke="#f3de10" stroke-width="3.1" stroke-linejoin="round" stroke-linecap="round"/>
<line x1="1037.2" x2="1206.4" y1="585.2" y2="585.2" stroke="#000" stroke-width="2.3" stroke-dasharray="7.1 6.75"/>
<line x1="1121.8" x2="1121.8" y1="686" y2="519.2" stroke="#000" stroke-width="2.3" stroke-dasharray="7.1 6.75"/>
</svg>
<rect x="685.4" y="693.3" width="169" height="20" fill="#d9d9d9"/>
<text x="769.9" y="707.1" font-size="10.3" fill="#1a1a1a" stroke="#1a1a1a" text-anchor="middle">Middle SDI</text>
<rect x="685.4" y="713.3" width="169" height="166.2" fill="#ebebeb"/>
<svg x="685.4" y="713.3" width="169" height="166.2" viewBox="685.4 713.3 169 166.2" overflow="hidden">
<line x1="685.4" x2="854.4" y1="863.28" y2="863.28" stroke="#fff" stroke-width="1.0"/>
<line x1="685.4" x2="854.4" y1="829.65" y2="829.65" stroke="#fff" stroke-width="1.0"/>
<line x1="685.4" x2="854.4" y1="796.02" y2="796.02" stroke="#fff" stroke-width="1.0"/>
<line x1="685.4" x2="854.4" y1="762.38" y2="762.38" stroke="#fff" stroke-width="1.0"/>
<line x1="685.4" x2="854.4" y1="728.75" y2="728.75" stroke="#fff" stroke-width="1.0"/>
<line x1="710.64" x2="710.64" y1="713.3" y2="879.5" stroke="#fff" stroke-width="1.0"/>
<line x1="754.54" x2="754.54" y1="713.3" y2="879.5" stroke="#fff" stroke-width="1.0"/>
<line x1="798.43" x2="798.43" y1="713.3" y2="879.5" stroke="#fff" stroke-width="1.0"/>
<line x1="842.33" x2="842.33" y1="713.3" y2="879.5" stroke="#fff" stroke-width="1.0"/>
<line x1="685.4" x2="854.4" y1="880.1" y2="880.1" stroke="#fff" stroke-width="1.5"/>
<line x1="685.4" x2="854.4" y1="846.47" y2="846.47" stroke="#fff" stroke-width="1.5"/>
<line x1="685.4" x2="854.4" y1="812.83" y2="812.83" stroke="#fff" stroke-width="1.5"/>
<line x1="685.4" x2="854.4" y1="779.2" y2="779.2" stroke="#fff" stroke-width="1.5"/>
<line x1="685.4" x2="854.4" y1="745.57" y2="745.57" stroke="#fff" stroke-width="1.5"/>
<line x1="688.69" x2="688.69" y1="713.3" y2="879.5" stroke="#fff" stroke-width="1.5"/>
<line x1="732.59" x2="732.59" y1="713.3" y2="879.5" stroke="#fff" stroke-width="1.5"/>
<line x1="776.48" x2="776.48" y1="713.3" y2="879.5" stroke="#fff" stroke-width="1.5"/>
<line x1="820.38" x2="820.38" y1="713.3" y2="879.5" stroke="#fff" stroke-width="1.5"/>
<polyline points="693.08,790.47 704.06,788.28 715.03,786.94 726,785.93 736.98,784.25 747.95,782.9 758.93,781.55 769.9,779.2 780.87,777.85 791.85,777.85 802.82,790.47 813.8,803.58 824.77,798.71 835.74,784.92 846.72,780.88" fill="none" stroke="#251b40" stroke-width="3.1" stroke-linejoin="round" stroke-linecap="round"/>
<polyline points="693.08,769.11 704.06,770.96 715.03,773.82 726,774.16 736.98,773.82 747.95,778.02 758.93,779.2 769.9,779.2 780.87,782.73 791.85,789.63 802.82,798.37 813.8,811.99 824.77,805.94 835.74,792.32 846.72,788.95" fill="none" stroke="#17877b" stroke-width="3.1" stroke-linejoin="round" stroke-linecap="round"/>
<polyline points="693.08,780.04 704.06,780.04 715.03,779.54 726,779.2 736.98,778.7 747.95,780.04 758.93,780.04 769.9,779.2 780.87,781.39 791.85,785.42 802.82,795.01 813.8,808.12 824.77,802.74 835.74,790.97 846.72,786.26" fill="none" stroke="#f3de10" stroke-width="3.1" stroke-linejoin="round" stroke-linecap="round"/>
<line x1="685.4" x2="854.4" y1="779.2" y2="779.2" stroke="#000" stroke-width="2.3" stroke-dasharray="7.1 6.75"/>
<line x1="769.9" x2="769.9" y1="879.5" y2="713.3" stroke="#000" stroke-width="2.3" stroke-dasharray="7.1 6.75"/>
</svg>
<line x1="681.8" x2="685.4" y1="880.1" y2="880.1" stroke="#222" stroke-width="1.3"/>
<text transform="translate(679.4,883.27) scale(1,1)" font-size="9.9" fill="#1e1e1e" stroke="#1e1e1e" text-anchor="end">0.4</text>
<line x1="681.8" x2="685.4" y1="846.47" y2="846.47" stroke="#222" stroke-width="1.3"/>
<text transform="translate(679.4,849.63) scale(1,1)" font-size="9.9" fill="#1e1e1e" stroke="#1e1e1e" text-anchor="end">0.6</text>
<line x1="681.8" x2="685.4" y1="812.83" y2="812.83" stroke="#222" stroke-width="1.3"/>
<text transform="translate(679.4,816) scale(1,1)" font-size="9.9" fill="#1e1e1e" stroke="#1e1e1e" text-anchor="end">0.8</text>
<line x1="681.8" x2="685.4" y1="779.2" y2="779.2" stroke="#222" stroke-width="1.3"/>
<text transform="translate(679.4,782.37) scale(1,1)" font-size="9.9" fill="#1e1e1e" stroke="#1e1e1e" text-anchor="end">1.0</text>
<line x1="681.8" x2="685.4" y1="745.57" y2="745.57" stroke="#222" stroke-width="1.3"/>
<text transform="translate(679.4,748.73) scale(1,1)" font-size="9.9" fill="#1e1e1e" stroke="#1e1e1e" text-anchor="end">1.2</text>
<line x1="688.69" x2="688.69" y1="879.5" y2="883.1" stroke="#222" stroke-width="1.3"/>
<text transform="translate(688.69,892.3) scale(1,1)" font-size="9.3" fill="#1e1e1e" stroke="#1e1e1e" text-anchor="middle">1930</text>
<line x1="732.59" x2="732.59" y1="879.5" y2="883.1" stroke="#222" stroke-width="1.3"/>
<text transform="translate(732.59,892.3) scale(1,1)" font-size="9.3" fill="#1e1e1e" stroke="#1e1e1e" text-anchor="middle">1950</text>
<line x1="776.48" x2="776.48" y1="879.5" y2="883.1" stroke="#222" stroke-width="1.3"/>
<text transform="translate(776.48,892.3) scale(1,1)" font-size="9.3" fill="#1e1e1e" stroke="#1e1e1e" text-anchor="middle">1970</text>
<line x1="820.38" x2="820.38" y1="879.5" y2="883.1" stroke="#222" stroke-width="1.3"/>
<text transform="translate(820.38,892.3) scale(1,1)" font-size="9.3" fill="#1e1e1e" stroke="#1e1e1e" text-anchor="middle">1990</text>
<rect x="861.2" y="693.3" width="169.2" height="20" fill="#d9d9d9"/>
<text x="945.8" y="707.1" font-size="10.3" fill="#1a1a1a" stroke="#1a1a1a" text-anchor="middle">High&#8722;middle SDI</text>
<rect x="861.2" y="713.3" width="169.2" height="166.2" fill="#ebebeb"/>
<svg x="861.2" y="713.3" width="169.2" height="166.2" viewBox="861.2 713.3 169.2 166.2" overflow="hidden">
<line x1="861.2" x2="1030.4" y1="863.28" y2="863.28" stroke="#fff" stroke-width="1.0"/>
<line x1="861.2" x2="1030.4" y1="829.65" y2="829.65" stroke="#fff" stroke-width="1.0"/>
<line x1="861.2" x2="1030.4" y1="796.02" y2="796.02" stroke="#fff" stroke-width="1.0"/>
<line x1="861.2" x2="1030.4" y1="762.38" y2="762.38" stroke="#fff" stroke-width="1.0"/>
<line x1="861.2" x2="1030.4" y1="728.75" y2="728.75" stroke="#fff" stroke-width="1.0"/>
<line x1="886.47" x2="886.47" y1="713.3" y2="879.5" stroke="#fff" stroke-width="1.0"/>
<line x1="930.42" x2="930.42" y1="713.3" y2="879.5" stroke="#fff" stroke-width="1.0"/>
<line x1="974.37" x2="974.37" y1="713.3" y2="879.5" stroke="#fff" stroke-width="1.0"/>
<line x1="1018.31" x2="1018.31" y1="713.3" y2="879.5" stroke="#fff" stroke-width="1.0"/>
<line x1="861.2" x2="1030.4" y1="880.1" y2="880.1" stroke="#fff" stroke-width="1.5"/>
<line x1="861.2" x2="1030.4" y1="846.47" y2="846.47" stroke="#fff" stroke-width="1.5"/>
<line x1="861.2" x2="1030.4" y1="812.83" y2="812.83" stroke="#fff" stroke-width="1.5"/>
<line x1="861.2" x2="1030.4" y1="779.2" y2="779.2" stroke="#fff" stroke-width="1.5"/>
<line x1="861.2" x2="1030.4" y1="745.57" y2="745.57" stroke="#fff" stroke-width="1.5"/>
<line x1="864.5" x2="864.5" y1="713.3" y2="879.5" stroke="#fff" stroke-width="1.5"/>
<line x1="908.44" x2="908.44" y1="713.3" y2="879.5" stroke="#fff" stroke-width="1.5"/>
<line x1="952.39" x2="952.39" y1="713.3" y2="879.5" stroke="#fff" stroke-width="1.5"/>
<line x1="996.34" x2="996.34" y1="713.3" y2="879.5" stroke="#fff" stroke-width="1.5"/>
<polyline points="868.89,770.96 879.88,775.84 890.86,775.84 901.85,778.19 912.84,781.89 923.83,782.73 934.81,781.39 945.8,779.2 956.79,778.19 967.77,778.19 978.76,781.39 989.75,796.35 1000.74,777.35 1011.72,745.9 1022.71,733.63" fill="none" stroke="#251b40" stroke-width="3.1" stroke-linejoin="round" stroke-linecap="round"/>
<polyline points="868.89,779.2 879.88,784.08 890.86,785.42 901.85,784.08 912.84,782.73 923.83,781.89 934.81,780.88 945.8,779.2 956.79,781.89 967.77,786.77 978.76,786.77 989.75,800.39 1000.74,780.04 1011.72,739.18 1022.71,724.55" fill="none" stroke="#17877b" stroke-width="3.1" stroke-linejoin="round" stroke-linecap="round"/>
<polyline points="868.89,776.51 879.88,781.89 890.86,782.73 901.85,782.73 912.84,782.73 923.83,781.89 934.81,780.88 945.8,779.2 956.79,780.88 967.77,782.73 978.76,784.58 989.75,799.04 1000.74,778.7 1011.72,742.71 1022.71,729.42" fill="none" stroke="#f3de10" stroke-width="3.1" stroke-linejoin="round" stroke-linecap="round"/>
<line x1="861.2" x2="1030.4" y1="779.2" y2="779.2" stroke="#000" stroke-width="2.3" stroke-dasharray="7.1 6.75"/>
<line x1="945.8" x2="945.8" y1="879.5" y2="713.3" stroke="#000" stroke-width="2.3" stroke-dasharray="7.1 6.75"/>
</svg>
<line x1="864.5" x2="864.5" y1="879.5" y2="883.1" stroke="#222" stroke-width="1.3"/>
<text transform="translate(864.5,892.3) scale(1,1)" font-size="9.3" fill="#1e1e1e" stroke="#1e1e1e" text-anchor="middle">1930</text>
<line x1="908.44" x2="908.44" y1="879.5" y2="883.1" stroke="#222" stroke-width="1.3"/>
<text transform="translate(908.44,892.3) scale(1,1)" font-size="9.3" fill="#1e1e1e" stroke="#1e1e1e" text-anchor="middle">1950</text>
<line x1="952.39" x2="952.39" y1="879.5" y2="883.1" stroke="#222" stroke-width="1.3"/>
<text transform="translate(952.39,892.3) scale(1,1)" font-size="9.3" fill="#1e1e1e" stroke="#1e1e1e" text-anchor="middle">1970</text>
<line x1="996.34" x2="996.34" y1="879.5" y2="883.1" stroke="#222" stroke-width="1.3"/>
<text transform="translate(996.34,892.3) scale(1,1)" font-size="9.3" fill="#1e1e1e" stroke="#1e1e1e" text-anchor="middle">1990</text>
<rect x="1037.2" y="693.3" width="169.2" height="20" fill="#d9d9d9"/>
<text x="1121.8" y="707.1" font-size="10.3" fill="#1a1a1a" stroke="#1a1a1a" text-anchor="middle">High SDI</text>
<rect x="1037.2" y="713.3" width="169.2" height="166.2" fill="#ebebeb"/>
<svg x="1037.2" y="713.3" width="169.2" height="166.2" viewBox="1037.2 713.3 169.2 166.2" overflow="hidden">
<line x1="1037.2" x2="1206.4" y1="863.28" y2="863.28" stroke="#fff" stroke-width="1.0"/>
<line x1="1037.2" x2="1206.4" y1="829.65" y2="829.65" stroke="#fff" stroke-width="1.0"/>
<line x1="1037.2" x2="1206.4" y1="796.02" y2="796.02" stroke="#fff" stroke-width="1.0"/>
<line x1="1037.2" x2="1206.4" y1="762.38" y2="762.38" stroke="#fff" stroke-width="1.0"/>
<line x1="1037.2" x2="1206.4" y1="728.75" y2="728.75" stroke="#fff" stroke-width="1.0"/>
<line x1="1062.47" x2="1062.47" y1="713.3" y2="879.5" stroke="#fff" stroke-width="1.0"/>
<line x1="1106.42" x2="1106.42" y1="713.3" y2="879.5" stroke="#fff" stroke-width="1.0"/>
<line x1="1150.37" x2="1150.37" y1="713.3" y2="879.5" stroke="#fff" stroke-width="1.0"/>
<line x1="1194.31" x2="1194.31" y1="713.3" y2="879.5" stroke="#fff" stroke-width="1.0"/>
<line x1="1037.2" x2="1206.4" y1="880.1" y2="880.1" stroke="#fff" stroke-width="1.5"/>
<line x1="1037.2" x2="1206.4" y1="846.47" y2="846.47" stroke="#fff" stroke-width="1.5"/>
<line x1="1037.2" x2="1206.4" y1="812.83" y2="812.83" stroke="#fff" stroke-width="1.5"/>
<line x1="1037.2" x2="1206.4" y1="779.2" y2="779.2" stroke="#fff" stroke-width="1.5"/>
<line x1="1037.2" x2="1206.4" y1="745.57" y2="745.57" stroke="#fff" stroke-width="1.5"/>
<line x1="1040.5" x2="1040.5" y1="713.3" y2="879.5" stroke="#fff" stroke-width="1.5"/>
<line x1="1084.44" x2="1084.44" y1="713.3" y2="879.5" stroke="#fff" stroke-width="1.5"/>
<line x1="1128.39" x2="1128.39" y1="713.3" y2="879.5" stroke="#fff" stroke-width="1.5"/>
<line x1="1172.34" x2="1172.34" y1="713.3" y2="879.5" stroke="#fff" stroke-width="1.5"/>
<polyline points="1044.89,730.1 1055.88,733.63 1066.86,741.03 1077.85,748.59 1088.84,752.8 1099.83,755.49 1110.81,767.76 1121.8,779.2 1132.79,790.13 1143.77,790.47 1154.76,793.66 1165.75,799.04 1176.74,797.19 1187.72,791.64 1198.71,789.63" fill="none" stroke="#251b40" stroke-width="3.1" stroke-linejoin="round" stroke-linecap="round"/>
<polyline points="1044.89,721.35 1055.88,726.73 1066.86,733.63 1077.85,741.03 1088.84,748.59 1099.83,758.18 1110.81,771.8 1121.8,779.2 1132.79,781.89 1143.77,781.89 1154.76,785.42 1165.75,789.63 1176.74,788.28 1187.72,781.89 1198.71,778.7" fill="none" stroke="#17877b" stroke-width="3.1" stroke-linejoin="round" stroke-linecap="round"/>
<polyline points="1044.89,724.55 1055.88,730.1 1066.86,737.16 1077.85,744.56 1088.84,750.78 1099.83,757.34 1110.81,768.44 1121.8,779.2 1132.79,784.58 1143.77,784.58 1154.76,789.63 1165.75,793.66 1176.74,791.81 1187.72,785.42 1198.71,783.57" fill="none" stroke="#f3de10" stroke-width="3.1" stroke-linejoin="round" stroke-linecap="round"/>
<line x1="1037.2" x2="1206.4" y1="779.2" y2="779.2" stroke="#000" stroke-width="2.3" stroke-dasharray="7.1 6.75"/>
<line x1="1121.8" x2="1121.8" y1="879.5" y2="713.3" stroke="#000" stroke-width="2.3" stroke-dasharray="7.1 6.75"/>
</svg>
<line x1="1040.5" x2="1040.5" y1="879.5" y2="883.1" stroke="#222" stroke-width="1.3"/>
<text transform="translate(1040.5,892.3) scale(1,1)" font-size="9.3" fill="#1e1e1e" stroke="#1e1e1e" text-anchor="middle">1930</text>
<line x1="1084.44" x2="1084.44" y1="879.5" y2="883.1" stroke="#222" stroke-width="1.3"/>
<text transform="translate(1084.44,892.3) scale(1,1)" font-size="9.3" fill="#1e1e1e" stroke="#1e1e1e" text-anchor="middle">1950</text>
<line x1="1128.39" x2="1128.39" y1="879.5" y2="883.1" stroke="#222" stroke-width="1.3"/>
<text transform="translate(1128.39,892.3) scale(1,1)" font-size="9.3" fill="#1e1e1e" stroke="#1e1e1e" text-anchor="middle">1970</text>
<line x1="1172.34" x2="1172.34" y1="879.5" y2="883.1" stroke="#222" stroke-width="1.3"/>
<text transform="translate(1172.34,892.3) scale(1,1)" font-size="9.3" fill="#1e1e1e" stroke="#1e1e1e" text-anchor="middle">1990</text>
<text x="945.9" y="908.2" font-size="12.7" fill="#000" stroke="#000" text-anchor="middle">Birth cohort</text>
<text transform="translate(659.4,699.5) rotate(-90)" font-size="12.7" fill="#000" stroke="#000" text-anchor="middle">Risk ratio</text>
<text x="1225.8" y="671.2" font-size="12.5" fill="#000" stroke="#000">group</text>
<rect x="1226.1" y="679.8" width="19.6" height="59.55" fill="#ebebeb"/>
<line x1="1227.6" x2="1243.6" y1="689.4" y2="689.4" stroke="#251b40" stroke-width="3.1"/>
<text x="1251.8" y="693.1" font-size="10.2" fill="#000" stroke="#000">Male</text>
<line x1="1227.6" x2="1243.6" y1="709.25" y2="709.25" stroke="#17877b" stroke-width="3.1"/>
<text x="1251.8" y="712.95" font-size="10.2" fill="#000" stroke="#000">Female</text>
<line x1="1227.6" x2="1243.6" y1="729.1" y2="729.1" stroke="#f3de10" stroke-width="3.1"/>
<text x="1251.8" y="732.8" font-size="10.2" fill="#000" stroke="#000">Both</text>
<text x="947" y="954.6" font-size="34" font-weight="bold" fill="#1a1410" stroke="#1a1410" style="stroke:none" text-anchor="middle" font-family="'Liberation Serif', 'Times New Roman', serif">E</text>
<rect x="1336" y="499.2" width="167.4" height="20.3" fill="#d9d9d9"/>
<text x="1419.7" y="513.15" font-size="10.3" fill="#1a1a1a" stroke="#1a1a1a" text-anchor="middle">Global</text>
<rect x="1336" y="519.5" width="167.4" height="166.3" fill="#ebebeb"/>
<svg x="1336" y="519.5" width="167.4" height="166.3" viewBox="1336 519.5 167.4 166.3" overflow="hidden">
<line x1="1336" x2="1503.4" y1="668.1" y2="668.1" stroke="#fff" stroke-width="1.0"/>
<line x1="1336" x2="1503.4" y1="636.3" y2="636.3" stroke="#fff" stroke-width="1.0"/>
<line x1="1336" x2="1503.4" y1="604.5" y2="604.5" stroke="#fff" stroke-width="1.0"/>
<line x1="1336" x2="1503.4" y1="572.7" y2="572.7" stroke="#fff" stroke-width="1.0"/>
<line x1="1336" x2="1503.4" y1="540.9" y2="540.9" stroke="#fff" stroke-width="1.0"/>
<line x1="1361.87" x2="1361.87" y1="519.5" y2="685.8" stroke="#fff" stroke-width="1.0"/>
<line x1="1392.31" x2="1392.31" y1="519.5" y2="685.8" stroke="#fff" stroke-width="1.0"/>
<line x1="1422.74" x2="1422.74" y1="519.5" y2="685.8" stroke="#fff" stroke-width="1.0"/>
<line x1="1453.18" x2="1453.18" y1="519.5" y2="685.8" stroke="#fff" stroke-width="1.0"/>
<line x1="1483.62" x2="1483.62" y1="519.5" y2="685.8" stroke="#fff" stroke-width="1.0"/>
<line x1="1336" x2="1503.4" y1="684" y2="684" stroke="#fff" stroke-width="1.5"/>
<line x1="1336" x2="1503.4" y1="652.2" y2="652.2" stroke="#fff" stroke-width="1.5"/>
<line x1="1336" x2="1503.4" y1="620.4" y2="620.4" stroke="#fff" stroke-width="1.5"/>
<line x1="1336" x2="1503.4" y1="588.6" y2="588.6" stroke="#fff" stroke-width="1.5"/>
<line x1="1336" x2="1503.4" y1="556.8" y2="556.8" stroke="#fff" stroke-width="1.5"/>
<line x1="1336" x2="1503.4" y1="525" y2="525" stroke="#fff" stroke-width="1.5"/>
<line x1="1346.65" x2="1346.65" y1="519.5" y2="685.8" stroke="#fff" stroke-width="1.5"/>
<line x1="1377.09" x2="1377.09" y1="519.5" y2="685.8" stroke="#fff" stroke-width="1.5"/>
<line x1="1407.53" x2="1407.53" y1="519.5" y2="685.8" stroke="#fff" stroke-width="1.5"/>
<line x1="1437.96" x2="1437.96" y1="519.5" y2="685.8" stroke="#fff" stroke-width="1.5"/>
<line x1="1468.4" x2="1468.4" y1="519.5" y2="685.8" stroke="#fff" stroke-width="1.5"/>
<line x1="1498.83" x2="1498.83" y1="519.5" y2="685.8" stroke="#fff" stroke-width="1.5"/>
<polyline points="1343.61,573.34 1374.05,589.24 1404.48,600.68 1434.92,620.4 1465.35,642.66 1495.79,659.2" fill="none" stroke="#251b40" stroke-width="3.1" stroke-linejoin="round" stroke-linecap="round"/>
<polyline points="1343.61,559.98 1374.05,577.15 1404.48,596.23 1434.92,620.4 1465.35,646.48 1495.79,654.74" fill="none" stroke="#17877b" stroke-width="3.1" stroke-linejoin="round" stroke-linecap="round"/>
<polyline points="1343.61,565.7 1374.05,582.88 1404.48,598.14 1434.92,620.4 1465.35,645.2 1495.79,656.65" fill="none" stroke="#f3de10" stroke-width="3.1" stroke-linejoin="round" stroke-linecap="round"/>
<line x1="1336" x2="1503.4" y1="620.4" y2="620.4" stroke="#000" stroke-width="2.3" stroke-dasharray="7.1 6.75"/>
<line x1="1434.92" x2="1434.92" y1="685.8" y2="519.5" stroke="#000" stroke-width="2.3" stroke-dasharray="7.1 6.75"/>
</svg>
<line x1="1332.4" x2="1336" y1="684" y2="684" stroke="#222" stroke-width="1.3"/>
<text transform="translate(1330,687.17) scale(1,1)" font-size="9.9" fill="#1e1e1e" stroke="#1e1e1e" text-anchor="end">0.90</text>
<line x1="1332.4" x2="1336" y1="652.2" y2="652.2" stroke="#222" stroke-width="1.3"/>
<text transform="translate(1330,655.37) scale(1,1)" font-size="9.9" fill="#1e1e1e" stroke="#1e1e1e" text-anchor="end">0.95</text>
<line x1="1332.4" x2="1336" y1="620.4" y2="620.4" stroke="#222" stroke-width="1.3"/>
<text transform="translate(1330,623.57) scale(1,1)" font-size="9.9" fill="#1e1e1e" stroke="#1e1e1e" text-anchor="end">1.00</text>
<line x1="1332.4" x2="1336" y1="588.6" y2="588.6" stroke="#222" stroke-width="1.3"/>
<text transform="translate(1330,591.77) scale(1,1)" font-size="9.9" fill="#1e1e1e" stroke="#1e1e1e" text-anchor="end">1.05</text>
<line x1="1332.4" x2="1336" y1="556.8" y2="556.8" stroke="#222" stroke-width="1.3"/>
<text transform="translate(1330,559.97) scale(1,1)" font-size="9.9" fill="#1e1e1e" stroke="#1e1e1e" text-anchor="end">1.10</text>
<line x1="1332.4" x2="1336" y1="525" y2="525" stroke="#222" stroke-width="1.3"/>
<text transform="translate(1330,528.17) scale(1,1)" font-size="9.9" fill="#1e1e1e" stroke="#1e1e1e" text-anchor="end">1.15</text>
<rect x="1510" y="499.2" width="167.7" height="20.3" fill="#d9d9d9"/>
<text x="1593.85" y="513.15" font-size="10.3" fill="#1a1a1a" stroke="#1a1a1a" text-anchor="middle">Low SDI</text>
<rect x="1510" y="519.5" width="167.7" height="166.3" fill="#ebebeb"/>
<svg x="1510" y="519.5" width="167.7" height="166.3" viewBox="1510 519.5 167.7 166.3" overflow="hidden">
<line x1="1510" x2="1677.7" y1="668.1" y2="668.1" stroke="#fff" stroke-width="1.0"/>
<line x1="1510" x2="1677.7" y1="636.3" y2="636.3" stroke="#fff" stroke-width="1.0"/>
<line x1="1510" x2="1677.7" y1="604.5" y2="604.5" stroke="#fff" stroke-width="1.0"/>
<line x1="1510" x2="1677.7" y1="572.7" y2="572.7" stroke="#fff" stroke-width="1.0"/>
<line x1="1510" x2="1677.7" y1="540.9" y2="540.9" stroke="#fff" stroke-width="1.0"/>
<line x1="1535.92" x2="1535.92" y1="519.5" y2="685.8" stroke="#fff" stroke-width="1.0"/>
<line x1="1566.41" x2="1566.41" y1="519.5" y2="685.8" stroke="#fff" stroke-width="1.0"/>
<line x1="1596.9" x2="1596.9" y1="519.5" y2="685.8" stroke="#fff" stroke-width="1.0"/>
<line x1="1627.39" x2="1627.39" y1="519.5" y2="685.8" stroke="#fff" stroke-width="1.0"/>
<line x1="1657.88" x2="1657.88" y1="519.5" y2="685.8" stroke="#fff" stroke-width="1.0"/>
<line x1="1510" x2="1677.7" y1="684" y2="684" stroke="#fff" stroke-width="1.5"/>
<line x1="1510" x2="1677.7" y1="652.2" y2="652.2" stroke="#fff" stroke-width="1.5"/>
<line x1="1510" x2="1677.7" y1="620.4" y2="620.4" stroke="#fff" stroke-width="1.5"/>
<line x1="1510" x2="1677.7" y1="588.6" y2="588.6" stroke="#fff" stroke-width="1.5"/>
<line x1="1510" x2="1677.7" y1="556.8" y2="556.8" stroke="#fff" stroke-width="1.5"/>
<line x1="1510" x2="1677.7" y1="525" y2="525" stroke="#fff" stroke-width="1.5"/>
<line x1="1520.67" x2="1520.67" y1="519.5" y2="685.8" stroke="#fff" stroke-width="1.5"/>
<line x1="1551.16" x2="1551.16" y1="519.5" y2="685.8" stroke="#fff" stroke-width="1.5"/>
<line x1="1581.65" x2="1581.65" y1="519.5" y2="685.8" stroke="#fff" stroke-width="1.5"/>
<line x1="1612.14" x2="1612.14" y1="519.5" y2="685.8" stroke="#fff" stroke-width="1.5"/>
<line x1="1642.64" x2="1642.64" y1="519.5" y2="685.8" stroke="#fff" stroke-width="1.5"/>
<line x1="1673.13" x2="1673.13" y1="519.5" y2="685.8" stroke="#fff" stroke-width="1.5"/>
<polyline points="1517.62,542.17 1548.11,569.52 1578.6,594.96 1609.1,620.4 1639.59,652.84 1670.08,678.28" fill="none" stroke="#251b40" stroke-width="3.1" stroke-linejoin="round" stroke-linecap="round"/>
<polyline points="1517.62,526.91 1548.11,558.71 1578.6,586.69 1609.1,620.4 1639.59,651.56 1670.08,678.91" fill="none" stroke="#17877b" stroke-width="3.1" stroke-linejoin="round" stroke-linecap="round"/>
<polyline points="1517.62,533.9 1548.11,564.43 1578.6,592.42 1609.1,620.4 1639.59,652.2 1670.08,678.28" fill="none" stroke="#f3de10" stroke-width="3.1" stroke-linejoin="round" stroke-linecap="round"/>
<line x1="1510" x2="1677.7" y1="620.4" y2="620.4" stroke="#000" stroke-width="2.3" stroke-dasharray="7.1 6.75"/>
<line x1="1609.1" x2="1609.1" y1="685.8" y2="519.5" stroke="#000" stroke-width="2.3" stroke-dasharray="7.1 6.75"/>
</svg>
<rect x="1684.1" y="499.2" width="167.6" height="20.3" fill="#d9d9d9"/>
<text x="1767.9" y="513.15" font-size="10.3" fill="#1a1a1a" stroke="#1a1a1a" text-anchor="middle">Low&#8722;middle SDI</text>
<rect x="1684.1" y="519.5" width="167.6" height="166.3" fill="#ebebeb"/>
<svg x="1684.1" y="519.5" width="167.6" height="166.3" viewBox="1684.1 519.5 167.6 166.3" overflow="hidden">
<line x1="1684.1" x2="1851.7" y1="668.1" y2="668.1" stroke="#fff" stroke-width="1.0"/>
<line x1="1684.1" x2="1851.7" y1="636.3" y2="636.3" stroke="#fff" stroke-width="1.0"/>
<line x1="1684.1" x2="1851.7" y1="604.5" y2="604.5" stroke="#fff" stroke-width="1.0"/>
<line x1="1684.1" x2="1851.7" y1="572.7" y2="572.7" stroke="#fff" stroke-width="1.0"/>
<line x1="1684.1" x2="1851.7" y1="540.9" y2="540.9" stroke="#fff" stroke-width="1.0"/>
<line x1="1710" x2="1710" y1="519.5" y2="685.8" stroke="#fff" stroke-width="1.0"/>
<line x1="1740.47" x2="1740.47" y1="519.5" y2="685.8" stroke="#fff" stroke-width="1.0"/>
<line x1="1770.95" x2="1770.95" y1="519.5" y2="685.8" stroke="#fff" stroke-width="1.0"/>
<line x1="1801.42" x2="1801.42" y1="519.5" y2="685.8" stroke="#fff" stroke-width="1.0"/>
<line x1="1831.89" x2="1831.89" y1="519.5" y2="685.8" stroke="#fff" stroke-width="1.0"/>
<line x1="1684.1" x2="1851.7" y1="684" y2="684" stroke="#fff" stroke-width="1.5"/>
<line x1="1684.1" x2="1851.7" y1="652.2" y2="652.2" stroke="#fff" stroke-width="1.5"/>
<line x1="1684.1" x2="1851.7" y1="620.4" y2="620.4" stroke="#fff" stroke-width="1.5"/>
<line x1="1684.1" x2="1851.7" y1="588.6" y2="588.6" stroke="#fff" stroke-width="1.5"/>
<line x1="1684.1" x2="1851.7" y1="556.8" y2="556.8" stroke="#fff" stroke-width="1.5"/>
<line x1="1684.1" x2="1851.7" y1="525" y2="525" stroke="#fff" stroke-width="1.5"/>
<line x1="1694.77" x2="1694.77" y1="519.5" y2="685.8" stroke="#fff" stroke-width="1.5"/>
<line x1="1725.24" x2="1725.24" y1="519.5" y2="685.8" stroke="#fff" stroke-width="1.5"/>
<line x1="1755.71" x2="1755.71" y1="519.5" y2="685.8" stroke="#fff" stroke-width="1.5"/>
<line x1="1786.18" x2="1786.18" y1="519.5" y2="685.8" stroke="#fff" stroke-width="1.5"/>
<line x1="1816.66" x2="1816.66" y1="519.5" y2="685.8" stroke="#fff" stroke-width="1.5"/>
<line x1="1847.13" x2="1847.13" y1="519.5" y2="685.8" stroke="#fff" stroke-width="1.5"/>
<polyline points="1691.72,577.15 1722.19,595.6 1752.66,608.95 1783.14,620.4 1813.61,642.02 1844.08,657.92" fill="none" stroke="#251b40" stroke-width="3.1" stroke-linejoin="round" stroke-linecap="round"/>
<polyline points="1691.72,565.7 1722.19,584.78 1752.66,600.05 1783.14,620.4 1813.61,643.3 1844.08,660.47" fill="none" stroke="#17877b" stroke-width="3.1" stroke-linejoin="round" stroke-linecap="round"/>
<polyline points="1691.72,572.06 1722.19,589.24 1752.66,605.14 1783.14,620.4 1813.61,642.02 1844.08,657.29" fill="none" stroke="#f3de10" stroke-width="3.1" stroke-linejoin="round" stroke-linecap="round"/>
<line x1="1684.1" x2="1851.7" y1="620.4" y2="620.4" stroke="#000" stroke-width="2.3" stroke-dasharray="7.1 6.75"/>
<line x1="1783.14" x2="1783.14" y1="685.8" y2="519.5" stroke="#000" stroke-width="2.3" stroke-dasharray="7.1 6.75"/>
</svg>
<rect x="1336" y="693.3" width="167.4" height="20" fill="#d9d9d9"/>
<text x="1419.7" y="707.1" font-size="10.3" fill="#1a1a1a" stroke="#1a1a1a" text-anchor="middle">Middle SDI</text>
<rect x="1336" y="713.3" width="167.4" height="166.8" fill="#ebebeb"/>
<svg x="1336" y="713.3" width="167.4" height="166.8" viewBox="1336 713.3 167.4 166.8" overflow="hidden">
<line x1="1336" x2="1503.4" y1="861.8" y2="861.8" stroke="#fff" stroke-width="1.0"/>
<line x1="1336" x2="1503.4" y1="830.2" y2="830.2" stroke="#fff" stroke-width="1.0"/>
<line x1="1336" x2="1503.4" y1="798.6" y2="798.6" stroke="#fff" stroke-width="1.0"/>
<line x1="1336" x2="1503.4" y1="767" y2="767" stroke="#fff" stroke-width="1.0"/>
<line x1="1336" x2="1503.4" y1="735.4" y2="735.4" stroke="#fff" stroke-width="1.0"/>
<line x1="1361.87" x2="1361.87" y1="713.3" y2="880.1" stroke="#fff" stroke-width="1.0"/>
<line x1="1392.31" x2="1392.31" y1="713.3" y2="880.1" stroke="#fff" stroke-width="1.0"/>
<line x1="1422.74" x2="1422.74" y1="713.3" y2="880.1" stroke="#fff" stroke-width="1.0"/>
<line x1="1453.18" x2="1453.18" y1="713.3" y2="880.1" stroke="#fff" stroke-width="1.0"/>
<line x1="1483.62" x2="1483.62" y1="713.3" y2="880.1" stroke="#fff" stroke-width="1.0"/>
<line x1="1336" x2="1503.4" y1="877.6" y2="877.6" stroke="#fff" stroke-width="1.5"/>
<line x1="1336" x2="1503.4" y1="846" y2="846" stroke="#fff" stroke-width="1.5"/>
<line x1="1336" x2="1503.4" y1="814.4" y2="814.4" stroke="#fff" stroke-width="1.5"/>
<line x1="1336" x2="1503.4" y1="782.8" y2="782.8" stroke="#fff" stroke-width="1.5"/>
<line x1="1336" x2="1503.4" y1="751.2" y2="751.2" stroke="#fff" stroke-width="1.5"/>
<line x1="1336" x2="1503.4" y1="719.6" y2="719.6" stroke="#fff" stroke-width="1.5"/>
<line x1="1346.65" x2="1346.65" y1="713.3" y2="880.1" stroke="#fff" stroke-width="1.5"/>
<line x1="1377.09" x2="1377.09" y1="713.3" y2="880.1" stroke="#fff" stroke-width="1.5"/>
<line x1="1407.53" x2="1407.53" y1="713.3" y2="880.1" stroke="#fff" stroke-width="1.5"/>
<line x1="1437.96" x2="1437.96" y1="713.3" y2="880.1" stroke="#fff" stroke-width="1.5"/>
<line x1="1468.4" x2="1468.4" y1="713.3" y2="880.1" stroke="#fff" stroke-width="1.5"/>
<line x1="1498.83" x2="1498.83" y1="713.3" y2="880.1" stroke="#fff" stroke-width="1.5"/>
<polyline points="1343.61,822.62 1374.05,824.51 1404.48,816.3 1434.92,814.4 1465.35,828.94 1495.79,838.42" fill="none" stroke="#251b40" stroke-width="3.1" stroke-linejoin="round" stroke-linecap="round"/>
<polyline points="1343.61,784.06 1374.05,792.28 1404.48,801.76 1434.92,814.4 1465.35,833.99 1495.79,839.68" fill="none" stroke="#17877b" stroke-width="3.1" stroke-linejoin="round" stroke-linecap="round"/>
<polyline points="1343.61,800.5 1374.05,804.92 1404.48,806.82 1434.92,814.4 1465.35,831.46 1495.79,839.68" fill="none" stroke="#f3de10" stroke-width="3.1" stroke-linejoin="round" stroke-linecap="round"/>
<line x1="1336" x2="1503.4" y1="814.4" y2="814.4" stroke="#000" stroke-width="2.3" stroke-dasharray="7.1 6.75"/>
<line x1="1434.92" x2="1434.92" y1="880.1" y2="713.3" stroke="#000" stroke-width="2.3" stroke-dasharray="7.1 6.75"/>
</svg>
<line x1="1332.4" x2="1336" y1="877.6" y2="877.6" stroke="#222" stroke-width="1.3"/>
<text transform="translate(1330,880.77) scale(1,1)" font-size="9.9" fill="#1e1e1e" stroke="#1e1e1e" text-anchor="end">0.90</text>
<line x1="1332.4" x2="1336" y1="846" y2="846" stroke="#222" stroke-width="1.3"/>
<text transform="translate(1330,849.17) scale(1,1)" font-size="9.9" fill="#1e1e1e" stroke="#1e1e1e" text-anchor="end">0.95</text>
<line x1="1332.4" x2="1336" y1="814.4" y2="814.4" stroke="#222" stroke-width="1.3"/>
<text transform="translate(1330,817.57) scale(1,1)" font-size="9.9" fill="#1e1e1e" stroke="#1e1e1e" text-anchor="end">1.00</text>
<line x1="1332.4" x2="1336" y1="782.8" y2="782.8" stroke="#222" stroke-width="1.3"/>
<text transform="translate(1330,785.97) scale(1,1)" font-size="9.9" fill="#1e1e1e" stroke="#1e1e1e" text-anchor="end">1.05</text>
<line x1="1332.4" x2="1336" y1="751.2" y2="751.2" stroke="#222" stroke-width="1.3"/>
<text transform="translate(1330,754.37) scale(1,1)" font-size="9.9" fill="#1e1e1e" stroke="#1e1e1e" text-anchor="end">1.10</text>
<line x1="1332.4" x2="1336" y1="719.6" y2="719.6" stroke="#222" stroke-width="1.3"/>
<text transform="translate(1330,722.77) scale(1,1)" font-size="9.9" fill="#1e1e1e" stroke="#1e1e1e" text-anchor="end">1.15</text>
<line x1="1346.65" x2="1346.65" y1="880.1" y2="883.7" stroke="#222" stroke-width="1.3"/>
<text transform="translate(1346.65,892.9) scale(1,1)" font-size="9.3" fill="#1e1e1e" stroke="#1e1e1e" text-anchor="middle">1995</text>
<line x1="1377.09" x2="1377.09" y1="880.1" y2="883.7" stroke="#222" stroke-width="1.3"/>
<text transform="translate(1377.09,892.9) scale(1,1)" font-size="9.3" fill="#1e1e1e" stroke="#1e1e1e" text-anchor="middle">2000</text>
<line x1="1407.53" x2="1407.53" y1="880.1" y2="883.7" stroke="#222" stroke-width="1.3"/>
<text transform="translate(1407.53,892.9) scale(1,1)" font-size="9.3" fill="#1e1e1e" stroke="#1e1e1e" text-anchor="middle">2005</text>
<line x1="1437.96" x2="1437.96" y1="880.1" y2="883.7" stroke="#222" stroke-width="1.3"/>
<text transform="translate(1437.96,892.9) scale(1,1)" font-size="9.3" fill="#1e1e1e" stroke="#1e1e1e" text-anchor="middle">2010</text>
<line x1="1468.4" x2="1468.4" y1="880.1" y2="883.7" stroke="#222" stroke-width="1.3"/>
<text transform="translate(1468.4,892.9) scale(1,1)" font-size="9.3" fill="#1e1e1e" stroke="#1e1e1e" text-anchor="middle">2015</text>
<line x1="1498.83" x2="1498.83" y1="880.1" y2="883.7" stroke="#222" stroke-width="1.3"/>
<text transform="translate(1498.83,892.9) scale(1,1)" font-size="9.3" fill="#1e1e1e" stroke="#1e1e1e" text-anchor="middle">2020</text>
<rect x="1510" y="693.3" width="167.7" height="20" fill="#d9d9d9"/>
<text x="1593.85" y="707.1" font-size="10.3" fill="#1a1a1a" stroke="#1a1a1a" text-anchor="middle">High&#8722;middle SDI</text>
<rect x="1510" y="713.3" width="167.7" height="166.8" fill="#ebebeb"/>
<svg x="1510" y="713.3" width="167.7" height="166.8" viewBox="1510 713.3 167.7 166.8" overflow="hidden">
<line x1="1510" x2="1677.7" y1="861.8" y2="861.8" stroke="#fff" stroke-width="1.0"/>
<line x1="1510" x2="1677.7" y1="830.2" y2="830.2" stroke="#fff" stroke-width="1.0"/>
<line x1="1510" x2="1677.7" y1="798.6" y2="798.6" stroke="#fff" stroke-width="1.0"/>
<line x1="1510" x2="1677.7" y1="767" y2="767" stroke="#fff" stroke-width="1.0"/>
<line x1="1510" x2="1677.7" y1="735.4" y2="735.4" stroke="#fff" stroke-width="1.0"/>
<line x1="1535.92" x2="1535.92" y1="713.3" y2="880.1" stroke="#fff" stroke-width="1.0"/>
<line x1="1566.41" x2="1566.41" y1="713.3" y2="880.1" stroke="#fff" stroke-width="1.0"/>
<line x1="1596.9" x2="1596.9" y1="713.3" y2="880.1" stroke="#fff" stroke-width="1.0"/>
<line x1="1627.39" x2="1627.39" y1="713.3" y2="880.1" stroke="#fff" stroke-width="1.0"/>
<line x1="1657.88" x2="1657.88" y1="713.3" y2="880.1" stroke="#fff" stroke-width="1.0"/>
<line x1="1510" x2="1677.7" y1="877.6" y2="877.6" stroke="#fff" stroke-width="1.5"/>
<line x1="1510" x2="1677.7" y1="846" y2="846" stroke="#fff" stroke-width="1.5"/>
<line x1="1510" x2="1677.7" y1="814.4" y2="814.4" stroke="#fff" stroke-width="1.5"/>
<line x1="1510" x2="1677.7" y1="782.8" y2="782.8" stroke="#fff" stroke-width="1.5"/>
<line x1="1510" x2="1677.7" y1="751.2" y2="751.2" stroke="#fff" stroke-width="1.5"/>
<line x1="1510" x2="1677.7" y1="719.6" y2="719.6" stroke="#fff" stroke-width="1.5"/>
<line x1="1520.67" x2="1520.67" y1="713.3" y2="880.1" stroke="#fff" stroke-width="1.5"/>
<line x1="1551.16" x2="1551.16" y1="713.3" y2="880.1" stroke="#fff" stroke-width="1.5"/>
<line x1="1581.65" x2="1581.65" y1="713.3" y2="880.1" stroke="#fff" stroke-width="1.5"/>
<line x1="1612.14" x2="1612.14" y1="713.3" y2="880.1" stroke="#fff" stroke-width="1.5"/>
<line x1="1642.64" x2="1642.64" y1="713.3" y2="880.1" stroke="#fff" stroke-width="1.5"/>
<line x1="1673.13" x2="1673.13" y1="713.3" y2="880.1" stroke="#fff" stroke-width="1.5"/>
<polyline points="1517.62,839.05 1548.11,833.99 1578.6,821.98 1609.1,814.4 1639.59,824.51 1670.08,833.99" fill="none" stroke="#251b40" stroke-width="3.1" stroke-linejoin="round" stroke-linecap="round"/>
<polyline points="1517.62,842.21 1548.11,829.57 1578.6,818.82 1609.1,814.4 1639.59,822.62 1670.08,826.41" fill="none" stroke="#17877b" stroke-width="3.1" stroke-linejoin="round" stroke-linecap="round"/>
<polyline points="1517.62,840.31 1548.11,830.2 1578.6,819.46 1609.1,814.4 1639.59,824.51 1670.08,830.2" fill="none" stroke="#f3de10" stroke-width="3.1" stroke-linejoin="round" stroke-linecap="round"/>
<line x1="1510" x2="1677.7" y1="814.4" y2="814.4" stroke="#000" stroke-width="2.3" stroke-dasharray="7.1 6.75"/>
<line x1="1609.1" x2="1609.1" y1="880.1" y2="713.3" stroke="#000" stroke-width="2.3" stroke-dasharray="7.1 6.75"/>
</svg>
<line x1="1520.67" x2="1520.67" y1="880.1" y2="883.7" stroke="#222" stroke-width="1.3"/>
<text transform="translate(1520.67,892.9) scale(1,1)" font-size="9.3" fill="#1e1e1e" stroke="#1e1e1e" text-anchor="middle">1995</text>
<line x1="1551.16" x2="1551.16" y1="880.1" y2="883.7" stroke="#222" stroke-width="1.3"/>
<text transform="translate(1551.16,892.9) scale(1,1)" font-size="9.3" fill="#1e1e1e" stroke="#1e1e1e" text-anchor="middle">2000</text>
<line x1="1581.65" x2="1581.65" y1="880.1" y2="883.7" stroke="#222" stroke-width="1.3"/>
<text transform="translate(1581.65,892.9) scale(1,1)" font-size="9.3" fill="#1e1e1e" stroke="#1e1e1e" text-anchor="middle">2005</text>
<line x1="1612.14" x2="1612.14" y1="880.1" y2="883.7" stroke="#222" stroke-width="1.3"/>
<text transform="translate(1612.14,892.9) scale(1,1)" font-size="9.3" fill="#1e1e1e" stroke="#1e1e1e" text-anchor="middle">2010</text>
<line x1="1642.64" x2="1642.64" y1="880.1" y2="883.7" stroke="#222" stroke-width="1.3"/>
<text transform="translate(1642.64,892.9) scale(1,1)" font-size="9.3" fill="#1e1e1e" stroke="#1e1e1e" text-anchor="middle">2015</text>
<line x1="1673.13" x2="1673.13" y1="880.1" y2="883.7" stroke="#222" stroke-width="1.3"/>
<text transform="translate(1673.13,892.9) scale(1,1)" font-size="9.3" fill="#1e1e1e" stroke="#1e1e1e" text-anchor="middle">2020</text>
<rect x="1684.1" y="693.3" width="167.6" height="20" fill="#d9d9d9"/>
<text x="1767.9" y="707.1" font-size="10.3" fill="#1a1a1a" stroke="#1a1a1a" text-anchor="middle">High SDI</text>
<rect x="1684.1" y="713.3" width="167.6" height="166.8" fill="#ebebeb"/>
<svg x="1684.1" y="713.3" width="167.6" height="166.8" viewBox="1684.1 713.3 167.6 166.8" overflow="hidden">
<line x1="1684.1" x2="1851.7" y1="861.8" y2="861.8" stroke="#fff" stroke-width="1.0"/>
<line x1="1684.1" x2="1851.7" y1="830.2" y2="830.2" stroke="#fff" stroke-width="1.0"/>
<line x1="1684.1" x2="1851.7" y1="798.6" y2="798.6" stroke="#fff" stroke-width="1.0"/>
<line x1="1684.1" x2="1851.7" y1="767" y2="767" stroke="#fff" stroke-width="1.0"/>
<line x1="1684.1" x2="1851.7" y1="735.4" y2="735.4" stroke="#fff" stroke-width="1.0"/>
<line x1="1710" x2="1710" y1="713.3" y2="880.1" stroke="#fff" stroke-width="1.0"/>
<line x1="1740.47" x2="1740.47" y1="713.3" y2="880.1" stroke="#fff" stroke-width="1.0"/>
<line x1="1770.95" x2="1770.95" y1="713.3" y2="880.1" stroke="#fff" stroke-width="1.0"/>
<line x1="1801.42" x2="1801.42" y1="713.3" y2="880.1" stroke="#fff" stroke-width="1.0"/>
<line x1="1831.89" x2="1831.89" y1="713.3" y2="880.1" stroke="#fff" stroke-width="1.0"/>
<line x1="1684.1" x2="1851.7" y1="877.6" y2="877.6" stroke="#fff" stroke-width="1.5"/>
<line x1="1684.1" x2="1851.7" y1="846" y2="846" stroke="#fff" stroke-width="1.5"/>
<line x1="1684.1" x2="1851.7" y1="814.4" y2="814.4" stroke="#fff" stroke-width="1.5"/>
<line x1="1684.1" x2="1851.7" y1="782.8" y2="782.8" stroke="#fff" stroke-width="1.5"/>
<line x1="1684.1" x2="1851.7" y1="751.2" y2="751.2" stroke="#fff" stroke-width="1.5"/>
<line x1="1684.1" x2="1851.7" y1="719.6" y2="719.6" stroke="#fff" stroke-width="1.5"/>
<line x1="1694.77" x2="1694.77" y1="713.3" y2="880.1" stroke="#fff" stroke-width="1.5"/>
<line x1="1725.24" x2="1725.24" y1="713.3" y2="880.1" stroke="#fff" stroke-width="1.5"/>
<line x1="1755.71" x2="1755.71" y1="713.3" y2="880.1" stroke="#fff" stroke-width="1.5"/>
<line x1="1786.18" x2="1786.18" y1="713.3" y2="880.1" stroke="#fff" stroke-width="1.5"/>
<line x1="1816.66" x2="1816.66" y1="713.3" y2="880.1" stroke="#fff" stroke-width="1.5"/>
<line x1="1847.13" x2="1847.13" y1="713.3" y2="880.1" stroke="#fff" stroke-width="1.5"/>
<polyline points="1691.72,729.71 1722.19,753.1 1752.66,777.11 1783.14,814.4 1813.61,832.73 1844.08,827.04" fill="none" stroke="#251b40" stroke-width="3.1" stroke-linejoin="round" stroke-linecap="round"/>
<polyline points="1691.72,737.93 1722.19,761.94 1752.66,784.06 1783.14,814.4 1813.61,827.67 1844.08,821.98" fill="none" stroke="#17877b" stroke-width="3.1" stroke-linejoin="round" stroke-linecap="round"/>
<polyline points="1691.72,733.5 1722.19,757.52 1752.66,779.64 1783.14,814.4 1813.61,830.2 1844.08,824.51" fill="none" stroke="#f3de10" stroke-width="3.1" stroke-linejoin="round" stroke-linecap="round"/>
<line x1="1684.1" x2="1851.7" y1="814.4" y2="814.4" stroke="#000" stroke-width="2.3" stroke-dasharray="7.1 6.75"/>
<line x1="1783.14" x2="1783.14" y1="880.1" y2="713.3" stroke="#000" stroke-width="2.3" stroke-dasharray="7.1 6.75"/>
</svg>
<line x1="1694.77" x2="1694.77" y1="880.1" y2="883.7" stroke="#222" stroke-width="1.3"/>
<text transform="translate(1694.77,892.9) scale(1,1)" font-size="9.3" fill="#1e1e1e" stroke="#1e1e1e" text-anchor="middle">1995</text>
<line x1="1725.24" x2="1725.24" y1="880.1" y2="883.7" stroke="#222" stroke-width="1.3"/>
<text transform="translate(1725.24,892.9) scale(1,1)" font-size="9.3" fill="#1e1e1e" stroke="#1e1e1e" text-anchor="middle">2000</text>
<line x1="1755.71" x2="1755.71" y1="880.1" y2="883.7" stroke="#222" stroke-width="1.3"/>
<text transform="translate(1755.71,892.9) scale(1,1)" font-size="9.3" fill="#1e1e1e" stroke="#1e1e1e" text-anchor="middle">2005</text>
<line x1="1786.18" x2="1786.18" y1="880.1" y2="883.7" stroke="#222" stroke-width="1.3"/>
<text transform="translate(1786.18,892.9) scale(1,1)" font-size="9.3" fill="#1e1e1e" stroke="#1e1e1e" text-anchor="middle">2010</text>
<line x1="1816.66" x2="1816.66" y1="880.1" y2="883.7" stroke="#222" stroke-width="1.3"/>
<text transform="translate(1816.66,892.9) scale(1,1)" font-size="9.3" fill="#1e1e1e" stroke="#1e1e1e" text-anchor="middle">2015</text>
<line x1="1847.13" x2="1847.13" y1="880.1" y2="883.7" stroke="#222" stroke-width="1.3"/>
<text transform="translate(1847.13,892.9) scale(1,1)" font-size="9.3" fill="#1e1e1e" stroke="#1e1e1e" text-anchor="middle">2020</text>
<text x="1593.85" y="907.9" font-size="12.7" fill="#000" stroke="#000" text-anchor="middle">Periods (year)</text>
<text transform="translate(1304.6,700) rotate(-90)" font-size="12.7" fill="#000" stroke="#000" text-anchor="middle">Rate ratio</text>
<text x="1870.9" y="671.2" font-size="12.5" fill="#000" stroke="#000">group</text>
<rect x="1871.2" y="679.8" width="19.6" height="59.55" fill="#ebebeb"/>
<line x1="1872.7" x2="1888.7" y1="689.4" y2="689.4" stroke="#251b40" stroke-width="3.1"/>
<text x="1896.9" y="693.1" font-size="10.2" fill="#000" stroke="#000">Male</text>
<line x1="1872.7" x2="1888.7" y1="709.25" y2="709.25" stroke="#17877b" stroke-width="3.1"/>
<text x="1896.9" y="712.95" font-size="10.2" fill="#000" stroke="#000">Female</text>
<line x1="1872.7" x2="1888.7" y1="729.1" y2="729.1" stroke="#f3de10" stroke-width="3.1"/>
<text x="1896.9" y="732.8" font-size="10.2" fill="#000" stroke="#000">Both</text>
<text x="1610.6" y="954.6" font-size="34" font-weight="bold" fill="#1a1410" stroke="#1a1410" style="stroke:none" text-anchor="middle" font-family="'Liberation Serif', 'Times New Roman', serif">F</text>
</svg>
</body></html>
